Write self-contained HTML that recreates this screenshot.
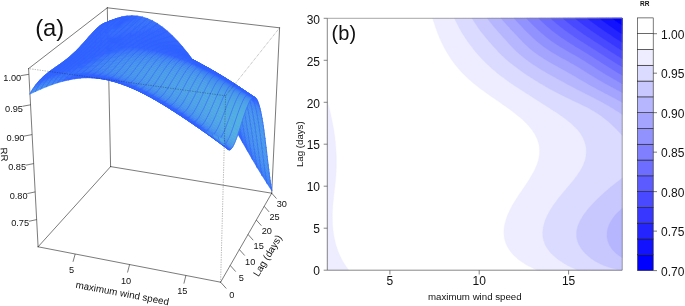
<!DOCTYPE html>
<html><head><meta charset="utf-8"><title>Figure</title><style>html,body{margin:0;padding:0;background:#fff}body{width:685px;height:306px;overflow:hidden;position:relative;font-family:"Liberation Sans",sans-serif}</style></head><body>
<div style="will-change:transform;position:absolute;left:0;top:0;width:685px;height:306px">
<svg width="685" height="306" viewBox="0 0 685 306" style="position:absolute;left:0;top:0;font-family:'Liberation Sans',sans-serif">
<rect width="685" height="306" fill="#fff"/>
<g stroke="#222" stroke-width="0.6" fill="none" stroke-linecap="round">
<path d="M38.1 246.8L220.6 282.2"/>
<path d="M220.6 282.2L271.7 193.2"/>
<path d="M271.7 193.2L110.6 166.6"/>
<path d="M110.6 166.6L38.1 246.8"/>
<path d="M38.1 246.8L28.6 68.6"/>
<path d="M28.6 68.6L107.3 7.8"/>
<path d="M107.3 7.8L279.6 27.8"/>
<path d="M279.6 27.8L271.7 193.2"/>
<path d="M110.6 166.6L107.3 7.8"/>
</g>
<g transform="scale(.1)" fill="none" stroke="#2f62ff" stroke-width="6" stroke-linecap="round" stroke-linejoin="round">
<path d="M1064 227l49-22l11-3l-48 24z" fill="#2f62ff" stroke="#2f62ff" stroke-width="7"/>
<path d="M1064 227L1076 226"/>
<path d="M1113 205l49-18l12-5l-50 20z" fill="#2f62ff" stroke="#2f62ff" stroke-width="7"/>
<path d="M1162 187l50-13l11-6l-49 14z" fill="#2f62ff" stroke="#2f62ff" stroke-width="7"/>
<path d="M1212 174l50-7l11-8l-50 9z" fill="#2f62ff" stroke="#2f62ff" stroke-width="7"/>
<path d="M1262 167l50-2l11-8l-50 2z" fill="#2f62ff" stroke="#2f62ff" stroke-width="7"/>
<path d="M1312 165l51 4l10-9l-50-3z" fill="#2f62ff" stroke="#2f62ff" stroke-width="7"/>
<path d="M1363 169l50 10l11-9l-51-10z" fill="#3167fd" stroke="#3167fd" stroke-width="7"/>
<path d="M1413 179l51 16l10-9l-50-16z" fill="#356efa" stroke="#356efa" stroke-width="7"/>
<path d="M1413 179L1424 170"/>
<path d="M1464 195l51 22l10-9l-51-22z" fill="#3671f9" stroke="#3671f9" stroke-width="7"/>
<path d="M1464 195L1474 186"/>
<path d="M1515 217l51 28l10-8l-51-29z" fill="#356ffa" stroke="#356ffa" stroke-width="7"/>
<path d="M1515 217L1525 208"/>
<path d="M1566 245l51 34l10-6l-51-36z" fill="#3269fc" stroke="#3269fc" stroke-width="7"/>
<path d="M1566 245L1576 237"/>
<path d="M1617 279l51 39l10-4l-51-41z" fill="#2f62ff" stroke="#2f62ff" stroke-width="7"/>
<path d="M1668 318l51 46l10-2l-51-48z" fill="#2f62ff" stroke="#2f62ff" stroke-width="7"/>
<path d="M1719 364l51 51l10 0l-51-53z" fill="#2f62ff" stroke="#2f62ff" stroke-width="7"/>
<path d="M1770 415l51 56l10 3l-51-59z" fill="#2f62ff" stroke="#2f62ff" stroke-width="7"/>
<path d="M1821 471l51 61l10 5l-51-63z" fill="#2f62ff" stroke="#2f62ff" stroke-width="7"/>
<path d="M1872 532l51 65l9 8l-50-68z" fill="#2f62ff" stroke="#2f62ff" stroke-width="7"/>
<path d="M1923 597l51 70l9 11l-51-73z" fill="#2f62ff" stroke="#2f62ff" stroke-width="7"/>
<path d="M1974 667l50 73l9 13l-50-75z" fill="#2f62ff" stroke="#2f62ff" stroke-width="7"/>
<path d="M2024 740l51 76l8 16l-50-79z" fill="#2f62ff" stroke="#2f62ff" stroke-width="7"/>
<path d="M2075 816l50 79l8 19l-50-82z" fill="#2f62ff" stroke="#2f62ff" stroke-width="7"/>
<path d="M2125 895l50 81l8 21l-50-83z" fill="#2f62ff" stroke="#2f62ff" stroke-width="7"/>
<path d="M2175 976l49 82l8 24l-49-85z" fill="#2f62ff" stroke="#2f62ff" stroke-width="7"/>
<path d="M2224 1058l50 84l7 26l-49-86z" fill="#2f62ff" stroke="#2f62ff" stroke-width="7"/>
<path d="M2274 1142l49 85l7 28l-49-87z" fill="#2f62ff" stroke="#2f62ff" stroke-width="7"/>
<path d="M2323 1227l49 85l7 29l-49-86z" fill="#2f62ff" stroke="#2f62ff" stroke-width="7"/>
<path d="M2372 1312l49 84l7 31l-49-86z" fill="#2f62ff" stroke="#2f62ff" stroke-width="7"/>
<path d="M2421 1396l49 84l7 32l-49-85z" fill="#2f62ff" stroke="#2f62ff" stroke-width="7"/>
<path d="M2470 1480l49 83l6 33l-48-84z" fill="#3166fe" stroke="#3166fe" stroke-width="7"/>
<path d="M2519 1563l48 82l6 32l-48-81z" fill="#336bfb" stroke="#336bfb" stroke-width="7"/>
<path d="M2519 1563L2525 1596"/>
<path d="M2567 1645l49 80l6 32l-49-80z" fill="#356ffa" stroke="#356ffa" stroke-width="7"/>
<path d="M2567 1645L2573 1677"/>
<path d="M2616 1725l48 77l6 31l-48-76z" fill="#3671f9" stroke="#3671f9" stroke-width="7"/>
<path d="M2616 1725L2622 1757"/>
<path d="M2664 1802l49 75l5 30l-48-74z" fill="#3672f9" stroke="#3672f9" stroke-width="7"/>
<path d="M2664 1802L2670 1833M2713 1877L2718 1907"/>
<path d="M1053 229l49-20l11-4l-49 22z" fill="#2f62ff" stroke="#2f62ff" stroke-width="7"/>
<path d="M1053 229L1064 227"/>
<path d="M1102 209l49-16l11-6l-49 18z" fill="#2f62ff" stroke="#2f62ff" stroke-width="7"/>
<path d="M1151 193l50-12l11-7l-50 13z" fill="#2f62ff" stroke="#2f62ff" stroke-width="7"/>
<path d="M1201 181l50-6l11-8l-50 7z" fill="#2f62ff" stroke="#2f62ff" stroke-width="7"/>
<path d="M1251 175l50-1l11-9l-50 2z" fill="#2f62ff" stroke="#2f62ff" stroke-width="7"/>
<path d="M1301 174l51 4l11-9l-51-4z" fill="#2f62ff" stroke="#2f62ff" stroke-width="7"/>
<path d="M1352 178l51 10l10-9l-50-10z" fill="#3267fd" stroke="#3267fd" stroke-width="7"/>
<path d="M1403 188l50 15l11-8l-51-16z" fill="#356ffa" stroke="#356ffa" stroke-width="7"/>
<path d="M1403 188L1413 179"/>
<path d="M1453 203l51 22l11-8l-51-22z" fill="#3671f9" stroke="#3671f9" stroke-width="7"/>
<path d="M1453 203L1464 195"/>
<path d="M1504 225l52 27l10-7l-51-28z" fill="#356ffa" stroke="#356ffa" stroke-width="7"/>
<path d="M1504 225L1515 217"/>
<path d="M1556 252l51 32l10-5l-51-34z" fill="#3269fc" stroke="#3269fc" stroke-width="7"/>
<path d="M1556 252L1566 245"/>
<path d="M1607 284l51 39l10-5l-51-39z" fill="#2f62ff" stroke="#2f62ff" stroke-width="7"/>
<path d="M1658 323l51 43l10-2l-51-46z" fill="#2f62ff" stroke="#2f62ff" stroke-width="7"/>
<path d="M1709 366l52 49l9 0l-51-51z" fill="#2f62ff" stroke="#2f62ff" stroke-width="7"/>
<path d="M1761 415l51 54l9 2l-51-56z" fill="#2f62ff" stroke="#2f62ff" stroke-width="7"/>
<path d="M1812 469l51 58l9 5l-51-61z" fill="#2f62ff" stroke="#2f62ff" stroke-width="7"/>
<path d="M1863 527l51 63l9 7l-51-65z" fill="#2f62ff" stroke="#2f62ff" stroke-width="7"/>
<path d="M1914 590l51 66l9 11l-51-70z" fill="#2f62ff" stroke="#2f62ff" stroke-width="7"/>
<path d="M1965 656l50 70l9 14l-50-73z" fill="#2f62ff" stroke="#2f62ff" stroke-width="7"/>
<path d="M2015 726l51 73l9 17l-51-76z" fill="#2f62ff" stroke="#2f62ff" stroke-width="7"/>
<path d="M2066 799l50 76l9 20l-50-79z" fill="#2f62ff" stroke="#2f62ff" stroke-width="7"/>
<path d="M2116 875l51 79l8 22l-50-81z" fill="#2f62ff" stroke="#2f62ff" stroke-width="7"/>
<path d="M2167 954l50 80l7 24l-49-82z" fill="#2f62ff" stroke="#2f62ff" stroke-width="7"/>
<path d="M2217 1034l49 81l8 27l-50-84z" fill="#2f62ff" stroke="#2f62ff" stroke-width="7"/>
<path d="M2266 1115l50 83l7 29l-49-85z" fill="#2f62ff" stroke="#2f62ff" stroke-width="7"/>
<path d="M2316 1198l49 83l7 31l-49-85z" fill="#2f62ff" stroke="#2f62ff" stroke-width="7"/>
<path d="M2365 1281l50 83l6 32l-49-84z" fill="#2f62ff" stroke="#2f62ff" stroke-width="7"/>
<path d="M2415 1364l49 83l6 33l-49-84z" fill="#3269fc" stroke="#3269fc" stroke-width="7"/>
<path d="M2415 1364L2421 1396"/>
<path d="M2464 1447l49 82l6 34l-49-83z" fill="#3670f9" stroke="#3670f9" stroke-width="7"/>
<path d="M2464 1447L2470 1480"/>
<path d="M2513 1529l49 81l5 35l-48-82z" fill="#3875f7" stroke="#3875f7" stroke-width="7"/>
<path d="M2513 1529L2519 1563"/>
<path d="M2562 1610l48 80l6 35l-49-80z" fill="#3a79f6" stroke="#3a79f6" stroke-width="7"/>
<path d="M2562 1610L2567 1645"/>
<path d="M2610 1690l49 78l5 34l-48-77z" fill="#3b7bf5" stroke="#3b7bf5" stroke-width="7"/>
<path d="M2610 1690L2616 1725"/>
<path d="M2659 1768l49 77l5 32l-49-75z" fill="#3b7cf5" stroke="#3b7cf5" stroke-width="7"/>
<path d="M2659 1768L2664 1802M2708 1845L2713 1877"/>
<path d="M1041 234l50-20l11-5l-49 20z" fill="#2f62ff" stroke="#2f62ff" stroke-width="7"/>
<path d="M1041 234L1053 229"/>
<path d="M1091 214l49-15l11-6l-49 16z" fill="#2f62ff" stroke="#2f62ff" stroke-width="7"/>
<path d="M1140 199l50-10l11-8l-50 12z" fill="#2f62ff" stroke="#2f62ff" stroke-width="7"/>
<path d="M1190 189l50-6l11-8l-50 6z" fill="#2f62ff" stroke="#2f62ff" stroke-width="7"/>
<path d="M1240 183l50-1l11-8l-50 1z" fill="#2f62ff" stroke="#2f62ff" stroke-width="7"/>
<path d="M1290 182l51 5l11-9l-51-4z" fill="#2f62ff" stroke="#2f62ff" stroke-width="7"/>
<path d="M1341 187l51 10l11-9l-51-10z" fill="#3268fd" stroke="#3268fd" stroke-width="7"/>
<path d="M1392 197l51 15l10-9l-50-15z" fill="#356ffa" stroke="#356ffa" stroke-width="7"/>
<path d="M1392 197L1403 188"/>
<path d="M1443 212l51 21l10-8l-51-22z" fill="#3671f9" stroke="#3671f9" stroke-width="7"/>
<path d="M1443 212L1453 203"/>
<path d="M1494 233l51 26l11-7l-52-27z" fill="#356ffa" stroke="#356ffa" stroke-width="7"/>
<path d="M1494 233L1504 225"/>
<path d="M1545 259l52 31l10-6l-51-32z" fill="#3269fc" stroke="#3269fc" stroke-width="7"/>
<path d="M1545 259L1556 252"/>
<path d="M1597 290l51 37l10-4l-51-39z" fill="#2f62ff" stroke="#2f62ff" stroke-width="7"/>
<path d="M1648 327l51 42l10-3l-51-43z" fill="#2f62ff" stroke="#2f62ff" stroke-width="7"/>
<path d="M1699 369l52 46l10 0l-52-49z" fill="#2f62ff" stroke="#2f62ff" stroke-width="7"/>
<path d="M1751 415l51 52l10 2l-51-54z" fill="#2f62ff" stroke="#2f62ff" stroke-width="7"/>
<path d="M1802 467l51 55l10 5l-51-58z" fill="#2f62ff" stroke="#2f62ff" stroke-width="7"/>
<path d="M1853 522l52 60l9 8l-51-63z" fill="#2f62ff" stroke="#2f62ff" stroke-width="7"/>
<path d="M1905 582l51 64l9 10l-51-66z" fill="#2f62ff" stroke="#2f62ff" stroke-width="7"/>
<path d="M1956 646l51 67l8 13l-50-70z" fill="#2f62ff" stroke="#2f62ff" stroke-width="7"/>
<path d="M2007 713l50 70l9 16l-51-73z" fill="#2f62ff" stroke="#2f62ff" stroke-width="7"/>
<path d="M2057 783l51 73l8 19l-50-76z" fill="#2f62ff" stroke="#2f62ff" stroke-width="7"/>
<path d="M2108 856l50 75l9 23l-51-79z" fill="#2f62ff" stroke="#2f62ff" stroke-width="7"/>
<path d="M2158 931l51 78l8 25l-50-80z" fill="#2f62ff" stroke="#2f62ff" stroke-width="7"/>
<path d="M2209 1009l50 79l7 27l-49-81z" fill="#2f62ff" stroke="#2f62ff" stroke-width="7"/>
<path d="M2259 1088l50 80l7 30l-50-83z" fill="#2f62ff" stroke="#2f62ff" stroke-width="7"/>
<path d="M2309 1168l49 81l7 32l-49-83z" fill="#2f62ff" stroke="#2f62ff" stroke-width="7"/>
<path d="M2358 1249l50 81l7 34l-50-83z" fill="#3268fd" stroke="#3268fd" stroke-width="7"/>
<path d="M2408 1330l49 82l7 35l-49-83z" fill="#3671f9" stroke="#3671f9" stroke-width="7"/>
<path d="M2408 1330L2415 1364"/>
<path d="M2457 1412l50 81l6 36l-49-82z" fill="#3a78f6" stroke="#3a78f6" stroke-width="7"/>
<path d="M2457 1412L2464 1447"/>
<path d="M2507 1493l49 81l6 36l-49-81z" fill="#3c7df4" stroke="#3c7df4" stroke-width="7"/>
<path d="M2507 1493L2513 1529"/>
<path d="M2556 1574l49 80l5 36l-48-80z" fill="#3d80f3" stroke="#3d80f3" stroke-width="7"/>
<path d="M2556 1574L2562 1610"/>
<path d="M2605 1654l49 78l5 36l-49-78z" fill="#3e82f2" stroke="#3e82f2" stroke-width="7"/>
<path d="M2605 1654L2610 1690"/>
<path d="M2654 1732l48 78l6 35l-49-77z" fill="#3f83f2" stroke="#3f83f2" stroke-width="7"/>
<path d="M2654 1732L2659 1768M2702 1810L2708 1845"/>
<path d="M1030 239l49-19l12-6l-50 20z" fill="#2f62ff" stroke="#2f62ff" stroke-width="7"/>
<path d="M1030 239L1041 234"/>
<path d="M1079 220l50-14l11-7l-49 15z" fill="#2f62ff" stroke="#2f62ff" stroke-width="7"/>
<path d="M1129 206l50-10l11-7l-50 10z" fill="#2f62ff" stroke="#2f62ff" stroke-width="7"/>
<path d="M1179 196l50-5l11-8l-50 6z" fill="#2f62ff" stroke="#2f62ff" stroke-width="7"/>
<path d="M1229 191l50 0l11-9l-50 1z" fill="#2f62ff" stroke="#2f62ff" stroke-width="7"/>
<path d="M1279 191l51 5l11-9l-51-5z" fill="#2f62ff" stroke="#2f62ff" stroke-width="7"/>
<path d="M1330 196l51 10l11-9l-51-10z" fill="#3269fc" stroke="#3269fc" stroke-width="7"/>
<path d="M1330 196L1341 187"/>
<path d="M1381 206l51 15l11-9l-51-15z" fill="#356ffa" stroke="#356ffa" stroke-width="7"/>
<path d="M1381 206L1392 197"/>
<path d="M1432 221l51 20l11-8l-51-21z" fill="#3670f9" stroke="#3670f9" stroke-width="7"/>
<path d="M1432 221L1443 212"/>
<path d="M1483 241l52 25l10-7l-51-26z" fill="#356efa" stroke="#356efa" stroke-width="7"/>
<path d="M1483 241L1494 233"/>
<path d="M1535 266l51 31l11-7l-52-31z" fill="#3269fc" stroke="#3269fc" stroke-width="7"/>
<path d="M1535 266L1545 259"/>
<path d="M1586 297l52 35l10-5l-51-37z" fill="#2f62ff" stroke="#2f62ff" stroke-width="7"/>
<path d="M1638 332l51 40l10-3l-51-42z" fill="#2f62ff" stroke="#2f62ff" stroke-width="7"/>
<path d="M1689 372l52 44l10-1l-52-46z" fill="#2f62ff" stroke="#2f62ff" stroke-width="7"/>
<path d="M1741 416l51 49l10 2l-51-52z" fill="#2f62ff" stroke="#2f62ff" stroke-width="7"/>
<path d="M1792 465l52 53l9 4l-51-55z" fill="#2f62ff" stroke="#2f62ff" stroke-width="7"/>
<path d="M1844 518l51 57l10 7l-52-60z" fill="#2f62ff" stroke="#2f62ff" stroke-width="7"/>
<path d="M1895 575l52 61l9 10l-51-64z" fill="#2f62ff" stroke="#2f62ff" stroke-width="7"/>
<path d="M1947 636l51 64l9 13l-51-67z" fill="#2f62ff" stroke="#2f62ff" stroke-width="7"/>
<path d="M1998 700l51 67l8 16l-50-70z" fill="#2f62ff" stroke="#2f62ff" stroke-width="7"/>
<path d="M2049 767l51 70l8 19l-51-73z" fill="#2f62ff" stroke="#2f62ff" stroke-width="7"/>
<path d="M2100 837l50 72l8 22l-50-75z" fill="#2f62ff" stroke="#2f62ff" stroke-width="7"/>
<path d="M2150 909l51 75l8 25l-51-78z" fill="#2f62ff" stroke="#2f62ff" stroke-width="7"/>
<path d="M2201 984l50 76l8 28l-50-79z" fill="#2f62ff" stroke="#2f62ff" stroke-width="7"/>
<path d="M2251 1060l50 77l8 31l-50-80z" fill="#2f62ff" stroke="#2f62ff" stroke-width="7"/>
<path d="M2301 1137l50 79l7 33l-49-81z" fill="#3064fe" stroke="#3064fe" stroke-width="7"/>
<path d="M2351 1216l50 80l7 34l-50-81z" fill="#3570fa" stroke="#3570fa" stroke-width="7"/>
<path d="M2351 1216L2358 1249"/>
<path d="M2401 1296l50 80l6 36l-49-82z" fill="#3978f6" stroke="#3978f6" stroke-width="7"/>
<path d="M2401 1296L2408 1330"/>
<path d="M2451 1376l49 80l7 37l-50-81z" fill="#3c7ef4" stroke="#3c7ef4" stroke-width="7"/>
<path d="M2451 1376L2457 1412"/>
<path d="M2500 1456l50 80l6 38l-49-81z" fill="#3f83f2" stroke="#3f83f2" stroke-width="7"/>
<path d="M2500 1456L2507 1493"/>
<path d="M2550 1536l49 80l6 38l-49-80z" fill="#4086f1" stroke="#4086f1" stroke-width="7"/>
<path d="M2550 1536L2556 1574"/>
<path d="M2599 1616l49 79l6 37l-49-78z" fill="#4188f0" stroke="#4188f0" stroke-width="7"/>
<path d="M2599 1616L2605 1654"/>
<path d="M2648 1695l49 77l5 38l-48-78z" fill="#4188f0" stroke="#4188f0" stroke-width="7"/>
<path d="M2648 1695L2654 1732M2697 1772L2702 1810"/>
<path d="M1018 246l50-18l11-8l-49 19z" fill="#2f62ff" stroke="#2f62ff" stroke-width="7"/>
<path d="M1018 246L1030 239"/>
<path d="M1068 228l50-14l11-8l-50 14z" fill="#2f62ff" stroke="#2f62ff" stroke-width="7"/>
<path d="M1118 214l50-9l11-9l-50 10z" fill="#2f62ff" stroke="#2f62ff" stroke-width="7"/>
<path d="M1168 205l50-5l11-9l-50 5z" fill="#2f62ff" stroke="#2f62ff" stroke-width="7"/>
<path d="M1218 200l50 1l11-10l-50 0z" fill="#2f62ff" stroke="#2f62ff" stroke-width="7"/>
<path d="M1268 201l51 5l11-10l-51-5z" fill="#2f62ff" stroke="#2f62ff" stroke-width="7"/>
<path d="M1319 206l51 9l11-9l-51-10z" fill="#336afc" stroke="#336afc" stroke-width="7"/>
<path d="M1319 206L1330 196"/>
<path d="M1370 215l52 15l10-9l-51-15z" fill="#356ffa" stroke="#356ffa" stroke-width="7"/>
<path d="M1370 215L1381 206"/>
<path d="M1422 230l51 19l10-8l-51-20z" fill="#3670fa" stroke="#3670fa" stroke-width="7"/>
<path d="M1422 230L1432 221"/>
<path d="M1473 249l51 25l11-8l-52-25z" fill="#356efa" stroke="#356efa" stroke-width="7"/>
<path d="M1473 249L1483 241"/>
<path d="M1524 274l52 29l10-6l-51-31z" fill="#3269fc" stroke="#3269fc" stroke-width="7"/>
<path d="M1524 274L1535 266"/>
<path d="M1576 303l52 33l10-4l-52-35z" fill="#2f62ff" stroke="#2f62ff" stroke-width="7"/>
<path d="M1628 336l51 38l10-2l-51-40z" fill="#2f62ff" stroke="#2f62ff" stroke-width="7"/>
<path d="M1679 374l52 43l10-1l-52-44z" fill="#2f62ff" stroke="#2f62ff" stroke-width="7"/>
<path d="M1731 417l52 46l9 2l-51-49z" fill="#2f62ff" stroke="#2f62ff" stroke-width="7"/>
<path d="M1783 463l51 51l10 4l-52-53z" fill="#2f62ff" stroke="#2f62ff" stroke-width="7"/>
<path d="M1834 514l52 54l9 7l-51-57z" fill="#2f62ff" stroke="#2f62ff" stroke-width="7"/>
<path d="M1886 568l51 58l10 10l-52-61z" fill="#2f62ff" stroke="#2f62ff" stroke-width="7"/>
<path d="M1937 626l52 61l9 13l-51-64z" fill="#2f62ff" stroke="#2f62ff" stroke-width="7"/>
<path d="M1989 687l51 64l9 16l-51-67z" fill="#2f62ff" stroke="#2f62ff" stroke-width="7"/>
<path d="M2040 751l51 67l9 19l-51-70z" fill="#2f62ff" stroke="#2f62ff" stroke-width="7"/>
<path d="M2091 818l51 69l8 22l-50-72z" fill="#2f62ff" stroke="#2f62ff" stroke-width="7"/>
<path d="M2142 887l51 71l8 26l-51-75z" fill="#2f62ff" stroke="#2f62ff" stroke-width="7"/>
<path d="M2193 958l51 74l7 28l-50-76z" fill="#2f62ff" stroke="#2f62ff" stroke-width="7"/>
<path d="M2244 1032l50 75l7 30l-50-77z" fill="#2f62ff" stroke="#2f62ff" stroke-width="7"/>
<path d="M2294 1107l50 76l7 33l-50-79z" fill="#336bfc" stroke="#336bfc" stroke-width="7"/>
<path d="M2294 1107L2301 1137"/>
<path d="M2344 1183l50 78l7 35l-50-80z" fill="#3875f7" stroke="#3875f7" stroke-width="7"/>
<path d="M2344 1183L2351 1216"/>
<path d="M2394 1261l50 78l7 37l-50-80z" fill="#3c7df4" stroke="#3c7df4" stroke-width="7"/>
<path d="M2394 1261L2401 1296"/>
<path d="M2444 1339l50 79l6 38l-49-80z" fill="#3f83f2" stroke="#3f83f2" stroke-width="7"/>
<path d="M2444 1339L2451 1376"/>
<path d="M2494 1418l50 79l6 39l-50-80z" fill="#4188f0" stroke="#4188f0" stroke-width="7"/>
<path d="M2494 1418L2500 1456"/>
<path d="M2544 1497l49 79l6 40l-49-80z" fill="#428aef" stroke="#428aef" stroke-width="7"/>
<path d="M2544 1497L2550 1536"/>
<path d="M2593 1576l50 79l5 40l-49-79z" fill="#438cef" stroke="#438cef" stroke-width="7"/>
<path d="M2593 1576L2599 1616"/>
<path d="M2643 1655l49 78l5 39l-49-77z" fill="#438dee" stroke="#438dee" stroke-width="7"/>
<path d="M2643 1655L2648 1695M2692 1733L2697 1772"/>
<path d="M1007 253l49-17l12-8l-50 18z" fill="#2f62ff" stroke="#2f62ff" stroke-width="7"/>
<path d="M1007 253L1018 246"/>
<path d="M1056 236l50-14l12-8l-50 14z" fill="#2f62ff" stroke="#2f62ff" stroke-width="7"/>
<path d="M1106 222l50-8l12-9l-50 9z" fill="#2f62ff" stroke="#2f62ff" stroke-width="7"/>
<path d="M1156 214l51-5l11-9l-50 5z" fill="#2f62ff" stroke="#2f62ff" stroke-width="7"/>
<path d="M1207 209l50 1l11-9l-50-1z" fill="#2f62ff" stroke="#2f62ff" stroke-width="7"/>
<path d="M1257 210l51 5l11-9l-51-5z" fill="#2f62ff" stroke="#2f62ff" stroke-width="7"/>
<path d="M1308 215l52 10l10-10l-51-9z" fill="#336afc" stroke="#336afc" stroke-width="7"/>
<path d="M1308 215L1319 206"/>
<path d="M1360 225l51 14l11-9l-52-15z" fill="#356efa" stroke="#356efa" stroke-width="7"/>
<path d="M1360 225L1370 215"/>
<path d="M1411 239l51 19l11-9l-51-19z" fill="#356ffa" stroke="#356ffa" stroke-width="7"/>
<path d="M1411 239L1422 230"/>
<path d="M1462 258l52 23l10-7l-51-25z" fill="#346dfb" stroke="#346dfb" stroke-width="7"/>
<path d="M1462 258L1473 249"/>
<path d="M1514 281l52 28l10-6l-52-29z" fill="#3268fd" stroke="#3268fd" stroke-width="7"/>
<path d="M1566 309l51 32l11-5l-52-33z" fill="#2f62ff" stroke="#2f62ff" stroke-width="7"/>
<path d="M1617 341l52 36l10-3l-51-38z" fill="#2f62ff" stroke="#2f62ff" stroke-width="7"/>
<path d="M1669 377l52 41l10-1l-52-43z" fill="#2f62ff" stroke="#2f62ff" stroke-width="7"/>
<path d="M1721 418l52 44l10 1l-52-46z" fill="#2f62ff" stroke="#2f62ff" stroke-width="7"/>
<path d="M1773 462l52 48l9 4l-51-51z" fill="#2f62ff" stroke="#2f62ff" stroke-width="7"/>
<path d="M1825 510l51 51l10 7l-52-54z" fill="#2f62ff" stroke="#2f62ff" stroke-width="7"/>
<path d="M1876 561l52 55l9 10l-51-58z" fill="#2f62ff" stroke="#2f62ff" stroke-width="7"/>
<path d="M1928 616l52 58l9 13l-52-61z" fill="#2f62ff" stroke="#2f62ff" stroke-width="7"/>
<path d="M1980 674l51 61l9 16l-51-64z" fill="#2f62ff" stroke="#2f62ff" stroke-width="7"/>
<path d="M2031 735l51 64l9 19l-51-67z" fill="#2f62ff" stroke="#2f62ff" stroke-width="7"/>
<path d="M2082 799l52 66l8 22l-51-69z" fill="#2f62ff" stroke="#2f62ff" stroke-width="7"/>
<path d="M2134 865l51 68l8 25l-51-71z" fill="#2f62ff" stroke="#2f62ff" stroke-width="7"/>
<path d="M2185 933l51 71l8 28l-51-74z" fill="#2f62ff" stroke="#2f62ff" stroke-width="7"/>
<path d="M2236 1004l51 72l7 31l-50-75z" fill="#2f62ff" stroke="#2f62ff" stroke-width="7"/>
<path d="M2287 1076l50 74l7 33l-50-76z" fill="#3670fa" stroke="#3670fa" stroke-width="7"/>
<path d="M2287 1076L2294 1107"/>
<path d="M2337 1150l51 75l6 36l-50-78z" fill="#3a7af6" stroke="#3a7af6" stroke-width="7"/>
<path d="M2337 1150L2344 1183"/>
<path d="M2388 1225l50 76l6 38l-50-78z" fill="#3e82f3" stroke="#3e82f3" stroke-width="7"/>
<path d="M2388 1225L2394 1261"/>
<path d="M2438 1301l50 78l6 39l-50-79z" fill="#4187f1" stroke="#4187f1" stroke-width="7"/>
<path d="M2438 1301L2444 1339"/>
<path d="M2488 1379l50 78l6 40l-50-79z" fill="#438bef" stroke="#438bef" stroke-width="7"/>
<path d="M2488 1379L2494 1418"/>
<path d="M2538 1457l50 78l5 41l-49-79z" fill="#448eee" stroke="#448eee" stroke-width="7"/>
<path d="M2538 1457L2544 1497"/>
<path d="M2588 1535l49 79l6 41l-50-79z" fill="#4590ed" stroke="#4590ed" stroke-width="7"/>
<path d="M2588 1535L2593 1576"/>
<path d="M2637 1614l50 79l5 40l-49-78z" fill="#4590ed" stroke="#4590ed" stroke-width="7"/>
<path d="M2637 1614L2643 1655M2687 1693L2692 1733"/>
<path d="M995 262l50-18l11-8l-49 17z" fill="#2f62ff" stroke="#2f62ff" stroke-width="7"/>
<path d="M995 262L1007 253"/>
<path d="M1045 244l50-13l11-9l-50 14z" fill="#2f62ff" stroke="#2f62ff" stroke-width="7"/>
<path d="M1095 231l50-8l11-9l-50 8z" fill="#2f62ff" stroke="#2f62ff" stroke-width="7"/>
<path d="M1145 223l51-4l11-10l-51 5z" fill="#2f62ff" stroke="#2f62ff" stroke-width="7"/>
<path d="M1196 219l50 0l11-9l-50-1z" fill="#2f62ff" stroke="#2f62ff" stroke-width="7"/>
<path d="M1246 219l51 5l11-9l-51-5z" fill="#3064fe" stroke="#3064fe" stroke-width="7"/>
<path d="M1297 224l52 10l11-9l-52-10z" fill="#336bfc" stroke="#336bfc" stroke-width="7"/>
<path d="M1297 224L1308 215"/>
<path d="M1349 234l51 14l11-9l-51-14z" fill="#356efa" stroke="#356efa" stroke-width="7"/>
<path d="M1349 234L1360 225"/>
<path d="M1400 248l52 18l10-8l-51-19z" fill="#356ffa" stroke="#356ffa" stroke-width="7"/>
<path d="M1400 248L1411 239"/>
<path d="M1452 266l51 22l11-7l-52-23z" fill="#346cfb" stroke="#346cfb" stroke-width="7"/>
<path d="M1452 266L1462 258"/>
<path d="M1503 288l52 27l11-6l-52-28z" fill="#3167fd" stroke="#3167fd" stroke-width="7"/>
<path d="M1555 315l52 31l10-5l-51-32z" fill="#2f62ff" stroke="#2f62ff" stroke-width="7"/>
<path d="M1607 346l52 34l10-3l-52-36z" fill="#2f62ff" stroke="#2f62ff" stroke-width="7"/>
<path d="M1659 380l52 39l10-1l-52-41z" fill="#2f62ff" stroke="#2f62ff" stroke-width="7"/>
<path d="M1711 419l52 42l10 1l-52-44z" fill="#2f62ff" stroke="#2f62ff" stroke-width="7"/>
<path d="M1763 461l52 45l10 4l-52-48z" fill="#2f62ff" stroke="#2f62ff" stroke-width="7"/>
<path d="M1815 506l52 49l9 6l-51-51z" fill="#2f62ff" stroke="#2f62ff" stroke-width="7"/>
<path d="M1867 555l52 52l9 9l-52-55z" fill="#2f62ff" stroke="#2f62ff" stroke-width="7"/>
<path d="M1919 607l52 55l9 12l-52-58z" fill="#2f62ff" stroke="#2f62ff" stroke-width="7"/>
<path d="M1971 662l51 58l9 15l-51-61z" fill="#2f62ff" stroke="#2f62ff" stroke-width="7"/>
<path d="M2022 720l52 60l8 19l-51-64z" fill="#2f62ff" stroke="#2f62ff" stroke-width="7"/>
<path d="M2074 780l51 63l9 22l-52-66z" fill="#2f62ff" stroke="#2f62ff" stroke-width="7"/>
<path d="M2125 843l52 66l8 24l-51-68z" fill="#2f62ff" stroke="#2f62ff" stroke-width="7"/>
<path d="M2177 909l51 67l8 28l-51-71z" fill="#2f62ff" stroke="#2f62ff" stroke-width="7"/>
<path d="M2228 976l51 69l8 31l-51-72z" fill="#3167fd" stroke="#3167fd" stroke-width="7"/>
<path d="M2279 1045l51 72l7 33l-50-74z" fill="#3874f8" stroke="#3874f8" stroke-width="7"/>
<path d="M2279 1045L2287 1076"/>
<path d="M2330 1117l51 72l7 36l-51-75z" fill="#3c7ef4" stroke="#3c7ef4" stroke-width="7"/>
<path d="M2330 1117L2337 1150"/>
<path d="M2381 1189l50 75l7 37l-50-76z" fill="#4085f1" stroke="#4085f1" stroke-width="7"/>
<path d="M2381 1189L2388 1225"/>
<path d="M2431 1264l51 75l6 40l-50-78z" fill="#428aef" stroke="#428aef" stroke-width="7"/>
<path d="M2431 1264L2438 1301"/>
<path d="M2482 1339l50 77l6 41l-50-78z" fill="#448eee" stroke="#448eee" stroke-width="7"/>
<path d="M2482 1339L2488 1379"/>
<path d="M2532 1416l50 77l6 42l-50-78z" fill="#4591ed" stroke="#4591ed" stroke-width="7"/>
<path d="M2532 1416L2538 1457"/>
<path d="M2582 1493l50 79l5 42l-49-79z" fill="#4692ec" stroke="#4692ec" stroke-width="7"/>
<path d="M2582 1493L2588 1535"/>
<path d="M2632 1572l50 79l5 42l-50-79z" fill="#4693ec" stroke="#4693ec" stroke-width="7"/>
<path d="M2632 1572L2637 1614M2682 1651L2687 1693"/>
<path d="M984 272l49-18l12-10l-50 18z" fill="#2f62ff" stroke="#2f62ff" stroke-width="7"/>
<path d="M984 272L995 262"/>
<path d="M1033 254l50-13l12-10l-50 13z" fill="#2f62ff" stroke="#2f62ff" stroke-width="7"/>
<path d="M1083 241l51-8l11-10l-50 8z" fill="#2f62ff" stroke="#2f62ff" stroke-width="7"/>
<path d="M1134 233l50-4l12-10l-51 4z" fill="#2f62ff" stroke="#2f62ff" stroke-width="7"/>
<path d="M1184 229l51 0l11-10l-50 0z" fill="#2f62ff" stroke="#2f62ff" stroke-width="7"/>
<path d="M1235 229l51 5l11-10l-51-5z" fill="#3065fe" stroke="#3065fe" stroke-width="7"/>
<path d="M1286 234l52 9l11-9l-52-10z" fill="#336bfb" stroke="#336bfb" stroke-width="7"/>
<path d="M1286 234L1297 224"/>
<path d="M1338 243l51 14l11-9l-51-14z" fill="#356efa" stroke="#356efa" stroke-width="7"/>
<path d="M1338 243L1349 234"/>
<path d="M1389 257l52 17l11-8l-52-18z" fill="#356efa" stroke="#356efa" stroke-width="7"/>
<path d="M1389 257L1400 248"/>
<path d="M1441 274l52 22l10-8l-51-22z" fill="#336bfb" stroke="#336bfb" stroke-width="7"/>
<path d="M1441 274L1452 266"/>
<path d="M1493 296l52 25l10-6l-52-27z" fill="#3166fe" stroke="#3166fe" stroke-width="7"/>
<path d="M1545 321l52 29l10-4l-52-31z" fill="#2f62ff" stroke="#2f62ff" stroke-width="7"/>
<path d="M1597 350l52 33l10-3l-52-34z" fill="#2f62ff" stroke="#2f62ff" stroke-width="7"/>
<path d="M1649 383l52 37l10-1l-52-39z" fill="#2f62ff" stroke="#2f62ff" stroke-width="7"/>
<path d="M1701 420l52 39l10 2l-52-42z" fill="#2f62ff" stroke="#2f62ff" stroke-width="7"/>
<path d="M1753 459l52 44l10 3l-52-45z" fill="#2f62ff" stroke="#2f62ff" stroke-width="7"/>
<path d="M1805 503l52 46l10 6l-52-49z" fill="#2f62ff" stroke="#2f62ff" stroke-width="7"/>
<path d="M1857 549l52 49l10 9l-52-52z" fill="#2f62ff" stroke="#2f62ff" stroke-width="7"/>
<path d="M1909 598l52 52l10 12l-52-55z" fill="#2f62ff" stroke="#2f62ff" stroke-width="7"/>
<path d="M1961 650l52 55l9 15l-51-58z" fill="#2f62ff" stroke="#2f62ff" stroke-width="7"/>
<path d="M2013 705l52 57l9 18l-52-60z" fill="#2f62ff" stroke="#2f62ff" stroke-width="7"/>
<path d="M2065 762l52 60l8 21l-51-63z" fill="#2f62ff" stroke="#2f62ff" stroke-width="7"/>
<path d="M2117 822l52 62l8 25l-52-66z" fill="#2f62ff" stroke="#2f62ff" stroke-width="7"/>
<path d="M2169 884l51 65l8 27l-51-67z" fill="#2f62ff" stroke="#2f62ff" stroke-width="7"/>
<path d="M2220 949l51 66l8 30l-51-69z" fill="#336afc" stroke="#336afc" stroke-width="7"/>
<path d="M2220 949L2228 976"/>
<path d="M2271 1015l52 68l7 34l-51-72z" fill="#3977f7" stroke="#3977f7" stroke-width="7"/>
<path d="M2271 1015L2279 1045"/>
<path d="M2323 1083l51 71l7 35l-51-72z" fill="#3d80f3" stroke="#3d80f3" stroke-width="7"/>
<path d="M2323 1083L2330 1117"/>
<path d="M2374 1154l51 72l6 38l-50-75z" fill="#4187f1" stroke="#4187f1" stroke-width="7"/>
<path d="M2374 1154L2381 1189"/>
<path d="M2425 1226l50 73l7 40l-51-75z" fill="#438cef" stroke="#438cef" stroke-width="7"/>
<path d="M2425 1226L2431 1264"/>
<path d="M2475 1299l51 75l6 42l-50-77z" fill="#4590ed" stroke="#4590ed" stroke-width="7"/>
<path d="M2475 1299L2482 1339"/>
<path d="M2526 1374l50 77l6 42l-50-77z" fill="#4693ec" stroke="#4693ec" stroke-width="7"/>
<path d="M2526 1374L2532 1416"/>
<path d="M2576 1451l51 78l5 43l-50-79z" fill="#4794ec" stroke="#4794ec" stroke-width="7"/>
<path d="M2576 1451L2582 1493"/>
<path d="M2627 1529l49 78l6 44l-50-79z" fill="#4795eb" stroke="#4795eb" stroke-width="7"/>
<path d="M2627 1529L2632 1572M2676 1607L2682 1651"/>
<path d="M972 282l50-18l11-10l-49 18z" fill="#2f62ff" stroke="#2f62ff" stroke-width="7"/>
<path d="M972 282L984 272"/>
<path d="M1022 264l50-13l11-10l-50 13z" fill="#2f62ff" stroke="#2f62ff" stroke-width="7"/>
<path d="M1072 251l50-8l12-10l-51 8z" fill="#2f62ff" stroke="#2f62ff" stroke-width="7"/>
<path d="M1122 243l51-4l11-10l-50 4z" fill="#2f62ff" stroke="#2f62ff" stroke-width="7"/>
<path d="M1173 239l51 0l11-10l-51 0z" fill="#2f62ff" stroke="#2f62ff" stroke-width="7"/>
<path d="M1224 239l51 5l11-10l-51-5z" fill="#3166fd" stroke="#3166fd" stroke-width="7"/>
<path d="M1275 244l52 9l11-10l-52-9z" fill="#336bfb" stroke="#336bfb" stroke-width="7"/>
<path d="M1275 244L1286 234"/>
<path d="M1327 253l51 13l11-9l-51-14z" fill="#346efb" stroke="#346efb" stroke-width="7"/>
<path d="M1327 253L1338 243"/>
<path d="M1378 266l52 16l11-8l-52-17z" fill="#346dfb" stroke="#346dfb" stroke-width="7"/>
<path d="M1378 266L1389 257"/>
<path d="M1430 282l52 21l11-7l-52-22z" fill="#336afc" stroke="#336afc" stroke-width="7"/>
<path d="M1430 282L1441 274"/>
<path d="M1482 303l52 24l11-6l-52-25z" fill="#3064fe" stroke="#3064fe" stroke-width="7"/>
<path d="M1534 327l52 28l11-5l-52-29z" fill="#2f62ff" stroke="#2f62ff" stroke-width="7"/>
<path d="M1586 355l52 31l11-3l-52-33z" fill="#2f62ff" stroke="#2f62ff" stroke-width="7"/>
<path d="M1638 386l53 35l10-1l-52-37z" fill="#2f62ff" stroke="#2f62ff" stroke-width="7"/>
<path d="M1691 421l52 38l10 0l-52-39z" fill="#2f62ff" stroke="#2f62ff" stroke-width="7"/>
<path d="M1743 459l52 40l10 4l-52-44z" fill="#2f62ff" stroke="#2f62ff" stroke-width="7"/>
<path d="M1795 499l53 44l9 6l-52-46z" fill="#2f62ff" stroke="#2f62ff" stroke-width="7"/>
<path d="M1848 543l52 46l9 9l-52-49z" fill="#2f62ff" stroke="#2f62ff" stroke-width="7"/>
<path d="M1900 589l52 50l9 11l-52-52z" fill="#2f62ff" stroke="#2f62ff" stroke-width="7"/>
<path d="M1952 639l52 51l9 15l-52-55z" fill="#2f62ff" stroke="#2f62ff" stroke-width="7"/>
<path d="M2004 690l52 55l9 17l-52-57z" fill="#2f62ff" stroke="#2f62ff" stroke-width="7"/>
<path d="M2056 745l52 56l9 21l-52-60z" fill="#2f62ff" stroke="#2f62ff" stroke-width="7"/>
<path d="M2108 801l52 59l9 24l-52-62z" fill="#2f62ff" stroke="#2f62ff" stroke-width="7"/>
<path d="M2160 860l52 62l8 27l-51-65z" fill="#2f62ff" stroke="#2f62ff" stroke-width="7"/>
<path d="M2212 922l52 63l7 30l-51-66z" fill="#346dfb" stroke="#346dfb" stroke-width="7"/>
<path d="M2212 922L2220 949"/>
<path d="M2264 985l51 66l8 32l-52-68z" fill="#3a79f6" stroke="#3a79f6" stroke-width="7"/>
<path d="M2264 985L2271 1015"/>
<path d="M2315 1051l52 68l7 35l-51-71z" fill="#3e82f2" stroke="#3e82f2" stroke-width="7"/>
<path d="M2315 1051L2323 1083"/>
<path d="M2367 1119l51 69l7 38l-51-72z" fill="#4289f0" stroke="#4289f0" stroke-width="7"/>
<path d="M2367 1119L2374 1154"/>
<path d="M2418 1188l51 72l6 39l-50-73z" fill="#448eee" stroke="#448eee" stroke-width="7"/>
<path d="M2418 1188L2425 1226"/>
<path d="M2469 1260l51 73l6 41l-51-75z" fill="#4692ec" stroke="#4692ec" stroke-width="7"/>
<path d="M2469 1260L2475 1299"/>
<path d="M2520 1333l51 75l5 43l-50-77z" fill="#4794ec" stroke="#4794ec" stroke-width="7"/>
<path d="M2520 1333L2526 1374"/>
<path d="M2571 1408l50 77l6 44l-51-78z" fill="#4896eb" stroke="#4896eb" stroke-width="7"/>
<path d="M2571 1408L2576 1451"/>
<path d="M2621 1485l50 79l5 43l-49-78z" fill="#4896eb" stroke="#4896eb" stroke-width="7"/>
<path d="M2621 1485L2627 1529M2671 1564L2676 1607"/>
<path d="M960 293l50-18l12-11l-50 18z" fill="#2f62ff" stroke="#2f62ff" stroke-width="7"/>
<path d="M960 293L972 282"/>
<path d="M1010 275l50-13l12-11l-50 13z" fill="#2f62ff" stroke="#2f62ff" stroke-width="7"/>
<path d="M1060 262l51-9l11-10l-50 8z" fill="#2f62ff" stroke="#2f62ff" stroke-width="7"/>
<path d="M1111 253l51-4l11-10l-51 4z" fill="#2f62ff" stroke="#2f62ff" stroke-width="7"/>
<path d="M1162 249l51 0l11-10l-51 0z" fill="#2f62ff" stroke="#2f62ff" stroke-width="7"/>
<path d="M1213 249l51 5l11-10l-51-5z" fill="#3267fd" stroke="#3267fd" stroke-width="7"/>
<path d="M1264 254l52 8l11-9l-52-9z" fill="#346cfb" stroke="#346cfb" stroke-width="7"/>
<path d="M1264 254L1275 244"/>
<path d="M1316 262l51 12l11-8l-51-13z" fill="#346dfb" stroke="#346dfb" stroke-width="7"/>
<path d="M1316 262L1327 253"/>
<path d="M1367 274l52 17l11-9l-52-16z" fill="#346cfb" stroke="#346cfb" stroke-width="7"/>
<path d="M1367 274L1378 266"/>
<path d="M1419 291l52 19l11-7l-52-21z" fill="#3269fc" stroke="#3269fc" stroke-width="7"/>
<path d="M1419 291L1430 282"/>
<path d="M1471 310l52 23l11-6l-52-24z" fill="#2f63ff" stroke="#2f63ff" stroke-width="7"/>
<path d="M1523 333l53 27l10-5l-52-28z" fill="#2f62ff" stroke="#2f62ff" stroke-width="7"/>
<path d="M1576 360l52 29l10-3l-52-31z" fill="#2f62ff" stroke="#2f62ff" stroke-width="7"/>
<path d="M1628 389l52 33l11-1l-53-35z" fill="#2f62ff" stroke="#2f62ff" stroke-width="7"/>
<path d="M1680 422l53 36l10 1l-52-38z" fill="#2f62ff" stroke="#2f62ff" stroke-width="7"/>
<path d="M1733 458l52 38l10 3l-52-40z" fill="#2f62ff" stroke="#2f62ff" stroke-width="7"/>
<path d="M1785 496l53 41l10 6l-53-44z" fill="#2f62ff" stroke="#2f62ff" stroke-width="7"/>
<path d="M1838 537l52 44l10 8l-52-46z" fill="#2f62ff" stroke="#2f62ff" stroke-width="7"/>
<path d="M1890 581l53 47l9 11l-52-50z" fill="#2f62ff" stroke="#2f62ff" stroke-width="7"/>
<path d="M1943 628l52 48l9 14l-52-51z" fill="#2f62ff" stroke="#2f62ff" stroke-width="7"/>
<path d="M1995 676l53 52l8 17l-52-55z" fill="#2f62ff" stroke="#2f62ff" stroke-width="7"/>
<path d="M2048 728l52 53l8 20l-52-56z" fill="#2f62ff" stroke="#2f62ff" stroke-width="7"/>
<path d="M2100 781l52 56l8 23l-52-59z" fill="#2f62ff" stroke="#2f62ff" stroke-width="7"/>
<path d="M2152 837l52 59l8 26l-52-62z" fill="#2f62ff" stroke="#2f62ff" stroke-width="7"/>
<path d="M2204 896l52 60l8 29l-52-63z" fill="#356efa" stroke="#356efa" stroke-width="7"/>
<path d="M2204 896L2212 922"/>
<path d="M2256 956l52 63l7 32l-51-66z" fill="#3b7af6" stroke="#3b7af6" stroke-width="7"/>
<path d="M2256 956L2264 985"/>
<path d="M2308 1019l52 65l7 35l-52-68z" fill="#3f84f2" stroke="#3f84f2" stroke-width="7"/>
<path d="M2308 1019L2315 1051"/>
<path d="M2360 1084l51 67l7 37l-51-69z" fill="#428aef" stroke="#428aef" stroke-width="7"/>
<path d="M2360 1084L2367 1119"/>
<path d="M2411 1151l52 70l6 39l-51-72z" fill="#448fed" stroke="#448fed" stroke-width="7"/>
<path d="M2411 1151L2418 1188"/>
<path d="M2463 1221l51 71l6 41l-51-73z" fill="#4693ec" stroke="#4693ec" stroke-width="7"/>
<path d="M2463 1221L2469 1260"/>
<path d="M2514 1292l51 74l6 42l-51-75z" fill="#4795eb" stroke="#4795eb" stroke-width="7"/>
<path d="M2514 1292L2520 1333"/>
<path d="M2565 1366l50 75l6 44l-50-77z" fill="#4897ea" stroke="#4897ea" stroke-width="7"/>
<path d="M2565 1366L2571 1408"/>
<path d="M2615 1441l51 78l5 45l-50-79z" fill="#4898ea" stroke="#4898ea" stroke-width="7"/>
<path d="M2615 1441L2621 1485M2666 1519L2671 1564"/>
<path d="M949 305l49-19l12-11l-50 18z" fill="#2f62ff" stroke="#2f62ff" stroke-width="7"/>
<path d="M949 305L960 293"/>
<path d="M998 286l51-13l11-11l-50 13z" fill="#2f62ff" stroke="#2f62ff" stroke-width="7"/>
<path d="M1049 273l50-9l12-11l-51 9z" fill="#2f62ff" stroke="#2f62ff" stroke-width="7"/>
<path d="M1099 264l51-5l12-10l-51 4z" fill="#2f62ff" stroke="#2f62ff" stroke-width="7"/>
<path d="M1150 259l51 0l12-10l-51 0z" fill="#2f62ff" stroke="#2f62ff" stroke-width="7"/>
<path d="M1201 259l52 4l11-9l-51-5z" fill="#3268fd" stroke="#3268fd" stroke-width="7"/>
<path d="M1253 263l52 8l11-9l-52-8z" fill="#346cfb" stroke="#346cfb" stroke-width="7"/>
<path d="M1253 263L1264 254"/>
<path d="M1305 271l51 12l11-9l-51-12z" fill="#346dfb" stroke="#346dfb" stroke-width="7"/>
<path d="M1305 271L1316 262"/>
<path d="M1356 283l52 16l11-8l-52-17z" fill="#336bfb" stroke="#336bfb" stroke-width="7"/>
<path d="M1356 283L1367 274"/>
<path d="M1408 299l53 18l10-7l-52-19z" fill="#3268fd" stroke="#3268fd" stroke-width="7"/>
<path d="M1461 317l52 22l10-6l-52-23z" fill="#2f62ff" stroke="#2f62ff" stroke-width="7"/>
<path d="M1513 339l52 25l11-4l-53-27z" fill="#2f62ff" stroke="#2f62ff" stroke-width="7"/>
<path d="M1565 364l53 29l10-4l-52-29z" fill="#2f62ff" stroke="#2f62ff" stroke-width="7"/>
<path d="M1618 393l52 30l10-1l-52-33z" fill="#2f62ff" stroke="#2f62ff" stroke-width="7"/>
<path d="M1670 423l53 34l10 1l-53-36z" fill="#2f62ff" stroke="#2f62ff" stroke-width="7"/>
<path d="M1723 457l52 36l10 3l-52-38z" fill="#2f62ff" stroke="#2f62ff" stroke-width="7"/>
<path d="M1775 493l53 39l10 5l-53-41z" fill="#2f62ff" stroke="#2f62ff" stroke-width="7"/>
<path d="M1828 532l53 41l9 8l-52-44z" fill="#2f62ff" stroke="#2f62ff" stroke-width="7"/>
<path d="M1881 573l52 44l10 11l-53-47z" fill="#2f62ff" stroke="#2f62ff" stroke-width="7"/>
<path d="M1933 617l53 46l9 13l-52-48z" fill="#2f62ff" stroke="#2f62ff" stroke-width="7"/>
<path d="M1986 663l53 49l9 16l-53-52z" fill="#2f62ff" stroke="#2f62ff" stroke-width="7"/>
<path d="M2039 712l52 50l9 19l-52-53z" fill="#2f62ff" stroke="#2f62ff" stroke-width="7"/>
<path d="M2091 762l53 53l8 22l-52-56z" fill="#2f62ff" stroke="#2f62ff" stroke-width="7"/>
<path d="M2144 815l52 56l8 25l-52-59z" fill="#2f62ff" stroke="#2f62ff" stroke-width="7"/>
<path d="M2196 871l52 57l8 28l-52-60z" fill="#356efa" stroke="#356efa" stroke-width="7"/>
<path d="M2196 871L2204 896"/>
<path d="M2248 928l52 60l8 31l-52-63z" fill="#3b7bf5" stroke="#3b7bf5" stroke-width="7"/>
<path d="M2248 928L2256 956"/>
<path d="M2300 988l52 62l8 34l-52-65z" fill="#3f84f2" stroke="#3f84f2" stroke-width="7"/>
<path d="M2300 988L2308 1019"/>
<path d="M2352 1050l52 65l7 36l-51-67z" fill="#428bef" stroke="#428bef" stroke-width="7"/>
<path d="M2352 1050L2360 1084"/>
<path d="M2404 1115l52 67l7 39l-52-70z" fill="#4590ed" stroke="#4590ed" stroke-width="7"/>
<path d="M2404 1115L2411 1151"/>
<path d="M2456 1182l51 69l7 41l-51-71z" fill="#4693ec" stroke="#4693ec" stroke-width="7"/>
<path d="M2456 1182L2463 1221"/>
<path d="M2507 1251l52 72l6 43l-51-74z" fill="#4896eb" stroke="#4896eb" stroke-width="7"/>
<path d="M2507 1251L2514 1292"/>
<path d="M2559 1323l51 75l5 43l-50-75z" fill="#4898ea" stroke="#4898ea" stroke-width="7"/>
<path d="M2559 1323L2565 1366"/>
<path d="M2610 1398l51 77l5 44l-51-78z" fill="#4998ea" stroke="#4998ea" stroke-width="7"/>
<path d="M2610 1398L2615 1441M2661 1475L2666 1519"/>
<path d="M937 317l50-19l11-12l-49 19z" fill="#2f62ff" stroke="#2f62ff" stroke-width="7"/>
<path d="M937 317L949 305"/>
<path d="M987 298l50-14l12-11l-51 13z" fill="#2f62ff" stroke="#2f62ff" stroke-width="7"/>
<path d="M1037 284l51-9l11-11l-50 9z" fill="#2f62ff" stroke="#2f62ff" stroke-width="7"/>
<path d="M1088 275l51-5l11-11l-51 5z" fill="#2f62ff" stroke="#2f62ff" stroke-width="7"/>
<path d="M1139 270l51 0l11-11l-51 0z" fill="#3064fe" stroke="#3064fe" stroke-width="7"/>
<path d="M1190 270l52 3l11-10l-52-4z" fill="#3269fc" stroke="#3269fc" stroke-width="7"/>
<path d="M1190 270L1201 259"/>
<path d="M1242 273l51 8l12-10l-52-8z" fill="#346cfb" stroke="#346cfb" stroke-width="7"/>
<path d="M1242 273L1253 263"/>
<path d="M1293 281l52 11l11-9l-51-12z" fill="#346cfb" stroke="#346cfb" stroke-width="7"/>
<path d="M1293 281L1305 271"/>
<path d="M1345 292l52 15l11-8l-52-16z" fill="#336afc" stroke="#336afc" stroke-width="7"/>
<path d="M1345 292L1356 283"/>
<path d="M1397 307l53 18l11-8l-53-18z" fill="#3166fd" stroke="#3166fd" stroke-width="7"/>
<path d="M1450 325l52 20l11-6l-52-22z" fill="#2f62ff" stroke="#2f62ff" stroke-width="7"/>
<path d="M1502 345l53 24l10-5l-52-25z" fill="#2f62ff" stroke="#2f62ff" stroke-width="7"/>
<path d="M1555 369l52 27l11-3l-53-29z" fill="#2f62ff" stroke="#2f62ff" stroke-width="7"/>
<path d="M1607 396l53 29l10-2l-52-30z" fill="#2f62ff" stroke="#2f62ff" stroke-width="7"/>
<path d="M1660 425l53 32l10 0l-53-34z" fill="#2f62ff" stroke="#2f62ff" stroke-width="7"/>
<path d="M1713 457l52 34l10 2l-52-36z" fill="#2f62ff" stroke="#2f62ff" stroke-width="7"/>
<path d="M1765 491l53 36l10 5l-53-39z" fill="#2f62ff" stroke="#2f62ff" stroke-width="7"/>
<path d="M1818 527l53 39l10 7l-53-41z" fill="#2f62ff" stroke="#2f62ff" stroke-width="7"/>
<path d="M1871 566l53 41l9 10l-52-44z" fill="#2f62ff" stroke="#2f62ff" stroke-width="7"/>
<path d="M1924 607l53 44l9 12l-53-46z" fill="#2f62ff" stroke="#2f62ff" stroke-width="7"/>
<path d="M1977 651l53 45l9 16l-53-49z" fill="#2f62ff" stroke="#2f62ff" stroke-width="7"/>
<path d="M2030 696l52 48l9 18l-52-50z" fill="#2f62ff" stroke="#2f62ff" stroke-width="7"/>
<path d="M2082 744l53 50l9 21l-53-53z" fill="#2f62ff" stroke="#2f62ff" stroke-width="7"/>
<path d="M2135 794l53 52l8 25l-52-56z" fill="#2f62ff" stroke="#2f62ff" stroke-width="7"/>
<path d="M2188 846l52 55l8 27l-52-57z" fill="#346dfb" stroke="#346dfb" stroke-width="7"/>
<path d="M2188 846L2196 871"/>
<path d="M2240 901l53 57l7 30l-52-60z" fill="#3a7af6" stroke="#3a7af6" stroke-width="7"/>
<path d="M2240 901L2248 928"/>
<path d="M2293 958l52 60l7 32l-52-62z" fill="#3f83f2" stroke="#3f83f2" stroke-width="7"/>
<path d="M2293 958L2300 988"/>
<path d="M2345 1018l52 62l7 35l-52-65z" fill="#428aef" stroke="#428aef" stroke-width="7"/>
<path d="M2345 1018L2352 1050"/>
<path d="M2397 1080l52 64l7 38l-52-67z" fill="#458fed" stroke="#458fed" stroke-width="7"/>
<path d="M2397 1080L2404 1115"/>
<path d="M2449 1144l52 68l6 39l-51-69z" fill="#4693ec" stroke="#4693ec" stroke-width="7"/>
<path d="M2449 1144L2456 1182"/>
<path d="M2501 1212l52 70l6 41l-52-72z" fill="#4896eb" stroke="#4896eb" stroke-width="7"/>
<path d="M2501 1212L2507 1251"/>
<path d="M2553 1282l51 73l6 43l-51-75z" fill="#4998ea" stroke="#4998ea" stroke-width="7"/>
<path d="M2553 1282L2559 1323"/>
<path d="M2604 1355l51 75l6 45l-51-77z" fill="#4999ea" stroke="#4999ea" stroke-width="7"/>
<path d="M2604 1355L2610 1398M2655 1430L2661 1475"/>
<path d="M925 330l50-20l12-12l-50 19z" fill="#2f62ff" stroke="#2f62ff" stroke-width="7"/>
<path d="M925 330L937 317"/>
<path d="M975 310l50-14l12-12l-50 14z" fill="#2f62ff" stroke="#2f62ff" stroke-width="7"/>
<path d="M1025 296l51-10l12-11l-51 9z" fill="#2f62ff" stroke="#2f62ff" stroke-width="7"/>
<path d="M1076 286l51-5l12-11l-51 5z" fill="#2f62ff" stroke="#2f62ff" stroke-width="7"/>
<path d="M1127 281l52-1l11-10l-51 0z" fill="#3065fe" stroke="#3065fe" stroke-width="7"/>
<path d="M1179 280l51 4l12-11l-52-3z" fill="#3269fc" stroke="#3269fc" stroke-width="7"/>
<path d="M1179 280L1190 270"/>
<path d="M1230 284l52 7l11-10l-51-8z" fill="#336bfb" stroke="#336bfb" stroke-width="7"/>
<path d="M1230 284L1242 273"/>
<path d="M1282 291l52 10l11-9l-52-11z" fill="#336bfb" stroke="#336bfb" stroke-width="7"/>
<path d="M1282 291L1293 281"/>
<path d="M1334 301l52 14l11-8l-52-15z" fill="#3269fc" stroke="#3269fc" stroke-width="7"/>
<path d="M1334 301L1345 292"/>
<path d="M1386 315l53 17l11-7l-53-18z" fill="#3065fe" stroke="#3065fe" stroke-width="7"/>
<path d="M1439 332l52 19l11-6l-52-20z" fill="#2f62ff" stroke="#2f62ff" stroke-width="7"/>
<path d="M1491 351l53 23l11-5l-53-24z" fill="#2f62ff" stroke="#2f62ff" stroke-width="7"/>
<path d="M1544 374l53 25l10-3l-52-27z" fill="#2f62ff" stroke="#2f62ff" stroke-width="7"/>
<path d="M1597 399l53 27l10-1l-53-29z" fill="#2f62ff" stroke="#2f62ff" stroke-width="7"/>
<path d="M1650 426l52 30l11 1l-53-32z" fill="#2f62ff" stroke="#2f62ff" stroke-width="7"/>
<path d="M1702 456l53 32l10 3l-52-34z" fill="#2f62ff" stroke="#2f62ff" stroke-width="7"/>
<path d="M1755 488l53 35l10 4l-53-36z" fill="#2f62ff" stroke="#2f62ff" stroke-width="7"/>
<path d="M1808 523l53 36l10 7l-53-39z" fill="#2f62ff" stroke="#2f62ff" stroke-width="7"/>
<path d="M1861 559l53 39l10 9l-53-41z" fill="#2f62ff" stroke="#2f62ff" stroke-width="7"/>
<path d="M1914 598l53 41l10 12l-53-44z" fill="#2f62ff" stroke="#2f62ff" stroke-width="7"/>
<path d="M1967 639l53 43l10 14l-53-45z" fill="#2f62ff" stroke="#2f62ff" stroke-width="7"/>
<path d="M2020 682l53 45l9 17l-52-48z" fill="#2f62ff" stroke="#2f62ff" stroke-width="7"/>
<path d="M2073 727l53 47l9 20l-53-50z" fill="#2f62ff" stroke="#2f62ff" stroke-width="7"/>
<path d="M2126 774l53 49l9 23l-53-52z" fill="#2f62ff" stroke="#2f62ff" stroke-width="7"/>
<path d="M2179 823l53 52l8 26l-52-55z" fill="#336bfb" stroke="#336bfb" stroke-width="7"/>
<path d="M2179 823L2188 846"/>
<path d="M2232 875l53 55l8 28l-53-57z" fill="#3a78f6" stroke="#3a78f6" stroke-width="7"/>
<path d="M2232 875L2240 901"/>
<path d="M2285 930l53 56l7 32l-52-60z" fill="#3e82f3" stroke="#3e82f3" stroke-width="7"/>
<path d="M2285 930L2293 958"/>
<path d="M2338 986l52 60l7 34l-52-62z" fill="#4289f0" stroke="#4289f0" stroke-width="7"/>
<path d="M2338 986L2345 1018"/>
<path d="M2390 1046l52 62l7 36l-52-64z" fill="#448fee" stroke="#448fee" stroke-width="7"/>
<path d="M2390 1046L2397 1080"/>
<path d="M2442 1108l53 65l6 39l-52-68z" fill="#4693ec" stroke="#4693ec" stroke-width="7"/>
<path d="M2442 1108L2449 1144"/>
<path d="M2495 1173l52 68l6 41l-52-70z" fill="#4796eb" stroke="#4796eb" stroke-width="7"/>
<path d="M2495 1173L2501 1212"/>
<path d="M2547 1241l51 71l6 43l-51-73z" fill="#4898ea" stroke="#4898ea" stroke-width="7"/>
<path d="M2547 1241L2553 1282"/>
<path d="M2598 1312l52 74l5 44l-51-75z" fill="#4999ea" stroke="#4999ea" stroke-width="7"/>
<path d="M2598 1312L2604 1355M2650 1386L2655 1430"/>
<path d="M913 343l50-20l12-13l-50 20z" fill="#2f62ff" stroke="#2f62ff" stroke-width="7"/>
<path d="M913 343L925 330"/>
<path d="M963 323l51-15l11-12l-50 14z" fill="#2f62ff" stroke="#2f62ff" stroke-width="7"/>
<path d="M1014 308l51-10l11-12l-51 10z" fill="#2f62ff" stroke="#2f62ff" stroke-width="7"/>
<path d="M1065 298l51-6l11-11l-51 5z" fill="#2f62ff" stroke="#2f62ff" stroke-width="7"/>
<path d="M1116 292l51-1l12-11l-52 1z" fill="#3166fd" stroke="#3166fd" stroke-width="7"/>
<path d="M1167 291l52 3l11-10l-51-4z" fill="#336afc" stroke="#336afc" stroke-width="7"/>
<path d="M1167 291L1179 280"/>
<path d="M1219 294l52 6l11-9l-52-7z" fill="#336bfc" stroke="#336bfc" stroke-width="7"/>
<path d="M1219 294L1230 284"/>
<path d="M1271 300l52 10l11-9l-52-10z" fill="#336afc" stroke="#336afc" stroke-width="7"/>
<path d="M1271 300L1282 291"/>
<path d="M1323 310l52 13l11-8l-52-14z" fill="#3268fd" stroke="#3268fd" stroke-width="7"/>
<path d="M1375 323l53 16l11-7l-53-17z" fill="#2f63ff" stroke="#2f63ff" stroke-width="7"/>
<path d="M1428 339l52 18l11-6l-52-19z" fill="#2f62ff" stroke="#2f62ff" stroke-width="7"/>
<path d="M1480 357l53 22l11-5l-53-23z" fill="#2f62ff" stroke="#2f62ff" stroke-width="7"/>
<path d="M1533 379l53 23l11-3l-53-25z" fill="#2f62ff" stroke="#2f62ff" stroke-width="7"/>
<path d="M1586 402l53 26l11-2l-53-27z" fill="#2f62ff" stroke="#2f62ff" stroke-width="7"/>
<path d="M1639 428l53 28l10 0l-52-30z" fill="#2f62ff" stroke="#2f62ff" stroke-width="7"/>
<path d="M1692 456l53 30l10 2l-53-32z" fill="#2f62ff" stroke="#2f62ff" stroke-width="7"/>
<path d="M1745 486l53 33l10 4l-53-35z" fill="#2f62ff" stroke="#2f62ff" stroke-width="7"/>
<path d="M1798 519l54 34l9 6l-53-36z" fill="#2f62ff" stroke="#2f62ff" stroke-width="7"/>
<path d="M1852 553l53 36l9 9l-53-39z" fill="#2f62ff" stroke="#2f62ff" stroke-width="7"/>
<path d="M1905 589l53 39l9 11l-53-41z" fill="#2f62ff" stroke="#2f62ff" stroke-width="7"/>
<path d="M1958 628l53 40l9 14l-53-43z" fill="#2f62ff" stroke="#2f62ff" stroke-width="7"/>
<path d="M2011 668l54 42l8 17l-53-45z" fill="#2f62ff" stroke="#2f62ff" stroke-width="7"/>
<path d="M2065 710l53 45l8 19l-53-47z" fill="#2f62ff" stroke="#2f62ff" stroke-width="7"/>
<path d="M2118 755l53 47l8 21l-53-49z" fill="#2f62ff" stroke="#2f62ff" stroke-width="7"/>
<path d="M2171 802l53 49l8 24l-53-52z" fill="#3267fd" stroke="#3267fd" stroke-width="7"/>
<path d="M2224 851l53 52l8 27l-53-55z" fill="#3875f7" stroke="#3875f7" stroke-width="7"/>
<path d="M2224 851L2232 875"/>
<path d="M2277 903l53 54l8 29l-53-56z" fill="#3d80f3" stroke="#3d80f3" stroke-width="7"/>
<path d="M2277 903L2285 930"/>
<path d="M2330 957l53 57l7 32l-52-60z" fill="#4187f0" stroke="#4187f0" stroke-width="7"/>
<path d="M2330 957L2338 986"/>
<path d="M2383 1014l53 59l6 35l-52-62z" fill="#438dee" stroke="#438dee" stroke-width="7"/>
<path d="M2383 1014L2390 1046"/>
<path d="M2436 1073l52 63l7 37l-53-65z" fill="#4692ed" stroke="#4692ed" stroke-width="7"/>
<path d="M2436 1073L2442 1108"/>
<path d="M2488 1136l52 66l7 39l-52-68z" fill="#4795eb" stroke="#4795eb" stroke-width="7"/>
<path d="M2488 1136L2495 1173"/>
<path d="M2540 1202l52 69l6 41l-51-71z" fill="#4897ea" stroke="#4897ea" stroke-width="7"/>
<path d="M2540 1202L2547 1241"/>
<path d="M2592 1271l52 72l6 43l-52-74z" fill="#4999ea" stroke="#4999ea" stroke-width="7"/>
<path d="M2592 1271L2598 1312M2644 1343L2650 1386"/>
<path d="M901 356l50-20l12-13l-50 20z" fill="#2f62ff" stroke="#2f62ff" stroke-width="7"/>
<path d="M901 356L913 343"/>
<path d="M951 336l51-16l12-12l-51 15z" fill="#2f62ff" stroke="#2f62ff" stroke-width="7"/>
<path d="M1002 320l51-10l12-12l-51 10z" fill="#2f62ff" stroke="#2f62ff" stroke-width="7"/>
<path d="M1053 310l51-6l12-12l-51 6z" fill="#2f62ff" stroke="#2f62ff" stroke-width="7"/>
<path d="M1104 304l52-2l11-11l-51 1z" fill="#3167fd" stroke="#3167fd" stroke-width="7"/>
<path d="M1156 302l52 2l11-10l-52-3z" fill="#336afc" stroke="#336afc" stroke-width="7"/>
<path d="M1156 302L1167 291"/>
<path d="M1208 304l52 6l11-10l-52-6z" fill="#336bfc" stroke="#336bfc" stroke-width="7"/>
<path d="M1208 304L1219 294"/>
<path d="M1260 310l52 9l11-9l-52-10z" fill="#3369fc" stroke="#3369fc" stroke-width="7"/>
<path d="M1260 310L1271 300"/>
<path d="M1312 319l52 12l11-8l-52-13z" fill="#3166fd" stroke="#3166fd" stroke-width="7"/>
<path d="M1364 331l53 15l11-7l-53-16z" fill="#2f62ff" stroke="#2f62ff" stroke-width="7"/>
<path d="M1417 346l53 17l10-6l-52-18z" fill="#2f62ff" stroke="#2f62ff" stroke-width="7"/>
<path d="M1470 363l52 20l11-4l-53-22z" fill="#2f62ff" stroke="#2f62ff" stroke-width="7"/>
<path d="M1522 383l53 22l11-3l-53-23z" fill="#2f62ff" stroke="#2f62ff" stroke-width="7"/>
<path d="M1575 405l54 25l10-2l-53-26z" fill="#2f62ff" stroke="#2f62ff" stroke-width="7"/>
<path d="M1629 430l53 26l10 0l-53-28z" fill="#2f62ff" stroke="#2f62ff" stroke-width="7"/>
<path d="M1682 456l53 29l10 1l-53-30z" fill="#2f62ff" stroke="#2f62ff" stroke-width="7"/>
<path d="M1735 485l53 30l10 4l-53-33z" fill="#2f62ff" stroke="#2f62ff" stroke-width="7"/>
<path d="M1788 515l54 32l10 6l-54-34z" fill="#2f62ff" stroke="#2f62ff" stroke-width="7"/>
<path d="M1842 547l53 35l10 7l-53-36z" fill="#2f62ff" stroke="#2f62ff" stroke-width="7"/>
<path d="M1895 582l54 36l9 10l-53-39z" fill="#2f62ff" stroke="#2f62ff" stroke-width="7"/>
<path d="M1949 618l53 37l9 13l-53-40z" fill="#2f62ff" stroke="#2f62ff" stroke-width="7"/>
<path d="M2002 655l54 40l9 15l-54-42z" fill="#2f62ff" stroke="#2f62ff" stroke-width="7"/>
<path d="M2056 695l53 42l9 18l-53-45z" fill="#2f62ff" stroke="#2f62ff" stroke-width="7"/>
<path d="M2109 737l53 45l9 20l-53-47z" fill="#2f62ff" stroke="#2f62ff" stroke-width="7"/>
<path d="M2162 782l54 46l8 23l-53-49z" fill="#2f62ff" stroke="#2f62ff" stroke-width="7"/>
<path d="M2216 828l53 49l8 26l-53-52z" fill="#3671f9" stroke="#3671f9" stroke-width="7"/>
<path d="M2216 828L2224 851"/>
<path d="M2269 877l53 52l8 28l-53-54z" fill="#3b7cf5" stroke="#3b7cf5" stroke-width="7"/>
<path d="M2269 877L2277 903"/>
<path d="M2322 929l53 54l8 31l-53-57z" fill="#3f84f2" stroke="#3f84f2" stroke-width="7"/>
<path d="M2322 929L2330 957"/>
<path d="M2375 983l53 57l8 33l-53-59z" fill="#428bef" stroke="#428bef" stroke-width="7"/>
<path d="M2375 983L2383 1014"/>
<path d="M2428 1040l53 60l7 36l-52-63z" fill="#4590ed" stroke="#4590ed" stroke-width="7"/>
<path d="M2428 1040L2436 1073"/>
<path d="M2481 1100l53 64l6 38l-52-66z" fill="#4693ec" stroke="#4693ec" stroke-width="7"/>
<path d="M2481 1100L2488 1136"/>
<path d="M2534 1164l52 67l6 40l-52-69z" fill="#4896eb" stroke="#4896eb" stroke-width="7"/>
<path d="M2534 1164L2540 1202"/>
<path d="M2586 1231l53 70l5 42l-52-72z" fill="#4898ea" stroke="#4898ea" stroke-width="7"/>
<path d="M2586 1231L2592 1271M2639 1301L2644 1343"/>
<path d="M889 369l51-20l11-13l-50 20z" fill="#2f62ff" stroke="#2f62ff" stroke-width="7"/>
<path d="M889 369L901 356"/>
<path d="M940 349l50-16l12-13l-51 16z" fill="#2f62ff" stroke="#2f62ff" stroke-width="7"/>
<path d="M990 333l51-11l12-12l-51 10z" fill="#2f62ff" stroke="#2f62ff" stroke-width="7"/>
<path d="M1041 322l52-6l11-12l-51 6z" fill="#2f62ff" stroke="#2f62ff" stroke-width="7"/>
<path d="M1093 316l51-3l12-11l-52 2z" fill="#3167fd" stroke="#3167fd" stroke-width="7"/>
<path d="M1144 313l52 2l12-11l-52-2z" fill="#3269fc" stroke="#3269fc" stroke-width="7"/>
<path d="M1144 313L1156 302"/>
<path d="M1196 315l52 5l12-10l-52-6z" fill="#336afc" stroke="#336afc" stroke-width="7"/>
<path d="M1196 315L1208 304"/>
<path d="M1248 320l53 8l11-9l-52-9z" fill="#3268fc" stroke="#3268fc" stroke-width="7"/>
<path d="M1301 328l52 11l11-8l-52-12z" fill="#3065fe" stroke="#3065fe" stroke-width="7"/>
<path d="M1353 339l53 14l11-7l-53-15z" fill="#2f62ff" stroke="#2f62ff" stroke-width="7"/>
<path d="M1406 353l53 16l11-6l-53-17z" fill="#2f62ff" stroke="#2f62ff" stroke-width="7"/>
<path d="M1459 369l53 19l10-5l-52-20z" fill="#2f62ff" stroke="#2f62ff" stroke-width="7"/>
<path d="M1512 388l53 21l10-4l-53-22z" fill="#2f62ff" stroke="#2f62ff" stroke-width="7"/>
<path d="M1565 409l53 23l11-2l-54-25z" fill="#2f62ff" stroke="#2f62ff" stroke-width="7"/>
<path d="M1618 432l53 25l11-1l-53-26z" fill="#2f62ff" stroke="#2f62ff" stroke-width="7"/>
<path d="M1671 457l54 26l10 2l-53-29z" fill="#2f62ff" stroke="#2f62ff" stroke-width="7"/>
<path d="M1725 483l53 29l10 3l-53-30z" fill="#2f62ff" stroke="#2f62ff" stroke-width="7"/>
<path d="M1778 512l54 30l10 5l-54-32z" fill="#2f62ff" stroke="#2f62ff" stroke-width="7"/>
<path d="M1832 542l53 32l10 8l-53-35z" fill="#2f62ff" stroke="#2f62ff" stroke-width="7"/>
<path d="M1885 574l54 34l10 10l-54-36z" fill="#2f62ff" stroke="#2f62ff" stroke-width="7"/>
<path d="M1939 608l54 36l9 11l-53-37z" fill="#2f62ff" stroke="#2f62ff" stroke-width="7"/>
<path d="M1993 644l53 38l10 13l-54-40z" fill="#2f62ff" stroke="#2f62ff" stroke-width="7"/>
<path d="M2046 682l54 39l9 16l-53-42z" fill="#2f62ff" stroke="#2f62ff" stroke-width="7"/>
<path d="M2100 721l54 42l8 19l-53-45z" fill="#2f62ff" stroke="#2f62ff" stroke-width="7"/>
<path d="M2154 763l53 44l9 21l-54-46z" fill="#2f62ff" stroke="#2f62ff" stroke-width="7"/>
<path d="M2207 807l54 47l8 23l-53-49z" fill="#336afc" stroke="#336afc" stroke-width="7"/>
<path d="M2207 807L2216 828"/>
<path d="M2261 854l54 49l7 26l-53-52z" fill="#3977f7" stroke="#3977f7" stroke-width="7"/>
<path d="M2261 854L2269 877"/>
<path d="M2315 903l53 51l7 29l-53-54z" fill="#3d80f3" stroke="#3d80f3" stroke-width="7"/>
<path d="M2315 903L2322 929"/>
<path d="M2368 954l53 55l7 31l-53-57z" fill="#4187f1" stroke="#4187f1" stroke-width="7"/>
<path d="M2368 954L2375 983"/>
<path d="M2421 1009l53 58l7 33l-53-60z" fill="#438dee" stroke="#438dee" stroke-width="7"/>
<path d="M2421 1009L2428 1040"/>
<path d="M2474 1067l53 61l7 36l-53-64z" fill="#4591ed" stroke="#4591ed" stroke-width="7"/>
<path d="M2474 1067L2481 1100"/>
<path d="M2527 1128l53 64l6 39l-52-67z" fill="#4794ec" stroke="#4794ec" stroke-width="7"/>
<path d="M2527 1128L2534 1164"/>
<path d="M2580 1192l53 69l6 40l-53-70z" fill="#4896eb" stroke="#4896eb" stroke-width="7"/>
<path d="M2580 1192L2586 1231M2633 1261L2639 1301"/>
<path d="M877 383l51-21l12-13l-51 20z" fill="#2f62ff" stroke="#2f62ff" stroke-width="7"/>
<path d="M877 383L889 369"/>
<path d="M928 362l50-16l12-13l-50 16z" fill="#2f62ff" stroke="#2f62ff" stroke-width="7"/>
<path d="M978 346l51-12l12-12l-51 11z" fill="#2f62ff" stroke="#2f62ff" stroke-width="7"/>
<path d="M1029 334l52-7l12-11l-52 6z" fill="#2f62ff" stroke="#2f62ff" stroke-width="7"/>
<path d="M1081 327l52-3l11-11l-51 3z" fill="#3167fd" stroke="#3167fd" stroke-width="7"/>
<path d="M1133 324l52 1l11-10l-52-2z" fill="#3269fc" stroke="#3269fc" stroke-width="7"/>
<path d="M1133 324L1144 313"/>
<path d="M1185 325l52 4l11-9l-52-5z" fill="#3269fc" stroke="#3269fc" stroke-width="7"/>
<path d="M1185 325L1196 315"/>
<path d="M1237 329l52 8l12-9l-53-8z" fill="#3267fd" stroke="#3267fd" stroke-width="7"/>
<path d="M1289 337l53 10l11-8l-52-11z" fill="#3064fe" stroke="#3064fe" stroke-width="7"/>
<path d="M1342 347l53 13l11-7l-53-14z" fill="#2f62ff" stroke="#2f62ff" stroke-width="7"/>
<path d="M1395 360l53 15l11-6l-53-16z" fill="#2f62ff" stroke="#2f62ff" stroke-width="7"/>
<path d="M1448 375l53 18l11-5l-53-19z" fill="#2f62ff" stroke="#2f62ff" stroke-width="7"/>
<path d="M1501 393l53 19l11-3l-53-21z" fill="#2f62ff" stroke="#2f62ff" stroke-width="7"/>
<path d="M1554 412l53 22l11-2l-53-23z" fill="#2f62ff" stroke="#2f62ff" stroke-width="7"/>
<path d="M1607 434l54 23l10 0l-53-25z" fill="#2f62ff" stroke="#2f62ff" stroke-width="7"/>
<path d="M1661 457l53 26l11 0l-54-26z" fill="#2f62ff" stroke="#2f62ff" stroke-width="7"/>
<path d="M1714 483l54 26l10 3l-53-29z" fill="#2f62ff" stroke="#2f62ff" stroke-width="7"/>
<path d="M1768 509l54 29l10 4l-54-30z" fill="#2f62ff" stroke="#2f62ff" stroke-width="7"/>
<path d="M1822 538l54 30l9 6l-53-32z" fill="#2f62ff" stroke="#2f62ff" stroke-width="7"/>
<path d="M1876 568l53 32l10 8l-54-34z" fill="#2f62ff" stroke="#2f62ff" stroke-width="7"/>
<path d="M1929 600l54 34l10 10l-54-36z" fill="#2f62ff" stroke="#2f62ff" stroke-width="7"/>
<path d="M1983 634l54 35l9 13l-53-38z" fill="#2f62ff" stroke="#2f62ff" stroke-width="7"/>
<path d="M2037 669l54 38l9 14l-54-39z" fill="#2f62ff" stroke="#2f62ff" stroke-width="7"/>
<path d="M2091 707l54 39l9 17l-54-42z" fill="#2f62ff" stroke="#2f62ff" stroke-width="7"/>
<path d="M2145 746l54 42l8 19l-53-44z" fill="#2f62ff" stroke="#2f62ff" stroke-width="7"/>
<path d="M2199 788l54 44l8 22l-54-47z" fill="#2f62ff" stroke="#2f62ff" stroke-width="7"/>
<path d="M2253 832l54 46l8 25l-54-49z" fill="#356ffa" stroke="#356ffa" stroke-width="7"/>
<path d="M2253 832L2261 854"/>
<path d="M2307 878l53 50l8 26l-53-51z" fill="#3a7af6" stroke="#3a7af6" stroke-width="7"/>
<path d="M2307 878L2315 903"/>
<path d="M2360 928l54 52l7 29l-53-55z" fill="#3e82f2" stroke="#3e82f2" stroke-width="7"/>
<path d="M2360 928L2368 954"/>
<path d="M2414 980l53 55l7 32l-53-58z" fill="#4189f0" stroke="#4189f0" stroke-width="7"/>
<path d="M2414 980L2421 1009"/>
<path d="M2467 1035l54 59l6 34l-53-61z" fill="#448eee" stroke="#448eee" stroke-width="7"/>
<path d="M2467 1035L2474 1067"/>
<path d="M2521 1094l53 62l6 36l-53-64z" fill="#4692ed" stroke="#4692ed" stroke-width="7"/>
<path d="M2521 1094L2527 1128"/>
<path d="M2574 1156l53 66l6 39l-53-69z" fill="#4795eb" stroke="#4795eb" stroke-width="7"/>
<path d="M2574 1156L2580 1192M2627 1222L2633 1261"/>
<path d="M865 397l51-22l12-13l-51 21z" fill="#2f62ff" stroke="#2f62ff" stroke-width="7"/>
<path d="M865 397L877 383"/>
<path d="M916 375l50-16l12-13l-50 16z" fill="#2f62ff" stroke="#2f62ff" stroke-width="7"/>
<path d="M966 359l52-12l11-13l-51 12z" fill="#2f62ff" stroke="#2f62ff" stroke-width="7"/>
<path d="M1018 347l51-8l12-12l-52 7z" fill="#2f62ff" stroke="#2f62ff" stroke-width="7"/>
<path d="M1069 339l52-3l12-12l-52 3z" fill="#3166fd" stroke="#3166fd" stroke-width="7"/>
<path d="M1121 336l52 0l12-11l-52-1z" fill="#3268fd" stroke="#3268fd" stroke-width="7"/>
<path d="M1173 336l52 3l12-10l-52-4z" fill="#3268fd" stroke="#3268fd" stroke-width="7"/>
<path d="M1225 339l53 7l11-9l-52-8z" fill="#3166fd" stroke="#3166fd" stroke-width="7"/>
<path d="M1278 346l53 9l11-8l-53-10z" fill="#2f62ff" stroke="#2f62ff" stroke-width="7"/>
<path d="M1331 355l53 12l11-7l-53-13z" fill="#2f62ff" stroke="#2f62ff" stroke-width="7"/>
<path d="M1384 367l53 14l11-6l-53-15z" fill="#2f62ff" stroke="#2f62ff" stroke-width="7"/>
<path d="M1437 381l53 17l11-5l-53-18z" fill="#2f62ff" stroke="#2f62ff" stroke-width="7"/>
<path d="M1490 398l53 18l11-4l-53-19z" fill="#2f62ff" stroke="#2f62ff" stroke-width="7"/>
<path d="M1543 416l54 20l10-2l-53-22z" fill="#2f62ff" stroke="#2f62ff" stroke-width="7"/>
<path d="M1597 436l53 22l11-1l-54-23z" fill="#2f62ff" stroke="#2f62ff" stroke-width="7"/>
<path d="M1650 458l54 24l10 1l-53-26z" fill="#2f62ff" stroke="#2f62ff" stroke-width="7"/>
<path d="M1704 482l54 25l10 2l-54-26z" fill="#2f62ff" stroke="#2f62ff" stroke-width="7"/>
<path d="M1758 507l54 27l10 4l-54-29z" fill="#2f62ff" stroke="#2f62ff" stroke-width="7"/>
<path d="M1812 534l54 29l10 5l-54-30z" fill="#2f62ff" stroke="#2f62ff" stroke-width="7"/>
<path d="M1866 563l54 30l9 7l-53-32z" fill="#2f62ff" stroke="#2f62ff" stroke-width="7"/>
<path d="M1920 593l54 32l9 9l-54-34z" fill="#2f62ff" stroke="#2f62ff" stroke-width="7"/>
<path d="M1974 625l54 33l9 11l-54-35z" fill="#2f62ff" stroke="#2f62ff" stroke-width="7"/>
<path d="M2028 658l54 36l9 13l-54-38z" fill="#2f62ff" stroke="#2f62ff" stroke-width="7"/>
<path d="M2082 694l54 37l9 15l-54-39z" fill="#2f62ff" stroke="#2f62ff" stroke-width="7"/>
<path d="M2136 731l54 40l9 17l-54-42z" fill="#2f62ff" stroke="#2f62ff" stroke-width="7"/>
<path d="M2190 771l54 41l9 20l-54-44z" fill="#2f62ff" stroke="#2f62ff" stroke-width="7"/>
<path d="M2244 812l55 44l8 22l-54-46z" fill="#3064fe" stroke="#3064fe" stroke-width="7"/>
<path d="M2299 856l54 47l7 25l-53-50z" fill="#3671f9" stroke="#3671f9" stroke-width="7"/>
<path d="M2299 856L2307 878"/>
<path d="M2353 903l53 50l8 27l-54-52z" fill="#3b7bf5" stroke="#3b7bf5" stroke-width="7"/>
<path d="M2353 903L2360 928"/>
<path d="M2406 953l54 53l7 29l-53-55z" fill="#3f83f2" stroke="#3f83f2" stroke-width="7"/>
<path d="M2406 953L2414 980"/>
<path d="M2460 1006l54 56l7 32l-54-59z" fill="#4289f0" stroke="#4289f0" stroke-width="7"/>
<path d="M2460 1006L2467 1035"/>
<path d="M2514 1062l53 60l7 34l-53-62z" fill="#448eee" stroke="#448eee" stroke-width="7"/>
<path d="M2514 1062L2521 1094"/>
<path d="M2567 1122l54 63l6 37l-53-66z" fill="#4692ec" stroke="#4692ec" stroke-width="7"/>
<path d="M2567 1122L2574 1156M2621 1185L2627 1222"/>
<path d="M853 410l51-21l12-14l-51 22z" fill="#2f62ff" stroke="#2f62ff" stroke-width="7"/>
<path d="M853 410L865 397"/>
<path d="M904 389l50-17l12-13l-50 16z" fill="#2f62ff" stroke="#2f62ff" stroke-width="7"/>
<path d="M954 372l52-13l12-12l-52 12z" fill="#2f62ff" stroke="#2f62ff" stroke-width="7"/>
<path d="M1006 359l51-8l12-12l-51 8z" fill="#2f62ff" stroke="#2f62ff" stroke-width="7"/>
<path d="M1057 351l52-4l12-11l-52 3z" fill="#3166fe" stroke="#3166fe" stroke-width="7"/>
<path d="M1109 347l52-1l12-10l-52 0z" fill="#3268fd" stroke="#3268fd" stroke-width="7"/>
<path d="M1161 346l53 3l11-10l-52-3z" fill="#3167fd" stroke="#3167fd" stroke-width="7"/>
<path d="M1214 349l52 6l12-9l-53-7z" fill="#3065fe" stroke="#3065fe" stroke-width="7"/>
<path d="M1266 355l53 8l12-8l-53-9z" fill="#2f62ff" stroke="#2f62ff" stroke-width="7"/>
<path d="M1319 363l53 11l12-7l-53-12z" fill="#2f62ff" stroke="#2f62ff" stroke-width="7"/>
<path d="M1372 374l54 13l11-6l-53-14z" fill="#2f62ff" stroke="#2f62ff" stroke-width="7"/>
<path d="M1426 387l53 16l11-5l-53-17z" fill="#2f62ff" stroke="#2f62ff" stroke-width="7"/>
<path d="M1479 403l53 17l11-4l-53-18z" fill="#2f62ff" stroke="#2f62ff" stroke-width="7"/>
<path d="M1532 420l54 19l11-3l-54-20z" fill="#2f62ff" stroke="#2f62ff" stroke-width="7"/>
<path d="M1586 439l54 21l10-2l-53-22z" fill="#2f62ff" stroke="#2f62ff" stroke-width="7"/>
<path d="M1640 460l54 22l10 0l-54-24z" fill="#2f62ff" stroke="#2f62ff" stroke-width="7"/>
<path d="M1694 482l54 24l10 1l-54-25z" fill="#2f62ff" stroke="#2f62ff" stroke-width="7"/>
<path d="M1748 506l54 25l10 3l-54-27z" fill="#2f62ff" stroke="#2f62ff" stroke-width="7"/>
<path d="M1802 531l54 27l10 5l-54-29z" fill="#2f62ff" stroke="#2f62ff" stroke-width="7"/>
<path d="M1856 558l54 29l10 6l-54-30z" fill="#2f62ff" stroke="#2f62ff" stroke-width="7"/>
<path d="M1910 587l54 30l10 8l-54-32z" fill="#2f62ff" stroke="#2f62ff" stroke-width="7"/>
<path d="M1964 617l55 32l9 9l-54-33z" fill="#2f62ff" stroke="#2f62ff" stroke-width="7"/>
<path d="M2019 649l54 33l9 12l-54-36z" fill="#2f62ff" stroke="#2f62ff" stroke-width="7"/>
<path d="M2073 682l54 36l9 13l-54-37z" fill="#2f62ff" stroke="#2f62ff" stroke-width="7"/>
<path d="M2127 718l55 37l8 16l-54-40z" fill="#2f62ff" stroke="#2f62ff" stroke-width="7"/>
<path d="M2182 755l54 40l8 17l-54-41z" fill="#2f62ff" stroke="#2f62ff" stroke-width="7"/>
<path d="M2236 795l54 42l9 19l-55-44z" fill="#2f62ff" stroke="#2f62ff" stroke-width="7"/>
<path d="M2290 837l55 44l8 22l-54-47z" fill="#3065fe" stroke="#3065fe" stroke-width="7"/>
<path d="M2345 881l54 48l7 24l-53-50z" fill="#3671f9" stroke="#3671f9" stroke-width="7"/>
<path d="M2345 881L2353 903"/>
<path d="M2399 929l54 50l7 27l-54-53z" fill="#3b7bf5" stroke="#3b7bf5" stroke-width="7"/>
<path d="M2399 929L2406 953"/>
<path d="M2453 979l54 54l7 29l-54-56z" fill="#3f83f2" stroke="#3f83f2" stroke-width="7"/>
<path d="M2453 979L2460 1006"/>
<path d="M2507 1033l54 57l6 32l-53-60z" fill="#4289f0" stroke="#4289f0" stroke-width="7"/>
<path d="M2507 1033L2514 1062"/>
<path d="M2561 1090l53 60l7 35l-54-63z" fill="#448eee" stroke="#448eee" stroke-width="7"/>
<path d="M2561 1090L2567 1122M2614 1150L2621 1185"/>
<path d="M841 424l50-22l13-13l-51 21z" fill="#2f62ff" stroke="#2f62ff" stroke-width="7"/>
<path d="M841 424L853 410"/>
<path d="M891 402l51-17l12-13l-50 17z" fill="#2f62ff" stroke="#2f62ff" stroke-width="7"/>
<path d="M942 385l52-13l12-13l-52 13z" fill="#2f62ff" stroke="#2f62ff" stroke-width="7"/>
<path d="M994 372l51-9l12-12l-51 8z" fill="#2f62ff" stroke="#2f62ff" stroke-width="7"/>
<path d="M1045 363l52-5l12-11l-52 4z" fill="#3065fe" stroke="#3065fe" stroke-width="7"/>
<path d="M1097 358l53-1l11-11l-52 1z" fill="#3167fd" stroke="#3167fd" stroke-width="7"/>
<path d="M1150 357l52 2l12-10l-53-3z" fill="#3166fd" stroke="#3166fd" stroke-width="7"/>
<path d="M1202 359l53 5l11-9l-52-6z" fill="#3064fe" stroke="#3064fe" stroke-width="7"/>
<path d="M1255 364l53 7l11-8l-53-8z" fill="#2f62ff" stroke="#2f62ff" stroke-width="7"/>
<path d="M1308 371l53 10l11-7l-53-11z" fill="#2f62ff" stroke="#2f62ff" stroke-width="7"/>
<path d="M1361 381l53 12l12-6l-54-13z" fill="#2f62ff" stroke="#2f62ff" stroke-width="7"/>
<path d="M1414 393l54 15l11-5l-53-16z" fill="#2f62ff" stroke="#2f62ff" stroke-width="7"/>
<path d="M1468 408l53 16l11-4l-53-17z" fill="#2f62ff" stroke="#2f62ff" stroke-width="7"/>
<path d="M1521 424l54 18l11-3l-54-19z" fill="#2f62ff" stroke="#2f62ff" stroke-width="7"/>
<path d="M1575 442l54 19l11-1l-54-21z" fill="#2f62ff" stroke="#2f62ff" stroke-width="7"/>
<path d="M1629 461l54 22l11-1l-54-22z" fill="#2f62ff" stroke="#2f62ff" stroke-width="7"/>
<path d="M1683 483l54 22l11 1l-54-24z" fill="#2f62ff" stroke="#2f62ff" stroke-width="7"/>
<path d="M1737 505l54 24l11 2l-54-25z" fill="#2f62ff" stroke="#2f62ff" stroke-width="7"/>
<path d="M1791 529l55 26l10 3l-54-27z" fill="#2f62ff" stroke="#2f62ff" stroke-width="7"/>
<path d="M1846 555l54 27l10 5l-54-29z" fill="#2f62ff" stroke="#2f62ff" stroke-width="7"/>
<path d="M1900 582l55 29l9 6l-54-30z" fill="#2f62ff" stroke="#2f62ff" stroke-width="7"/>
<path d="M1955 611l54 30l10 8l-55-32z" fill="#2f62ff" stroke="#2f62ff" stroke-width="7"/>
<path d="M2009 641l55 32l9 9l-54-33z" fill="#2f62ff" stroke="#2f62ff" stroke-width="7"/>
<path d="M2064 673l54 33l9 12l-54-36z" fill="#2f62ff" stroke="#2f62ff" stroke-width="7"/>
<path d="M2118 706l55 36l9 13l-55-37z" fill="#2f62ff" stroke="#2f62ff" stroke-width="7"/>
<path d="M2173 742l54 38l9 15l-54-40z" fill="#2f62ff" stroke="#2f62ff" stroke-width="7"/>
<path d="M2227 780l55 40l8 17l-54-42z" fill="#2f62ff" stroke="#2f62ff" stroke-width="7"/>
<path d="M2282 820l55 42l8 19l-55-44z" fill="#2f62ff" stroke="#2f62ff" stroke-width="7"/>
<path d="M2337 862l54 45l8 22l-54-48z" fill="#3063ff" stroke="#3063ff" stroke-width="7"/>
<path d="M2391 907l54 48l8 24l-54-50z" fill="#3670fa" stroke="#3670fa" stroke-width="7"/>
<path d="M2391 907L2399 929"/>
<path d="M2445 955l55 51l7 27l-54-54z" fill="#3b7af6" stroke="#3b7af6" stroke-width="7"/>
<path d="M2445 955L2453 979"/>
<path d="M2500 1006l54 54l7 30l-54-57z" fill="#3f83f2" stroke="#3f83f2" stroke-width="7"/>
<path d="M2500 1006L2507 1033"/>
<path d="M2554 1060l54 58l6 32l-53-60z" fill="#4289f0" stroke="#4289f0" stroke-width="7"/>
<path d="M2554 1060L2561 1090M2608 1118L2614 1150"/>
<path d="M829 438l50-23l12-13l-50 22z" fill="#2f62ff" stroke="#2f62ff" stroke-width="7"/>
<path d="M829 438L841 424"/>
<path d="M879 415l51-17l12-13l-51 17z" fill="#2f62ff" stroke="#2f62ff" stroke-width="7"/>
<path d="M930 398l52-13l12-13l-52 13z" fill="#2f62ff" stroke="#2f62ff" stroke-width="7"/>
<path d="M982 385l52-10l11-12l-51 9z" fill="#2f62ff" stroke="#2f62ff" stroke-width="7"/>
<path d="M1034 375l52-5l11-12l-52 5z" fill="#3064fe" stroke="#3064fe" stroke-width="7"/>
<path d="M1086 370l52-2l12-11l-53 1z" fill="#3165fe" stroke="#3165fe" stroke-width="7"/>
<path d="M1138 368l53 1l11-10l-52-2z" fill="#3065fe" stroke="#3065fe" stroke-width="7"/>
<path d="M1191 369l52 4l12-9l-53-5z" fill="#2f63ff" stroke="#2f63ff" stroke-width="7"/>
<path d="M1243 373l53 6l12-8l-53-7z" fill="#2f62ff" stroke="#2f62ff" stroke-width="7"/>
<path d="M1296 379l54 9l11-7l-53-10z" fill="#2f62ff" stroke="#2f62ff" stroke-width="7"/>
<path d="M1350 388l53 12l11-7l-53-12z" fill="#2f62ff" stroke="#2f62ff" stroke-width="7"/>
<path d="M1403 400l54 13l11-5l-54-15z" fill="#2f62ff" stroke="#2f62ff" stroke-width="7"/>
<path d="M1457 413l53 15l11-4l-53-16z" fill="#2f62ff" stroke="#2f62ff" stroke-width="7"/>
<path d="M1510 428l54 17l11-3l-54-18z" fill="#2f62ff" stroke="#2f62ff" stroke-width="7"/>
<path d="M1564 445l54 19l11-3l-54-19z" fill="#2f62ff" stroke="#2f62ff" stroke-width="7"/>
<path d="M1618 464l55 20l10-1l-54-22z" fill="#2f62ff" stroke="#2f62ff" stroke-width="7"/>
<path d="M1673 484l54 21l10 0l-54-22z" fill="#2f62ff" stroke="#2f62ff" stroke-width="7"/>
<path d="M1727 505l54 23l10 1l-54-24z" fill="#2f62ff" stroke="#2f62ff" stroke-width="7"/>
<path d="M1781 528l55 25l10 2l-55-26z" fill="#2f62ff" stroke="#2f62ff" stroke-width="7"/>
<path d="M1836 553l54 25l10 4l-54-27z" fill="#2f62ff" stroke="#2f62ff" stroke-width="7"/>
<path d="M1890 578l55 28l10 5l-55-29z" fill="#2f62ff" stroke="#2f62ff" stroke-width="7"/>
<path d="M1945 606l54 29l10 6l-54-30z" fill="#2f62ff" stroke="#2f62ff" stroke-width="7"/>
<path d="M1999 635l55 30l10 8l-55-32z" fill="#2f62ff" stroke="#2f62ff" stroke-width="7"/>
<path d="M2054 665l55 32l9 9l-54-33z" fill="#2f62ff" stroke="#2f62ff" stroke-width="7"/>
<path d="M2109 697l55 34l9 11l-55-36z" fill="#2f62ff" stroke="#2f62ff" stroke-width="7"/>
<path d="M2164 731l55 36l8 13l-54-38z" fill="#2f62ff" stroke="#2f62ff" stroke-width="7"/>
<path d="M2219 767l55 38l8 15l-55-40z" fill="#2f62ff" stroke="#2f62ff" stroke-width="7"/>
<path d="M2274 805l54 40l9 17l-55-42z" fill="#2f62ff" stroke="#2f62ff" stroke-width="7"/>
<path d="M2328 845l55 43l8 19l-54-45z" fill="#2f62ff" stroke="#2f62ff" stroke-width="7"/>
<path d="M2383 888l55 46l7 21l-54-48z" fill="#2f62ff" stroke="#2f62ff" stroke-width="7"/>
<path d="M2438 934l54 48l8 24l-55-51z" fill="#356efa" stroke="#356efa" stroke-width="7"/>
<path d="M2438 934L2445 955"/>
<path d="M2492 982l55 52l7 26l-54-54z" fill="#3a79f6" stroke="#3a79f6" stroke-width="7"/>
<path d="M2492 982L2500 1006"/>
<path d="M2547 1034l54 55l7 29l-54-58z" fill="#3e83f2" stroke="#3e83f2" stroke-width="7"/>
<path d="M2547 1034L2554 1060M2601 1089L2608 1118"/>
<path d="M816 451l51-22l12-14l-50 23z" fill="#2f62ff" stroke="#2f62ff" stroke-width="7"/>
<path d="M816 451L829 438"/>
<path d="M867 429l51-18l12-13l-51 17z" fill="#2f62ff" stroke="#2f62ff" stroke-width="7"/>
<path d="M918 411l52-14l12-12l-52 13z" fill="#2f62ff" stroke="#2f62ff" stroke-width="7"/>
<path d="M970 397l52-10l12-12l-52 10z" fill="#2f62ff" stroke="#2f62ff" stroke-width="7"/>
<path d="M1022 387l52-6l12-11l-52 5z" fill="#2f62ff" stroke="#2f62ff" stroke-width="7"/>
<path d="M1074 381l52-3l12-10l-52 2z" fill="#3064fe" stroke="#3064fe" stroke-width="7"/>
<path d="M1126 378l53 1l12-10l-53-1z" fill="#3064fe" stroke="#3064fe" stroke-width="7"/>
<path d="M1179 379l53 3l11-9l-52-4z" fill="#2f62ff" stroke="#2f62ff" stroke-width="7"/>
<path d="M1232 382l53 6l11-9l-53-6z" fill="#2f62ff" stroke="#2f62ff" stroke-width="7"/>
<path d="M1285 388l53 8l12-8l-54-9z" fill="#2f62ff" stroke="#2f62ff" stroke-width="7"/>
<path d="M1338 396l54 10l11-6l-53-12z" fill="#2f62ff" stroke="#2f62ff" stroke-width="7"/>
<path d="M1392 406l54 12l11-5l-54-13z" fill="#2f62ff" stroke="#2f62ff" stroke-width="7"/>
<path d="M1446 418l53 15l11-5l-53-15z" fill="#2f62ff" stroke="#2f62ff" stroke-width="7"/>
<path d="M1499 433l54 16l11-4l-54-17z" fill="#2f62ff" stroke="#2f62ff" stroke-width="7"/>
<path d="M1553 449l55 17l10-2l-54-19z" fill="#2f62ff" stroke="#2f62ff" stroke-width="7"/>
<path d="M1608 466l54 19l11-1l-55-20z" fill="#2f62ff" stroke="#2f62ff" stroke-width="7"/>
<path d="M1662 485l54 21l11-1l-54-21z" fill="#2f62ff" stroke="#2f62ff" stroke-width="7"/>
<path d="M1716 506l55 22l10 0l-54-23z" fill="#2f62ff" stroke="#2f62ff" stroke-width="7"/>
<path d="M1771 528l54 23l11 2l-55-25z" fill="#2f62ff" stroke="#2f62ff" stroke-width="7"/>
<path d="M1825 551l55 25l10 2l-54-25z" fill="#2f62ff" stroke="#2f62ff" stroke-width="7"/>
<path d="M1880 576l55 26l10 4l-55-28z" fill="#2f62ff" stroke="#2f62ff" stroke-width="7"/>
<path d="M1935 602l55 28l9 5l-54-29z" fill="#2f62ff" stroke="#2f62ff" stroke-width="7"/>
<path d="M1990 630l55 29l9 6l-55-30z" fill="#2f62ff" stroke="#2f62ff" stroke-width="7"/>
<path d="M2045 659l55 31l9 7l-55-32z" fill="#2f62ff" stroke="#2f62ff" stroke-width="7"/>
<path d="M2100 690l55 32l9 9l-55-34z" fill="#2f62ff" stroke="#2f62ff" stroke-width="7"/>
<path d="M2155 722l55 35l9 10l-55-36z" fill="#2f62ff" stroke="#2f62ff" stroke-width="7"/>
<path d="M2210 757l55 36l9 12l-55-38z" fill="#2f62ff" stroke="#2f62ff" stroke-width="7"/>
<path d="M2265 793l55 38l8 14l-54-40z" fill="#2f62ff" stroke="#2f62ff" stroke-width="7"/>
<path d="M2320 831l55 41l8 16l-55-43z" fill="#2f62ff" stroke="#2f62ff" stroke-width="7"/>
<path d="M2375 872l55 43l8 19l-55-46z" fill="#2f62ff" stroke="#2f62ff" stroke-width="7"/>
<path d="M2430 915l55 46l7 21l-54-48z" fill="#2f62ff" stroke="#2f62ff" stroke-width="7"/>
<path d="M2485 961l55 49l7 24l-55-52z" fill="#346cfb" stroke="#346cfb" stroke-width="7"/>
<path d="M2485 961L2492 982"/>
<path d="M2540 1010l54 52l7 27l-54-55z" fill="#3a79f6" stroke="#3a79f6" stroke-width="7"/>
<path d="M2540 1010L2547 1034M2594 1062L2601 1089"/>
<path d="M804 464l51-22l12-13l-51 22z" fill="#2f62ff" stroke="#2f62ff" stroke-width="7"/>
<path d="M804 464L816 451"/>
<path d="M855 442l51-18l12-13l-51 18z" fill="#2f62ff" stroke="#2f62ff" stroke-width="7"/>
<path d="M906 424l52-14l12-13l-52 14z" fill="#2f62ff" stroke="#2f62ff" stroke-width="7"/>
<path d="M958 410l52-10l12-13l-52 10z" fill="#2f62ff" stroke="#2f62ff" stroke-width="7"/>
<path d="M1010 400l52-7l12-12l-52 6z" fill="#2f62ff" stroke="#2f62ff" stroke-width="7"/>
<path d="M1062 393l52-4l12-11l-52 3z" fill="#2f62ff" stroke="#2f62ff" stroke-width="7"/>
<path d="M1114 389l53 0l12-10l-53-1z" fill="#2f62ff" stroke="#2f62ff" stroke-width="7"/>
<path d="M1167 389l53 2l12-9l-53-3z" fill="#2f62ff" stroke="#2f62ff" stroke-width="7"/>
<path d="M1220 391l53 5l12-8l-53-6z" fill="#2f62ff" stroke="#2f62ff" stroke-width="7"/>
<path d="M1273 396l54 7l11-7l-53-8z" fill="#2f62ff" stroke="#2f62ff" stroke-width="7"/>
<path d="M1327 403l53 10l12-7l-54-10z" fill="#2f62ff" stroke="#2f62ff" stroke-width="7"/>
<path d="M1380 413l54 11l12-6l-54-12z" fill="#2f62ff" stroke="#2f62ff" stroke-width="7"/>
<path d="M1434 424l54 13l11-4l-53-15z" fill="#2f62ff" stroke="#2f62ff" stroke-width="7"/>
<path d="M1488 437l54 16l11-4l-54-16z" fill="#2f62ff" stroke="#2f62ff" stroke-width="7"/>
<path d="M1542 453l55 16l11-3l-55-17z" fill="#2f62ff" stroke="#2f62ff" stroke-width="7"/>
<path d="M1597 469l54 18l11-2l-54-19z" fill="#2f62ff" stroke="#2f62ff" stroke-width="7"/>
<path d="M1651 487l55 20l10-1l-54-21z" fill="#2f62ff" stroke="#2f62ff" stroke-width="7"/>
<path d="M1706 507l54 21l11 0l-55-22z" fill="#2f62ff" stroke="#2f62ff" stroke-width="7"/>
<path d="M1760 528l55 23l10 0l-54-23z" fill="#2f62ff" stroke="#2f62ff" stroke-width="7"/>
<path d="M1815 551l55 24l10 1l-55-25z" fill="#2f62ff" stroke="#2f62ff" stroke-width="7"/>
<path d="M1870 575l55 25l10 2l-55-26z" fill="#2f62ff" stroke="#2f62ff" stroke-width="7"/>
<path d="M1925 600l55 27l10 3l-55-28z" fill="#2f62ff" stroke="#2f62ff" stroke-width="7"/>
<path d="M1980 627l55 28l10 4l-55-29z" fill="#2f62ff" stroke="#2f62ff" stroke-width="7"/>
<path d="M2035 655l55 29l10 6l-55-31z" fill="#2f62ff" stroke="#2f62ff" stroke-width="7"/>
<path d="M2090 684l56 32l9 6l-55-32z" fill="#2f62ff" stroke="#2f62ff" stroke-width="7"/>
<path d="M2146 716l55 33l9 8l-55-35z" fill="#2f62ff" stroke="#2f62ff" stroke-width="7"/>
<path d="M2201 749l55 34l9 10l-55-36z" fill="#2f62ff" stroke="#2f62ff" stroke-width="7"/>
<path d="M2256 783l55 37l9 11l-55-38z" fill="#2f62ff" stroke="#2f62ff" stroke-width="7"/>
<path d="M2311 820l56 39l8 13l-55-41z" fill="#2f62ff" stroke="#2f62ff" stroke-width="7"/>
<path d="M2367 859l55 41l8 15l-55-43z" fill="#2f62ff" stroke="#2f62ff" stroke-width="7"/>
<path d="M2422 900l55 44l8 17l-55-46z" fill="#2f62ff" stroke="#2f62ff" stroke-width="7"/>
<path d="M2477 944l55 46l8 20l-55-49z" fill="#2f62ff" stroke="#2f62ff" stroke-width="7"/>
<path d="M2532 990l55 49l7 23l-54-52z" fill="#336bfc" stroke="#336bfc" stroke-width="7"/>
<path d="M2532 990L2540 1010M2587 1039L2594 1062"/>
<path d="M792 478l51-23l12-13l-51 22z" fill="#2f62ff" stroke="#2f62ff" stroke-width="7"/>
<path d="M792 478L804 464"/>
<path d="M843 455l51-18l12-13l-51 18z" fill="#2f62ff" stroke="#2f62ff" stroke-width="7"/>
<path d="M894 437l51-14l13-13l-52 14z" fill="#2f62ff" stroke="#2f62ff" stroke-width="7"/>
<path d="M945 423l52-11l13-12l-52 10z" fill="#2f62ff" stroke="#2f62ff" stroke-width="7"/>
<path d="M997 412l53-8l12-11l-52 7z" fill="#2f62ff" stroke="#2f62ff" stroke-width="7"/>
<path d="M1050 404l52-4l12-11l-52 4z" fill="#2f62ff" stroke="#2f62ff" stroke-width="7"/>
<path d="M1102 400l53-1l12-10l-53 0z" fill="#2f62ff" stroke="#2f62ff" stroke-width="7"/>
<path d="M1155 399l53 1l12-9l-53-2z" fill="#2f62ff" stroke="#2f62ff" stroke-width="7"/>
<path d="M1208 400l54 4l11-8l-53-5z" fill="#2f62ff" stroke="#2f62ff" stroke-width="7"/>
<path d="M1262 404l53 7l12-8l-54-7z" fill="#2f62ff" stroke="#2f62ff" stroke-width="7"/>
<path d="M1315 411l54 8l11-6l-53-10z" fill="#2f62ff" stroke="#2f62ff" stroke-width="7"/>
<path d="M1369 419l54 11l11-6l-54-11z" fill="#2f62ff" stroke="#2f62ff" stroke-width="7"/>
<path d="M1423 430l54 13l11-6l-54-13z" fill="#2f62ff" stroke="#2f62ff" stroke-width="7"/>
<path d="M1477 443l54 14l11-4l-54-16z" fill="#2f62ff" stroke="#2f62ff" stroke-width="7"/>
<path d="M1531 457l55 16l11-4l-55-16z" fill="#2f62ff" stroke="#2f62ff" stroke-width="7"/>
<path d="M1586 473l54 17l11-3l-54-18z" fill="#2f62ff" stroke="#2f62ff" stroke-width="7"/>
<path d="M1640 490l55 19l11-2l-55-20z" fill="#2f62ff" stroke="#2f62ff" stroke-width="7"/>
<path d="M1695 509l55 21l10-2l-54-21z" fill="#2f62ff" stroke="#2f62ff" stroke-width="7"/>
<path d="M1750 530l55 22l10-1l-55-23z" fill="#2f62ff" stroke="#2f62ff" stroke-width="7"/>
<path d="M1805 552l55 23l10 0l-55-24z" fill="#2f62ff" stroke="#2f62ff" stroke-width="7"/>
<path d="M1860 575l55 24l10 1l-55-25z" fill="#2f62ff" stroke="#2f62ff" stroke-width="7"/>
<path d="M1915 599l55 26l10 2l-55-27z" fill="#2f62ff" stroke="#2f62ff" stroke-width="7"/>
<path d="M1970 625l56 27l9 3l-55-28z" fill="#2f62ff" stroke="#2f62ff" stroke-width="7"/>
<path d="M2026 652l55 29l9 3l-55-29z" fill="#2f62ff" stroke="#2f62ff" stroke-width="7"/>
<path d="M2081 681l55 30l10 5l-56-32z" fill="#2f62ff" stroke="#2f62ff" stroke-width="7"/>
<path d="M2136 711l56 32l9 6l-55-33z" fill="#2f62ff" stroke="#2f62ff" stroke-width="7"/>
<path d="M2192 743l55 33l9 7l-55-34z" fill="#2f62ff" stroke="#2f62ff" stroke-width="7"/>
<path d="M2247 776l56 36l8 8l-55-37z" fill="#2f62ff" stroke="#2f62ff" stroke-width="7"/>
<path d="M2303 812l55 37l9 10l-56-39z" fill="#2f62ff" stroke="#2f62ff" stroke-width="7"/>
<path d="M2358 849l56 39l8 12l-55-41z" fill="#2f62ff" stroke="#2f62ff" stroke-width="7"/>
<path d="M2414 888l55 41l8 15l-55-44z" fill="#2f62ff" stroke="#2f62ff" stroke-width="7"/>
<path d="M2469 929l56 44l7 17l-55-46z" fill="#2f62ff" stroke="#2f62ff" stroke-width="7"/>
<path d="M2525 973l55 46l7 20l-55-49z" fill="#2f62ff" stroke="#2f62ff" stroke-width="7"/>
<path d="M2525 973L2532 990M2580 1019L2587 1039"/>
<path d="M779 491l51-23l13-13l-51 23z" fill="#2f62ff" stroke="#2f62ff" stroke-width="7"/>
<path d="M779 491L792 478"/>
<path d="M830 468l51-18l13-13l-51 18z" fill="#2f62ff" stroke="#2f62ff" stroke-width="7"/>
<path d="M881 450l52-15l12-12l-51 14z" fill="#2f62ff" stroke="#2f62ff" stroke-width="7"/>
<path d="M933 435l52-11l12-12l-52 11z" fill="#2f62ff" stroke="#2f62ff" stroke-width="7"/>
<path d="M985 424l53-8l12-12l-53 8z" fill="#2f62ff" stroke="#2f62ff" stroke-width="7"/>
<path d="M1038 416l52-5l12-11l-52 4z" fill="#2f62ff" stroke="#2f62ff" stroke-width="7"/>
<path d="M1090 411l53-2l12-10l-53 1z" fill="#2f62ff" stroke="#2f62ff" stroke-width="7"/>
<path d="M1143 409l54 1l11-10l-53-1z" fill="#2f62ff" stroke="#2f62ff" stroke-width="7"/>
<path d="M1197 410l53 3l12-9l-54-4z" fill="#2f62ff" stroke="#2f62ff" stroke-width="7"/>
<path d="M1250 413l54 6l11-8l-53-7z" fill="#2f62ff" stroke="#2f62ff" stroke-width="7"/>
<path d="M1304 419l54 8l11-8l-54-8z" fill="#2f62ff" stroke="#2f62ff" stroke-width="7"/>
<path d="M1358 427l54 9l11-6l-54-11z" fill="#2f62ff" stroke="#2f62ff" stroke-width="7"/>
<path d="M1412 436l54 12l11-5l-54-13z" fill="#2f62ff" stroke="#2f62ff" stroke-width="7"/>
<path d="M1466 448l54 14l11-5l-54-14z" fill="#2f62ff" stroke="#2f62ff" stroke-width="7"/>
<path d="M1520 462l55 15l11-4l-55-16z" fill="#2f62ff" stroke="#2f62ff" stroke-width="7"/>
<path d="M1575 477l55 17l10-4l-54-17z" fill="#2f62ff" stroke="#2f62ff" stroke-width="7"/>
<path d="M1630 494l54 18l11-3l-55-19z" fill="#2f62ff" stroke="#2f62ff" stroke-width="7"/>
<path d="M1684 512l55 20l11-2l-55-21z" fill="#2f62ff" stroke="#2f62ff" stroke-width="7"/>
<path d="M1739 532l56 21l10-1l-55-22z" fill="#2f62ff" stroke="#2f62ff" stroke-width="7"/>
<path d="M1795 553l55 23l10-1l-55-23z" fill="#2f62ff" stroke="#2f62ff" stroke-width="7"/>
<path d="M1850 576l55 24l10-1l-55-24z" fill="#2f62ff" stroke="#2f62ff" stroke-width="7"/>
<path d="M1905 600l55 25l10 0l-55-26z" fill="#2f62ff" stroke="#2f62ff" stroke-width="7"/>
<path d="M1960 625l56 27l10 0l-56-27z" fill="#2f62ff" stroke="#2f62ff" stroke-width="7"/>
<path d="M2016 652l55 28l10 1l-55-29z" fill="#2f62ff" stroke="#2f62ff" stroke-width="7"/>
<path d="M2071 680l56 29l9 2l-55-30z" fill="#2f62ff" stroke="#2f62ff" stroke-width="7"/>
<path d="M2127 709l56 31l9 3l-56-32z" fill="#2f62ff" stroke="#2f62ff" stroke-width="7"/>
<path d="M2183 740l55 32l9 4l-55-33z" fill="#2f62ff" stroke="#2f62ff" stroke-width="7"/>
<path d="M2238 772l56 34l9 6l-56-36z" fill="#2f62ff" stroke="#2f62ff" stroke-width="7"/>
<path d="M2294 806l56 35l8 8l-55-37z" fill="#2f62ff" stroke="#2f62ff" stroke-width="7"/>
<path d="M2350 841l56 38l8 9l-56-39z" fill="#2f62ff" stroke="#2f62ff" stroke-width="7"/>
<path d="M2406 879l55 39l8 11l-55-41z" fill="#2f62ff" stroke="#2f62ff" stroke-width="7"/>
<path d="M2461 918l56 41l8 14l-56-44z" fill="#2f62ff" stroke="#2f62ff" stroke-width="7"/>
<path d="M2517 959l56 43l7 17l-55-46z" fill="#2f62ff" stroke="#2f62ff" stroke-width="7"/>
<path d="M2517 959L2525 973M2573 1002L2580 1019"/>
<path d="M767 503l51-22l12-13l-51 23z" fill="#2f62ff" stroke="#2f62ff" stroke-width="7"/>
<path d="M767 503L779 491"/>
<path d="M818 481l51-18l12-13l-51 18z" fill="#2f62ff" stroke="#2f62ff" stroke-width="7"/>
<path d="M869 463l52-15l12-13l-52 15z" fill="#2f62ff" stroke="#2f62ff" stroke-width="7"/>
<path d="M921 448l52-12l12-12l-52 11z" fill="#2f62ff" stroke="#2f62ff" stroke-width="7"/>
<path d="M973 436l53-9l12-11l-53 8z" fill="#2f62ff" stroke="#2f62ff" stroke-width="7"/>
<path d="M1026 427l52-5l12-11l-52 5z" fill="#2f62ff" stroke="#2f62ff" stroke-width="7"/>
<path d="M1078 422l53-3l12-10l-53 2z" fill="#2f62ff" stroke="#2f62ff" stroke-width="7"/>
<path d="M1131 419l54 0l12-9l-54-1z" fill="#2f62ff" stroke="#2f62ff" stroke-width="7"/>
<path d="M1185 419l53 3l12-9l-53-3z" fill="#2f62ff" stroke="#2f62ff" stroke-width="7"/>
<path d="M1238 422l54 5l12-8l-54-6z" fill="#2f62ff" stroke="#2f62ff" stroke-width="7"/>
<path d="M1292 427l54 7l12-7l-54-8z" fill="#2f62ff" stroke="#2f62ff" stroke-width="7"/>
<path d="M1346 434l54 9l12-7l-54-9z" fill="#2f62ff" stroke="#2f62ff" stroke-width="7"/>
<path d="M1400 443l55 11l11-6l-54-12z" fill="#2f62ff" stroke="#2f62ff" stroke-width="7"/>
<path d="M1455 454l54 13l11-5l-54-14z" fill="#2f62ff" stroke="#2f62ff" stroke-width="7"/>
<path d="M1509 467l55 15l11-5l-55-15z" fill="#2f62ff" stroke="#2f62ff" stroke-width="7"/>
<path d="M1564 482l55 16l11-4l-55-17z" fill="#2f62ff" stroke="#2f62ff" stroke-width="7"/>
<path d="M1619 498l55 18l10-4l-54-18z" fill="#2f62ff" stroke="#2f62ff" stroke-width="7"/>
<path d="M1674 516l55 20l10-4l-55-20z" fill="#2f62ff" stroke="#2f62ff" stroke-width="7"/>
<path d="M1729 536l55 20l11-3l-56-21z" fill="#2f62ff" stroke="#2f62ff" stroke-width="7"/>
<path d="M1784 556l55 23l11-3l-55-23z" fill="#2f62ff" stroke="#2f62ff" stroke-width="7"/>
<path d="M1839 579l56 23l10-2l-55-24z" fill="#2f62ff" stroke="#2f62ff" stroke-width="7"/>
<path d="M1895 602l55 25l10-2l-55-25z" fill="#2f62ff" stroke="#2f62ff" stroke-width="7"/>
<path d="M1950 627l56 26l10-1l-56-27z" fill="#2f62ff" stroke="#2f62ff" stroke-width="7"/>
<path d="M2006 653l56 28l9-1l-55-28z" fill="#2f62ff" stroke="#2f62ff" stroke-width="7"/>
<path d="M2062 681l56 28l9 0l-56-29z" fill="#2f62ff" stroke="#2f62ff" stroke-width="7"/>
<path d="M2118 709l55 30l10 1l-56-31z" fill="#2f62ff" stroke="#2f62ff" stroke-width="7"/>
<path d="M2173 739l56 31l9 2l-55-32z" fill="#2f62ff" stroke="#2f62ff" stroke-width="7"/>
<path d="M2229 770l56 33l9 3l-56-34z" fill="#2f62ff" stroke="#2f62ff" stroke-width="7"/>
<path d="M2285 803l56 34l9 4l-56-35z" fill="#2f62ff" stroke="#2f62ff" stroke-width="7"/>
<path d="M2341 837l56 36l9 6l-56-38z" fill="#2f62ff" stroke="#2f62ff" stroke-width="7"/>
<path d="M2397 873l56 37l8 8l-55-39z" fill="#2f62ff" stroke="#2f62ff" stroke-width="7"/>
<path d="M2453 910l56 39l8 10l-56-41z" fill="#2f62ff" stroke="#2f62ff" stroke-width="7"/>
<path d="M2509 949l56 40l8 13l-56-43z" fill="#2f62ff" stroke="#2f62ff" stroke-width="7"/>
<path d="M2509 949L2517 959M2565 989L2573 1002"/>
<path d="M754 516l51-22l13-13l-51 22z" fill="#2f62ff" stroke="#2f62ff" stroke-width="7"/>
<path d="M754 516L767 503"/>
<path d="M805 494l52-19l12-12l-51 18z" fill="#2f62ff" stroke="#2f62ff" stroke-width="7"/>
<path d="M857 475l52-15l12-12l-52 15z" fill="#2f62ff" stroke="#2f62ff" stroke-width="7"/>
<path d="M909 460l52-12l12-12l-52 12z" fill="#2f62ff" stroke="#2f62ff" stroke-width="7"/>
<path d="M961 448l52-9l13-12l-53 9z" fill="#2f62ff" stroke="#2f62ff" stroke-width="7"/>
<path d="M1013 439l53-6l12-11l-52 5z" fill="#2f62ff" stroke="#2f62ff" stroke-width="7"/>
<path d="M1066 433l53-4l12-10l-53 3z" fill="#2f62ff" stroke="#2f62ff" stroke-width="7"/>
<path d="M1119 429l54 0l12-10l-54 0z" fill="#2f62ff" stroke="#2f62ff" stroke-width="7"/>
<path d="M1173 429l53 2l12-9l-53-3z" fill="#2f62ff" stroke="#2f62ff" stroke-width="7"/>
<path d="M1226 431l54 4l12-8l-54-5z" fill="#2f62ff" stroke="#2f62ff" stroke-width="7"/>
<path d="M1280 435l55 6l11-7l-54-7z" fill="#2f62ff" stroke="#2f62ff" stroke-width="7"/>
<path d="M1335 441l54 9l11-7l-54-9z" fill="#2f62ff" stroke="#2f62ff" stroke-width="7"/>
<path d="M1389 450l54 11l12-7l-55-11z" fill="#2f62ff" stroke="#2f62ff" stroke-width="7"/>
<path d="M1443 461l55 12l11-6l-54-13z" fill="#2f62ff" stroke="#2f62ff" stroke-width="7"/>
<path d="M1498 473l55 14l11-5l-55-15z" fill="#2f62ff" stroke="#2f62ff" stroke-width="7"/>
<path d="M1553 487l55 16l11-5l-55-16z" fill="#2f62ff" stroke="#2f62ff" stroke-width="7"/>
<path d="M1608 503l55 18l11-5l-55-18z" fill="#2f62ff" stroke="#2f62ff" stroke-width="7"/>
<path d="M1663 521l55 19l11-4l-55-20z" fill="#2f62ff" stroke="#2f62ff" stroke-width="7"/>
<path d="M1718 540l56 21l10-5l-55-20z" fill="#2f62ff" stroke="#2f62ff" stroke-width="7"/>
<path d="M1774 561l55 22l10-4l-55-23z" fill="#2f62ff" stroke="#2f62ff" stroke-width="7"/>
<path d="M1829 583l56 23l10-4l-56-23z" fill="#2f62ff" stroke="#2f62ff" stroke-width="7"/>
<path d="M1885 606l55 24l10-3l-55-25z" fill="#2f62ff" stroke="#2f62ff" stroke-width="7"/>
<path d="M1940 630l56 26l10-3l-56-26z" fill="#2f62ff" stroke="#2f62ff" stroke-width="7"/>
<path d="M1996 656l56 27l10-2l-56-28z" fill="#2f62ff" stroke="#2f62ff" stroke-width="7"/>
<path d="M2052 683l56 28l10-2l-56-28z" fill="#2f62ff" stroke="#2f62ff" stroke-width="7"/>
<path d="M2108 711l56 30l9-2l-55-30z" fill="#2f62ff" stroke="#2f62ff" stroke-width="7"/>
<path d="M2164 741l56 30l9-1l-56-31z" fill="#2f62ff" stroke="#2f62ff" stroke-width="7"/>
<path d="M2220 771l56 32l9 0l-56-33z" fill="#2f62ff" stroke="#2f62ff" stroke-width="7"/>
<path d="M2276 803l56 33l9 1l-56-34z" fill="#2f62ff" stroke="#2f62ff" stroke-width="7"/>
<path d="M2332 836l57 34l8 3l-56-36z" fill="#2f62ff" stroke="#2f62ff" stroke-width="7"/>
<path d="M2389 870l56 35l8 5l-56-37z" fill="#2f62ff" stroke="#2f62ff" stroke-width="7"/>
<path d="M2445 905l56 37l8 7l-56-39z" fill="#2f62ff" stroke="#2f62ff" stroke-width="7"/>
<path d="M2501 942l56 37l8 10l-56-40z" fill="#2f62ff" stroke="#2f62ff" stroke-width="7"/>
<path d="M2501 942L2509 949M2557 979L2565 989"/>
<path d="M741 528l52-22l12-12l-51 22z" fill="#2f62ff" stroke="#2f62ff" stroke-width="7"/>
<path d="M741 528L754 516"/>
<path d="M793 506l51-18l13-13l-52 19z" fill="#2f62ff" stroke="#2f62ff" stroke-width="7"/>
<path d="M844 488l52-16l13-12l-52 15z" fill="#2f62ff" stroke="#2f62ff" stroke-width="7"/>
<path d="M896 472l52-12l13-12l-52 12z" fill="#2f62ff" stroke="#2f62ff" stroke-width="7"/>
<path d="M948 460l53-10l12-11l-52 9z" fill="#2f62ff" stroke="#2f62ff" stroke-width="7"/>
<path d="M1001 450l53-6l12-11l-53 6z" fill="#2f62ff" stroke="#2f62ff" stroke-width="7"/>
<path d="M1054 444l53-4l12-11l-53 4z" fill="#2f62ff" stroke="#2f62ff" stroke-width="7"/>
<path d="M1107 440l54-2l12-9l-54 0z" fill="#2f62ff" stroke="#2f62ff" stroke-width="7"/>
<path d="M1161 438l54 2l11-9l-53-2z" fill="#2f62ff" stroke="#2f62ff" stroke-width="7"/>
<path d="M1215 440l54 3l11-8l-54-4z" fill="#2f62ff" stroke="#2f62ff" stroke-width="7"/>
<path d="M1269 443l54 6l12-8l-55-6z" fill="#2f62ff" stroke="#2f62ff" stroke-width="7"/>
<path d="M1323 449l54 8l12-7l-54-9z" fill="#2f62ff" stroke="#2f62ff" stroke-width="7"/>
<path d="M1377 457l55 10l11-6l-54-11z" fill="#2f62ff" stroke="#2f62ff" stroke-width="7"/>
<path d="M1432 467l55 12l11-6l-55-12z" fill="#2f62ff" stroke="#2f62ff" stroke-width="7"/>
<path d="M1487 479l55 14l11-6l-55-14z" fill="#2f62ff" stroke="#2f62ff" stroke-width="7"/>
<path d="M1542 493l55 16l11-6l-55-16z" fill="#2f62ff" stroke="#2f62ff" stroke-width="7"/>
<path d="M1597 509l55 18l11-6l-55-18z" fill="#2f62ff" stroke="#2f62ff" stroke-width="7"/>
<path d="M1652 527l55 19l11-6l-55-19z" fill="#2f62ff" stroke="#2f62ff" stroke-width="7"/>
<path d="M1707 546l56 20l11-5l-56-21z" fill="#2f62ff" stroke="#2f62ff" stroke-width="7"/>
<path d="M1763 566l56 22l10-5l-55-22z" fill="#2f62ff" stroke="#2f62ff" stroke-width="7"/>
<path d="M1819 588l55 23l11-5l-56-23z" fill="#2f62ff" stroke="#2f62ff" stroke-width="7"/>
<path d="M1874 611l56 25l10-6l-55-24z" fill="#2f62ff" stroke="#2f62ff" stroke-width="7"/>
<path d="M1930 636l56 25l10-5l-56-26z" fill="#2f62ff" stroke="#2f62ff" stroke-width="7"/>
<path d="M1986 661l56 27l10-5l-56-27z" fill="#2f62ff" stroke="#2f62ff" stroke-width="7"/>
<path d="M2042 688l56 28l10-5l-56-28z" fill="#2f62ff" stroke="#2f62ff" stroke-width="7"/>
<path d="M2098 716l56 29l10-4l-56-30z" fill="#2f62ff" stroke="#2f62ff" stroke-width="7"/>
<path d="M2154 745l57 30l9-4l-56-30z" fill="#2f62ff" stroke="#2f62ff" stroke-width="7"/>
<path d="M2211 775l56 31l9-3l-56-32z" fill="#2f62ff" stroke="#2f62ff" stroke-width="7"/>
<path d="M2267 806l56 31l9-1l-56-33z" fill="#2f62ff" stroke="#2f62ff" stroke-width="7"/>
<path d="M2323 837l57 33l9 0l-57-34z" fill="#2f62ff" stroke="#2f62ff" stroke-width="7"/>
<path d="M2380 870l56 34l9 1l-56-35z" fill="#2f62ff" stroke="#2f62ff" stroke-width="7"/>
<path d="M2436 904l57 34l8 4l-56-37z" fill="#2f62ff" stroke="#2f62ff" stroke-width="7"/>
<path d="M2493 938l56 36l8 5l-56-37z" fill="#2f62ff" stroke="#2f62ff" stroke-width="7"/>
<path d="M2493 938L2501 942M2549 974L2557 979"/>
<path d="M728 540l52-22l13-12l-52 22z" fill="#2f62ff" stroke="#2f62ff" stroke-width="7"/>
<path d="M728 540L741 528"/>
<path d="M780 518l52-18l12-12l-51 18z" fill="#2f62ff" stroke="#2f62ff" stroke-width="7"/>
<path d="M832 500l52-16l12-12l-52 16z" fill="#2f62ff" stroke="#2f62ff" stroke-width="7"/>
<path d="M884 484l52-12l12-12l-52 12z" fill="#2f62ff" stroke="#2f62ff" stroke-width="7"/>
<path d="M936 472l53-10l12-12l-53 10z" fill="#2f62ff" stroke="#2f62ff" stroke-width="7"/>
<path d="M989 462l53-7l12-11l-53 6z" fill="#2f62ff" stroke="#2f62ff" stroke-width="7"/>
<path d="M1042 455l53-5l12-10l-53 4z" fill="#2f62ff" stroke="#2f62ff" stroke-width="7"/>
<path d="M1095 450l54-2l12-10l-54 2z" fill="#2f62ff" stroke="#2f62ff" stroke-width="7"/>
<path d="M1149 448l54 1l12-9l-54-2z" fill="#2f62ff" stroke="#2f62ff" stroke-width="7"/>
<path d="M1203 449l54 3l12-9l-54-3z" fill="#2f62ff" stroke="#2f62ff" stroke-width="7"/>
<path d="M1257 452l54 5l12-8l-54-6z" fill="#2f62ff" stroke="#2f62ff" stroke-width="7"/>
<path d="M1311 457l55 8l11-8l-54-8z" fill="#2f62ff" stroke="#2f62ff" stroke-width="7"/>
<path d="M1366 465l54 10l12-8l-55-10z" fill="#2f62ff" stroke="#2f62ff" stroke-width="7"/>
<path d="M1420 475l55 12l12-8l-55-12z" fill="#2f62ff" stroke="#2f62ff" stroke-width="7"/>
<path d="M1475 487l55 13l12-7l-55-14z" fill="#2f62ff" stroke="#2f62ff" stroke-width="7"/>
<path d="M1530 500l56 16l11-7l-55-16z" fill="#2f62ff" stroke="#2f62ff" stroke-width="7"/>
<path d="M1586 516l55 17l11-6l-55-18z" fill="#2f62ff" stroke="#2f62ff" stroke-width="7"/>
<path d="M1641 533l56 19l10-6l-55-19z" fill="#2f62ff" stroke="#2f62ff" stroke-width="7"/>
<path d="M1697 552l55 20l11-6l-56-20z" fill="#2f62ff" stroke="#2f62ff" stroke-width="7"/>
<path d="M1752 572l56 22l11-6l-56-22z" fill="#2f62ff" stroke="#2f62ff" stroke-width="7"/>
<path d="M1808 594l56 24l10-7l-55-23z" fill="#2f62ff" stroke="#2f62ff" stroke-width="7"/>
<path d="M1864 618l56 24l10-6l-56-25z" fill="#2f62ff" stroke="#2f62ff" stroke-width="7"/>
<path d="M1920 642l56 26l10-7l-56-25z" fill="#2f62ff" stroke="#2f62ff" stroke-width="7"/>
<path d="M1976 668l56 27l10-7l-56-27z" fill="#2f62ff" stroke="#2f62ff" stroke-width="7"/>
<path d="M2032 695l56 27l10-6l-56-28z" fill="#2f62ff" stroke="#2f62ff" stroke-width="7"/>
<path d="M2088 722l57 29l9-6l-56-29z" fill="#2f62ff" stroke="#2f62ff" stroke-width="7"/>
<path d="M2145 751l56 30l10-6l-57-30z" fill="#2f62ff" stroke="#2f62ff" stroke-width="7"/>
<path d="M2201 781l57 30l9-5l-56-31z" fill="#2f62ff" stroke="#2f62ff" stroke-width="7"/>
<path d="M2258 811l56 31l9-5l-56-31z" fill="#2f62ff" stroke="#2f62ff" stroke-width="7"/>
<path d="M2314 842l57 31l9-3l-57-33z" fill="#2f62ff" stroke="#2f62ff" stroke-width="7"/>
<path d="M2371 873l57 33l8-2l-56-34z" fill="#2f62ff" stroke="#2f62ff" stroke-width="7"/>
<path d="M2428 906l56 32l9 0l-57-34z" fill="#2f62ff" stroke="#2f62ff" stroke-width="7"/>
<path d="M2484 938l57 33l8 3l-56-36z" fill="#2f62ff" stroke="#2f62ff" stroke-width="7"/>
<path d="M2484 938L2493 938M2541 971L2549 974"/>
<path d="M716 551l51-21l13-12l-52 22z" fill="#2f62ff" stroke="#2f62ff" stroke-width="7"/>
<path d="M716 551L728 540"/>
<path d="M767 530l52-18l13-12l-52 18z" fill="#2f62ff" stroke="#2f62ff" stroke-width="7"/>
<path d="M819 512l52-16l13-12l-52 16z" fill="#2f62ff" stroke="#2f62ff" stroke-width="7"/>
<path d="M871 496l53-13l12-11l-52 12z" fill="#2f62ff" stroke="#2f62ff" stroke-width="7"/>
<path d="M924 483l52-10l13-11l-53 10z" fill="#2f62ff" stroke="#2f62ff" stroke-width="7"/>
<path d="M976 473l54-8l12-10l-53 7z" fill="#2f62ff" stroke="#2f62ff" stroke-width="7"/>
<path d="M1030 465l53-4l12-11l-53 5z" fill="#2f62ff" stroke="#2f62ff" stroke-width="7"/>
<path d="M1083 461l54-3l12-10l-54 2z" fill="#2f62ff" stroke="#2f62ff" stroke-width="7"/>
<path d="M1137 458l54 0l12-9l-54-1z" fill="#2f62ff" stroke="#2f62ff" stroke-width="7"/>
<path d="M1191 458l54 3l12-9l-54-3z" fill="#2f62ff" stroke="#2f62ff" stroke-width="7"/>
<path d="M1245 461l54 5l12-9l-54-5z" fill="#2f62ff" stroke="#2f62ff" stroke-width="7"/>
<path d="M1299 466l55 7l12-8l-55-8z" fill="#2f62ff" stroke="#2f62ff" stroke-width="7"/>
<path d="M1354 473l55 10l11-8l-54-10z" fill="#2f62ff" stroke="#2f62ff" stroke-width="7"/>
<path d="M1409 483l55 11l11-7l-55-12z" fill="#2f62ff" stroke="#2f62ff" stroke-width="7"/>
<path d="M1464 494l55 14l11-8l-55-13z" fill="#2f62ff" stroke="#2f62ff" stroke-width="7"/>
<path d="M1519 508l56 15l11-7l-56-16z" fill="#2f62ff" stroke="#2f62ff" stroke-width="7"/>
<path d="M1575 523l55 18l11-8l-55-17z" fill="#2f62ff" stroke="#2f62ff" stroke-width="7"/>
<path d="M1630 541l56 19l11-8l-56-19z" fill="#3064fe" stroke="#3064fe" stroke-width="7"/>
<path d="M1686 560l56 20l10-8l-55-20z" fill="#3167fd" stroke="#3167fd" stroke-width="7"/>
<path d="M1742 580l56 22l10-8l-56-22z" fill="#3269fc" stroke="#3269fc" stroke-width="7"/>
<path d="M1742 580L1752 572"/>
<path d="M1798 602l56 24l10-8l-56-24z" fill="#336bfb" stroke="#336bfb" stroke-width="7"/>
<path d="M1798 602L1808 594"/>
<path d="M1854 626l56 24l10-8l-56-24z" fill="#346efb" stroke="#346efb" stroke-width="7"/>
<path d="M1854 626L1864 618"/>
<path d="M1910 650l56 26l10-8l-56-26z" fill="#356ffa" stroke="#356ffa" stroke-width="7"/>
<path d="M1910 650L1920 642"/>
<path d="M1966 676l56 27l10-8l-56-27z" fill="#3671f9" stroke="#3671f9" stroke-width="7"/>
<path d="M1966 676L1976 668"/>
<path d="M2022 703l57 28l9-9l-56-27z" fill="#3671f9" stroke="#3671f9" stroke-width="7"/>
<path d="M2022 703L2032 695"/>
<path d="M2079 731l56 28l10-8l-57-29z" fill="#3671f9" stroke="#3671f9" stroke-width="7"/>
<path d="M2079 731L2088 722"/>
<path d="M2135 759l57 30l9-8l-56-30z" fill="#3570fa" stroke="#3570fa" stroke-width="7"/>
<path d="M2135 759L2145 751"/>
<path d="M2192 789l56 30l10-8l-57-30z" fill="#346dfb" stroke="#346dfb" stroke-width="7"/>
<path d="M2192 789L2201 781"/>
<path d="M2248 819l57 30l9-7l-56-31z" fill="#3268fd" stroke="#3268fd" stroke-width="7"/>
<path d="M2305 849l57 31l9-7l-57-31z" fill="#2f62ff" stroke="#2f62ff" stroke-width="7"/>
<path d="M2362 880l57 31l9-5l-57-33z" fill="#2f62ff" stroke="#2f62ff" stroke-width="7"/>
<path d="M2419 911l57 31l8-4l-56-32z" fill="#2f62ff" stroke="#2f62ff" stroke-width="7"/>
<path d="M2476 942l57 31l8-2l-57-33z" fill="#2f62ff" stroke="#2f62ff" stroke-width="7"/>
<path d="M2476 942L2484 938M2533 973L2541 971"/>
<path d="M703 563l51-21l13-12l-51 21z" fill="#2f62ff" stroke="#2f62ff" stroke-width="7"/>
<path d="M703 563L716 551"/>
<path d="M754 542l52-19l13-11l-52 18z" fill="#2f62ff" stroke="#2f62ff" stroke-width="7"/>
<path d="M806 523l52-15l13-12l-52 16z" fill="#2f62ff" stroke="#2f62ff" stroke-width="7"/>
<path d="M858 508l53-13l13-12l-53 13z" fill="#2f62ff" stroke="#2f62ff" stroke-width="7"/>
<path d="M911 495l53-11l12-11l-52 10z" fill="#2f62ff" stroke="#2f62ff" stroke-width="7"/>
<path d="M964 484l53-8l13-11l-54 8z" fill="#2f62ff" stroke="#2f62ff" stroke-width="7"/>
<path d="M1017 476l54-5l12-10l-53 4z" fill="#2f62ff" stroke="#2f62ff" stroke-width="7"/>
<path d="M1071 471l54-3l12-10l-54 3z" fill="#2f62ff" stroke="#2f62ff" stroke-width="7"/>
<path d="M1125 468l54 0l12-10l-54 0z" fill="#2f62ff" stroke="#2f62ff" stroke-width="7"/>
<path d="M1179 468l54 2l12-9l-54-3z" fill="#2f62ff" stroke="#2f62ff" stroke-width="7"/>
<path d="M1233 470l55 5l11-9l-54-5z" fill="#2f62ff" stroke="#2f62ff" stroke-width="7"/>
<path d="M1288 475l54 7l12-9l-55-7z" fill="#2f62ff" stroke="#2f62ff" stroke-width="7"/>
<path d="M1342 482l55 9l12-8l-55-10z" fill="#2f62ff" stroke="#2f62ff" stroke-width="7"/>
<path d="M1397 491l56 11l11-8l-55-11z" fill="#3063fe" stroke="#3063fe" stroke-width="7"/>
<path d="M1453 502l55 14l11-8l-55-14z" fill="#3166fe" stroke="#3166fe" stroke-width="7"/>
<path d="M1508 516l55 15l12-8l-56-15z" fill="#3268fd" stroke="#3268fd" stroke-width="7"/>
<path d="M1563 531l56 18l11-8l-55-18z" fill="#336bfc" stroke="#336bfc" stroke-width="7"/>
<path d="M1563 531L1575 523"/>
<path d="M1619 549l56 19l11-8l-56-19z" fill="#346dfb" stroke="#346dfb" stroke-width="7"/>
<path d="M1619 549L1630 541"/>
<path d="M1675 568l56 21l11-9l-56-20z" fill="#3670f9" stroke="#3670f9" stroke-width="7"/>
<path d="M1675 568L1686 560"/>
<path d="M1731 589l56 22l11-9l-56-22z" fill="#3773f8" stroke="#3773f8" stroke-width="7"/>
<path d="M1731 589L1742 580"/>
<path d="M1787 611l56 24l11-9l-56-24z" fill="#3876f7" stroke="#3876f7" stroke-width="7"/>
<path d="M1787 611L1798 602"/>
<path d="M1843 635l56 25l11-10l-56-24z" fill="#3a78f6" stroke="#3a78f6" stroke-width="7"/>
<path d="M1843 635L1854 626"/>
<path d="M1899 660l57 26l10-10l-56-26z" fill="#3b7bf5" stroke="#3b7bf5" stroke-width="7"/>
<path d="M1899 660L1910 650"/>
<path d="M1956 686l56 27l10-10l-56-27z" fill="#3b7cf5" stroke="#3b7cf5" stroke-width="7"/>
<path d="M1956 686L1966 676"/>
<path d="M2012 713l57 28l10-10l-57-28z" fill="#3c7ef4" stroke="#3c7ef4" stroke-width="7"/>
<path d="M2012 713L2022 703"/>
<path d="M2069 741l56 29l10-11l-56-28z" fill="#3c7ef4" stroke="#3c7ef4" stroke-width="7"/>
<path d="M2069 741L2079 731"/>
<path d="M2125 770l57 29l10-10l-57-30z" fill="#3c7ef4" stroke="#3c7ef4" stroke-width="7"/>
<path d="M2125 770L2135 759"/>
<path d="M2182 799l57 30l9-10l-56-30z" fill="#3c7df5" stroke="#3c7df5" stroke-width="7"/>
<path d="M2182 799L2192 789"/>
<path d="M2239 829l57 30l9-10l-57-30z" fill="#3b7af6" stroke="#3b7af6" stroke-width="7"/>
<path d="M2239 829L2248 819"/>
<path d="M2296 859l57 30l9-9l-57-31z" fill="#3976f7" stroke="#3976f7" stroke-width="7"/>
<path d="M2296 859L2305 849"/>
<path d="M2353 889l57 30l9-8l-57-31z" fill="#3570fa" stroke="#3570fa" stroke-width="7"/>
<path d="M2353 889L2362 880"/>
<path d="M2410 919l57 29l9-6l-57-31z" fill="#3065fe" stroke="#3065fe" stroke-width="7"/>
<path d="M2467 948l57 30l9-5l-57-31z" fill="#2f62ff" stroke="#2f62ff" stroke-width="7"/>
<path d="M2467 948L2476 942M2524 978L2533 973"/>
<path d="M690 574l51-21l13-11l-51 21z" fill="#2f62ff" stroke="#2f62ff" stroke-width="7"/>
<path d="M690 574L703 563"/>
<path d="M741 553l52-18l13-12l-52 19z" fill="#2f62ff" stroke="#2f62ff" stroke-width="7"/>
<path d="M793 535l53-16l12-11l-52 15z" fill="#2f62ff" stroke="#2f62ff" stroke-width="7"/>
<path d="M846 519l52-13l13-11l-53 13z" fill="#2f62ff" stroke="#2f62ff" stroke-width="7"/>
<path d="M898 506l53-11l13-11l-53 11z" fill="#2f62ff" stroke="#2f62ff" stroke-width="7"/>
<path d="M951 495l54-8l12-11l-53 8z" fill="#2f62ff" stroke="#2f62ff" stroke-width="7"/>
<path d="M1005 487l53-6l13-10l-54 5z" fill="#2f62ff" stroke="#2f62ff" stroke-width="7"/>
<path d="M1058 481l54-3l13-10l-54 3z" fill="#2f62ff" stroke="#2f62ff" stroke-width="7"/>
<path d="M1112 478l55 0l12-10l-54 0z" fill="#2f62ff" stroke="#2f62ff" stroke-width="7"/>
<path d="M1167 478l54 2l12-10l-54-2z" fill="#2f62ff" stroke="#2f62ff" stroke-width="7"/>
<path d="M1221 480l55 4l12-9l-55-5z" fill="#2f62ff" stroke="#2f62ff" stroke-width="7"/>
<path d="M1276 484l55 7l11-9l-54-7z" fill="#3064fe" stroke="#3064fe" stroke-width="7"/>
<path d="M1331 491l55 9l11-9l-55-9z" fill="#3167fd" stroke="#3167fd" stroke-width="7"/>
<path d="M1386 500l55 11l12-9l-56-11z" fill="#3269fc" stroke="#3269fc" stroke-width="7"/>
<path d="M1386 500L1397 491"/>
<path d="M1441 511l56 14l11-9l-55-14z" fill="#346cfb" stroke="#346cfb" stroke-width="7"/>
<path d="M1441 511L1453 502"/>
<path d="M1497 525l55 16l11-10l-55-15z" fill="#356ffa" stroke="#356ffa" stroke-width="7"/>
<path d="M1497 525L1508 516"/>
<path d="M1552 541l56 17l11-9l-56-18z" fill="#3772f9" stroke="#3772f9" stroke-width="7"/>
<path d="M1552 541L1563 531"/>
<path d="M1608 558l56 20l11-10l-56-19z" fill="#3875f7" stroke="#3875f7" stroke-width="7"/>
<path d="M1608 558L1619 549"/>
<path d="M1664 578l56 21l11-10l-56-21z" fill="#3a78f6" stroke="#3a78f6" stroke-width="7"/>
<path d="M1664 578L1675 568"/>
<path d="M1720 599l56 22l11-10l-56-22z" fill="#3b7bf5" stroke="#3b7bf5" stroke-width="7"/>
<path d="M1720 599L1731 589"/>
<path d="M1776 621l56 25l11-11l-56-24z" fill="#3c7ef4" stroke="#3c7ef4" stroke-width="7"/>
<path d="M1776 621L1787 611"/>
<path d="M1832 646l57 25l10-11l-56-25z" fill="#3e81f3" stroke="#3e81f3" stroke-width="7"/>
<path d="M1832 646L1843 635"/>
<path d="M1889 671l56 27l11-12l-57-26z" fill="#3f83f2" stroke="#3f83f2" stroke-width="7"/>
<path d="M1889 671L1899 660"/>
<path d="M1945 698l57 27l10-12l-56-27z" fill="#4085f1" stroke="#4085f1" stroke-width="7"/>
<path d="M1945 698L1956 686"/>
<path d="M2002 725l57 28l10-12l-57-28z" fill="#4087f1" stroke="#4087f1" stroke-width="7"/>
<path d="M2002 725L2012 713"/>
<path d="M2059 753l56 29l10-12l-56-29z" fill="#4188f0" stroke="#4188f0" stroke-width="7"/>
<path d="M2059 753L2069 741"/>
<path d="M2115 782l57 30l10-13l-57-29z" fill="#4188f0" stroke="#4188f0" stroke-width="7"/>
<path d="M2115 782L2125 770"/>
<path d="M2172 812l57 29l10-12l-57-30z" fill="#4188f0" stroke="#4188f0" stroke-width="7"/>
<path d="M2172 812L2182 799"/>
<path d="M2229 841l57 30l10-12l-57-30z" fill="#4187f1" stroke="#4187f1" stroke-width="7"/>
<path d="M2229 841L2239 829"/>
<path d="M2286 871l57 29l10-11l-57-30z" fill="#4085f1" stroke="#4085f1" stroke-width="7"/>
<path d="M2286 871L2296 859"/>
<path d="M2343 900l57 29l10-10l-57-30z" fill="#3e81f3" stroke="#3e81f3" stroke-width="7"/>
<path d="M2343 900L2353 889"/>
<path d="M2400 929l58 29l9-10l-57-29z" fill="#3b7cf5" stroke="#3b7cf5" stroke-width="7"/>
<path d="M2400 929L2410 919"/>
<path d="M2458 958l57 28l9-8l-57-30z" fill="#3772f9" stroke="#3772f9" stroke-width="7"/>
<path d="M2458 958L2467 948M2515 986L2524 978"/>
<path d="M677 584l51-20l13-11l-51 21z" fill="#2f62ff" stroke="#2f62ff" stroke-width="7"/>
<path d="M677 584L690 574"/>
<path d="M728 564l53-18l12-11l-52 18z" fill="#2f62ff" stroke="#2f62ff" stroke-width="7"/>
<path d="M781 546l52-15l13-12l-53 16z" fill="#2f62ff" stroke="#2f62ff" stroke-width="7"/>
<path d="M833 531l53-14l12-11l-52 13z" fill="#2f62ff" stroke="#2f62ff" stroke-width="7"/>
<path d="M886 517l53-11l12-11l-53 11z" fill="#2f62ff" stroke="#2f62ff" stroke-width="7"/>
<path d="M939 506l53-8l13-11l-54 8z" fill="#2f62ff" stroke="#2f62ff" stroke-width="7"/>
<path d="M992 498l54-6l12-11l-53 6z" fill="#2f62ff" stroke="#2f62ff" stroke-width="7"/>
<path d="M1046 492l54-3l12-11l-54 3z" fill="#2f62ff" stroke="#2f62ff" stroke-width="7"/>
<path d="M1100 489l54-1l13-10l-55 0z" fill="#2f62ff" stroke="#2f62ff" stroke-width="7"/>
<path d="M1154 488l55 2l12-10l-54-2z" fill="#2f62ff" stroke="#2f62ff" stroke-width="7"/>
<path d="M1209 490l55 4l12-10l-55-4z" fill="#3065fe" stroke="#3065fe" stroke-width="7"/>
<path d="M1264 494l55 6l12-9l-55-7z" fill="#3268fd" stroke="#3268fd" stroke-width="7"/>
<path d="M1319 500l55 10l12-10l-55-9z" fill="#346cfb" stroke="#346cfb" stroke-width="7"/>
<path d="M1319 500L1331 491"/>
<path d="M1374 510l56 11l11-10l-55-11z" fill="#356ffa" stroke="#356ffa" stroke-width="7"/>
<path d="M1374 510L1386 500"/>
<path d="M1430 521l55 14l12-10l-56-14z" fill="#3772f9" stroke="#3772f9" stroke-width="7"/>
<path d="M1430 521L1441 511"/>
<path d="M1485 535l56 15l11-9l-55-16z" fill="#3876f7" stroke="#3876f7" stroke-width="7"/>
<path d="M1485 535L1497 525"/>
<path d="M1541 550l56 18l11-10l-56-17z" fill="#3a79f6" stroke="#3a79f6" stroke-width="7"/>
<path d="M1541 550L1552 541"/>
<path d="M1597 568l56 20l11-10l-56-20z" fill="#3b7cf5" stroke="#3b7cf5" stroke-width="7"/>
<path d="M1597 568L1608 558"/>
<path d="M1653 588l56 22l11-11l-56-21z" fill="#3d7ff4" stroke="#3d7ff4" stroke-width="7"/>
<path d="M1653 588L1664 578"/>
<path d="M1709 610l56 23l11-12l-56-22z" fill="#3e82f2" stroke="#3e82f2" stroke-width="7"/>
<path d="M1709 610L1720 599"/>
<path d="M1765 633l57 24l10-11l-56-25z" fill="#4085f1" stroke="#4085f1" stroke-width="7"/>
<path d="M1765 633L1776 621"/>
<path d="M1822 657l56 26l11-12l-57-25z" fill="#4188f0" stroke="#4188f0" stroke-width="7"/>
<path d="M1822 657L1832 646"/>
<path d="M1878 683l57 27l10-12l-56-27z" fill="#428aef" stroke="#428aef" stroke-width="7"/>
<path d="M1878 683L1889 671"/>
<path d="M1935 710l57 28l10-13l-57-27z" fill="#438cef" stroke="#438cef" stroke-width="7"/>
<path d="M1935 710L1945 698"/>
<path d="M1992 738l56 29l11-14l-57-28z" fill="#448eee" stroke="#448eee" stroke-width="7"/>
<path d="M1992 738L2002 725"/>
<path d="M2048 767l57 29l10-14l-56-29z" fill="#448fee" stroke="#448fee" stroke-width="7"/>
<path d="M2048 767L2059 753"/>
<path d="M2105 796l57 30l10-14l-57-30z" fill="#4590ed" stroke="#4590ed" stroke-width="7"/>
<path d="M2105 796L2115 782"/>
<path d="M2162 826l57 30l10-15l-57-29z" fill="#4590ed" stroke="#4590ed" stroke-width="7"/>
<path d="M2162 826L2172 812"/>
<path d="M2219 856l58 29l9-14l-57-30z" fill="#4590ed" stroke="#4590ed" stroke-width="7"/>
<path d="M2219 856L2229 841"/>
<path d="M2277 885l57 29l9-14l-57-29z" fill="#448fed" stroke="#448fed" stroke-width="7"/>
<path d="M2277 885L2286 871"/>
<path d="M2334 914l57 29l9-14l-57-29z" fill="#448dee" stroke="#448dee" stroke-width="7"/>
<path d="M2334 914L2343 900"/>
<path d="M2391 943l58 28l9-13l-58-29z" fill="#428aef" stroke="#428aef" stroke-width="7"/>
<path d="M2391 943L2400 929"/>
<path d="M2449 971l57 27l9-12l-57-28z" fill="#4085f1" stroke="#4085f1" stroke-width="7"/>
<path d="M2449 971L2458 958M2506 998L2515 986"/>
<path d="M664 595l51-20l13-11l-51 20z" fill="#2f62ff" stroke="#2f62ff" stroke-width="7"/>
<path d="M664 595L677 584"/>
<path d="M715 575l53-18l13-11l-53 18z" fill="#2f62ff" stroke="#2f62ff" stroke-width="7"/>
<path d="M768 557l52-15l13-11l-52 15z" fill="#2f62ff" stroke="#2f62ff" stroke-width="7"/>
<path d="M820 542l53-14l13-11l-53 14z" fill="#2f62ff" stroke="#2f62ff" stroke-width="7"/>
<path d="M873 528l53-11l13-11l-53 11z" fill="#2f62ff" stroke="#2f62ff" stroke-width="7"/>
<path d="M926 517l54-8l12-11l-53 8z" fill="#2f62ff" stroke="#2f62ff" stroke-width="7"/>
<path d="M980 509l54-6l12-11l-54 6z" fill="#2f62ff" stroke="#2f62ff" stroke-width="7"/>
<path d="M1034 503l54-4l12-10l-54 3z" fill="#2f62ff" stroke="#2f62ff" stroke-width="7"/>
<path d="M1088 499l54-1l12-10l-54 1z" fill="#2f62ff" stroke="#2f62ff" stroke-width="7"/>
<path d="M1142 498l55 2l12-10l-55-2z" fill="#3064fe" stroke="#3064fe" stroke-width="7"/>
<path d="M1197 500l55 4l12-10l-55-4z" fill="#3268fd" stroke="#3268fd" stroke-width="7"/>
<path d="M1252 504l55 7l12-11l-55-6z" fill="#346cfb" stroke="#346cfb" stroke-width="7"/>
<path d="M1252 504L1264 494"/>
<path d="M1307 511l55 9l12-10l-55-10z" fill="#3670f9" stroke="#3670f9" stroke-width="7"/>
<path d="M1307 511L1319 500"/>
<path d="M1362 520l56 11l12-10l-56-11z" fill="#3874f8" stroke="#3874f8" stroke-width="7"/>
<path d="M1362 520L1374 510"/>
<path d="M1418 531l56 14l11-10l-55-14z" fill="#3978f7" stroke="#3978f7" stroke-width="7"/>
<path d="M1418 531L1430 521"/>
<path d="M1474 545l56 16l11-11l-56-15z" fill="#3b7bf5" stroke="#3b7bf5" stroke-width="7"/>
<path d="M1474 545L1485 535"/>
<path d="M1530 561l56 18l11-11l-56-18z" fill="#3d7ff4" stroke="#3d7ff4" stroke-width="7"/>
<path d="M1530 561L1541 550"/>
<path d="M1586 579l56 21l11-12l-56-20z" fill="#3e82f3" stroke="#3e82f3" stroke-width="7"/>
<path d="M1586 579L1597 568"/>
<path d="M1642 600l56 22l11-12l-56-22z" fill="#4085f1" stroke="#4085f1" stroke-width="7"/>
<path d="M1642 600L1653 588"/>
<path d="M1698 622l57 23l10-12l-56-23z" fill="#4188f0" stroke="#4188f0" stroke-width="7"/>
<path d="M1698 622L1709 610"/>
<path d="M1755 645l56 25l11-13l-57-24z" fill="#428bef" stroke="#428bef" stroke-width="7"/>
<path d="M1755 645L1765 633"/>
<path d="M1811 670l57 27l10-14l-56-26z" fill="#438dee" stroke="#438dee" stroke-width="7"/>
<path d="M1811 670L1822 657"/>
<path d="M1868 697l57 28l10-15l-57-27z" fill="#458fed" stroke="#458fed" stroke-width="7"/>
<path d="M1868 697L1878 683"/>
<path d="M1925 725l56 28l11-15l-57-28z" fill="#4591ed" stroke="#4591ed" stroke-width="7"/>
<path d="M1925 725L1935 710"/>
<path d="M1981 753l57 29l10-15l-56-29z" fill="#4693ec" stroke="#4693ec" stroke-width="7"/>
<path d="M1981 753L1992 738"/>
<path d="M2038 782l57 30l10-16l-57-29z" fill="#4795eb" stroke="#4795eb" stroke-width="7"/>
<path d="M2038 782L2048 767"/>
<path d="M2095 812l57 30l10-16l-57-30z" fill="#4896eb" stroke="#4896eb" stroke-width="7"/>
<path d="M2095 812L2105 796"/>
<path d="M2152 842l58 30l9-16l-57-30z" fill="#4896eb" stroke="#4896eb" stroke-width="7"/>
<path d="M2152 842L2162 826"/>
<path d="M2210 872l57 30l10-17l-58-29z" fill="#4897eb" stroke="#4897eb" stroke-width="7"/>
<path d="M2210 872L2219 856"/>
<path d="M2267 902l57 29l10-17l-57-29z" fill="#4897eb" stroke="#4897eb" stroke-width="7"/>
<path d="M2267 902L2277 885"/>
<path d="M2324 931l58 28l9-16l-57-29z" fill="#4896eb" stroke="#4896eb" stroke-width="7"/>
<path d="M2324 931L2334 914"/>
<path d="M2382 959l57 28l10-16l-58-28z" fill="#4794eb" stroke="#4794eb" stroke-width="7"/>
<path d="M2382 959L2391 943"/>
<path d="M2439 987l58 26l9-15l-57-27z" fill="#4692ec" stroke="#4692ec" stroke-width="7"/>
<path d="M2439 987L2449 971M2497 1013L2506 998"/>
<path d="M650 605l52-19l13-11l-51 20z" fill="#2f62ff" stroke="#2f62ff" stroke-width="7"/>
<path d="M650 605L664 595"/>
<path d="M702 586l53-18l13-11l-53 18z" fill="#2f62ff" stroke="#2f62ff" stroke-width="7"/>
<path d="M755 568l52-16l13-10l-52 15z" fill="#2f62ff" stroke="#2f62ff" stroke-width="7"/>
<path d="M807 552l53-13l13-11l-53 14z" fill="#2f62ff" stroke="#2f62ff" stroke-width="7"/>
<path d="M860 539l54-11l12-11l-53 11z" fill="#2f62ff" stroke="#2f62ff" stroke-width="7"/>
<path d="M914 528l53-9l13-10l-54 8z" fill="#2f62ff" stroke="#2f62ff" stroke-width="7"/>
<path d="M967 519l54-6l13-10l-54 6z" fill="#2f62ff" stroke="#2f62ff" stroke-width="7"/>
<path d="M1021 513l54-3l13-11l-54 4z" fill="#2f62ff" stroke="#2f62ff" stroke-width="7"/>
<path d="M1075 510l55-1l12-11l-54 1z" fill="#2f62ff" stroke="#2f62ff" stroke-width="7"/>
<path d="M1130 509l55 1l12-10l-55-2z" fill="#3167fd" stroke="#3167fd" stroke-width="7"/>
<path d="M1185 510l55 4l12-10l-55-4z" fill="#346cfb" stroke="#346cfb" stroke-width="7"/>
<path d="M1185 510L1197 500"/>
<path d="M1240 514l55 7l12-10l-55-7z" fill="#3671f9" stroke="#3671f9" stroke-width="7"/>
<path d="M1240 514L1252 504"/>
<path d="M1295 521l56 9l11-10l-55-9z" fill="#3875f8" stroke="#3875f8" stroke-width="7"/>
<path d="M1295 521L1307 511"/>
<path d="M1351 530l55 12l12-11l-56-11z" fill="#3a79f6" stroke="#3a79f6" stroke-width="7"/>
<path d="M1351 530L1362 520"/>
<path d="M1406 542l56 14l12-11l-56-14z" fill="#3c7df5" stroke="#3c7df5" stroke-width="7"/>
<path d="M1406 542L1418 531"/>
<path d="M1462 556l56 17l12-12l-56-16z" fill="#3d80f3" stroke="#3d80f3" stroke-width="7"/>
<path d="M1462 556L1474 545"/>
<path d="M1518 573l56 18l12-12l-56-18z" fill="#3f84f2" stroke="#3f84f2" stroke-width="7"/>
<path d="M1518 573L1530 561"/>
<path d="M1574 591l57 21l11-12l-56-21z" fill="#4087f1" stroke="#4087f1" stroke-width="7"/>
<path d="M1574 591L1586 579"/>
<path d="M1631 612l56 22l11-12l-56-22z" fill="#428af0" stroke="#428af0" stroke-width="7"/>
<path d="M1631 612L1642 600"/>
<path d="M1687 634l57 25l11-14l-57-23z" fill="#438dee" stroke="#438dee" stroke-width="7"/>
<path d="M1687 634L1698 622"/>
<path d="M1744 659l56 26l11-15l-56-25z" fill="#448fed" stroke="#448fed" stroke-width="7"/>
<path d="M1744 659L1755 645"/>
<path d="M1800 685l57 27l11-15l-57-27z" fill="#4692ed" stroke="#4692ed" stroke-width="7"/>
<path d="M1800 685L1811 670"/>
<path d="M1857 712l57 28l11-15l-57-28z" fill="#4794ec" stroke="#4794ec" stroke-width="7"/>
<path d="M1857 712L1868 697"/>
<path d="M1914 740l57 29l10-16l-56-28z" fill="#4896eb" stroke="#4896eb" stroke-width="7"/>
<path d="M1914 740L1925 725"/>
<path d="M1971 769l57 30l10-17l-57-29z" fill="#4897ea" stroke="#4897ea" stroke-width="7"/>
<path d="M1971 769L1981 753"/>
<path d="M2028 799l57 30l10-17l-57-30z" fill="#4999ea" stroke="#4999ea" stroke-width="7"/>
<path d="M2028 799L2038 782"/>
<path d="M2085 829l57 31l10-18l-57-30z" fill="#4a9ae9" stroke="#4a9ae9" stroke-width="7"/>
<path d="M2085 829L2095 812"/>
<path d="M2142 860l58 30l10-18l-58-30z" fill="#4a9be9" stroke="#4a9be9" stroke-width="7"/>
<path d="M2142 860L2152 842"/>
<path d="M2200 890l57 30l10-18l-57-30z" fill="#4a9ce9" stroke="#4a9ce9" stroke-width="7"/>
<path d="M2200 890L2210 872"/>
<path d="M2257 920l58 29l9-18l-57-29z" fill="#4b9ce8" stroke="#4b9ce8" stroke-width="7"/>
<path d="M2257 920L2267 902"/>
<path d="M2315 949l57 29l10-19l-58-28z" fill="#4b9ce8" stroke="#4b9ce8" stroke-width="7"/>
<path d="M2315 949L2324 931"/>
<path d="M2372 978l58 27l9-18l-57-28z" fill="#4a9ce9" stroke="#4a9ce9" stroke-width="7"/>
<path d="M2372 978L2382 959"/>
<path d="M2430 1005l58 25l9-17l-58-26z" fill="#4a9ae9" stroke="#4a9ae9" stroke-width="7"/>
<path d="M2430 1005L2439 987M2488 1030L2497 1013"/>
<path d="M637 615l52-19l13-10l-52 19z" fill="#2f62ff" stroke="#2f62ff" stroke-width="7"/>
<path d="M637 615L650 605"/>
<path d="M689 596l52-17l14-11l-53 18z" fill="#2f62ff" stroke="#2f62ff" stroke-width="7"/>
<path d="M741 579l53-16l13-11l-52 16z" fill="#2f62ff" stroke="#2f62ff" stroke-width="7"/>
<path d="M794 563l53-13l13-11l-53 13z" fill="#2f62ff" stroke="#2f62ff" stroke-width="7"/>
<path d="M847 550l54-11l13-11l-54 11z" fill="#2f62ff" stroke="#2f62ff" stroke-width="7"/>
<path d="M901 539l54-9l12-11l-53 9z" fill="#2f62ff" stroke="#2f62ff" stroke-width="7"/>
<path d="M955 530l54-6l12-11l-54 6z" fill="#2f62ff" stroke="#2f62ff" stroke-width="7"/>
<path d="M1009 524l54-4l12-10l-54 3z" fill="#2f62ff" stroke="#2f62ff" stroke-width="7"/>
<path d="M1063 520l55-1l12-10l-55 1z" fill="#2f63ff" stroke="#2f63ff" stroke-width="7"/>
<path d="M1118 519l55 2l12-11l-55-1z" fill="#3369fc" stroke="#3369fc" stroke-width="7"/>
<path d="M1118 519L1130 509"/>
<path d="M1173 521l55 4l12-11l-55-4z" fill="#356ffa" stroke="#356ffa" stroke-width="7"/>
<path d="M1173 521L1185 510"/>
<path d="M1228 525l55 7l12-11l-55-7z" fill="#3874f8" stroke="#3874f8" stroke-width="7"/>
<path d="M1228 525L1240 514"/>
<path d="M1283 532l56 10l12-12l-56-9z" fill="#3a79f6" stroke="#3a79f6" stroke-width="7"/>
<path d="M1283 532L1295 521"/>
<path d="M1339 542l56 12l11-12l-55-12z" fill="#3c7df4" stroke="#3c7df4" stroke-width="7"/>
<path d="M1339 542L1351 530"/>
<path d="M1395 554l56 14l11-12l-56-14z" fill="#3e81f3" stroke="#3e81f3" stroke-width="7"/>
<path d="M1395 554L1406 542"/>
<path d="M1451 568l56 17l11-12l-56-17z" fill="#3f85f2" stroke="#3f85f2" stroke-width="7"/>
<path d="M1451 568L1462 556"/>
<path d="M1507 585l56 19l11-13l-56-18z" fill="#4188f0" stroke="#4188f0" stroke-width="7"/>
<path d="M1507 585L1518 573"/>
<path d="M1563 604l56 21l12-13l-57-21z" fill="#428bef" stroke="#428bef" stroke-width="7"/>
<path d="M1563 604L1574 591"/>
<path d="M1619 625l57 23l11-14l-56-22z" fill="#448eee" stroke="#448eee" stroke-width="7"/>
<path d="M1619 625L1631 612"/>
<path d="M1676 648l57 25l11-14l-57-25z" fill="#4591ed" stroke="#4591ed" stroke-width="7"/>
<path d="M1676 648L1687 634"/>
<path d="M1733 673l57 27l10-15l-56-26z" fill="#4693ec" stroke="#4693ec" stroke-width="7"/>
<path d="M1733 673L1744 659"/>
<path d="M1790 700l56 28l11-16l-57-27z" fill="#4795eb" stroke="#4795eb" stroke-width="7"/>
<path d="M1790 700L1800 685"/>
<path d="M1846 728l57 28l11-16l-57-28z" fill="#4897ea" stroke="#4897ea" stroke-width="7"/>
<path d="M1846 728L1857 712"/>
<path d="M1903 756l58 30l10-17l-57-29z" fill="#4999ea" stroke="#4999ea" stroke-width="7"/>
<path d="M1903 756L1914 740"/>
<path d="M1961 786l57 31l10-18l-57-30z" fill="#4a9be9" stroke="#4a9be9" stroke-width="7"/>
<path d="M1961 786L1971 769"/>
<path d="M2018 817l57 31l10-19l-57-30z" fill="#4b9ce8" stroke="#4b9ce8" stroke-width="7"/>
<path d="M2018 817L2028 799"/>
<path d="M2075 848l57 31l10-19l-57-31z" fill="#4b9ee8" stroke="#4b9ee8" stroke-width="7"/>
<path d="M2075 848L2085 829"/>
<path d="M2132 879l58 31l10-20l-58-30z" fill="#4c9fe7" stroke="#4c9fe7" stroke-width="7"/>
<path d="M2132 879L2142 860"/>
<path d="M2190 910l57 30l10-20l-57-30z" fill="#4ca0e7" stroke="#4ca0e7" stroke-width="7"/>
<path d="M2190 910L2200 890"/>
<path d="M2247 940l58 30l10-21l-58-29z" fill="#4da0e7" stroke="#4da0e7" stroke-width="7"/>
<path d="M2247 940L2257 920"/>
<path d="M2305 970l58 28l9-20l-57-29z" fill="#4da1e7" stroke="#4da1e7" stroke-width="7"/>
<path d="M2305 970L2315 949"/>
<path d="M2363 998l58 28l9-21l-58-27z" fill="#4da1e7" stroke="#4da1e7" stroke-width="7"/>
<path d="M2363 998L2372 978"/>
<path d="M2421 1026l58 25l9-21l-58-25z" fill="#4da1e7" stroke="#4da1e7" stroke-width="7"/>
<path d="M2421 1026L2430 1005M2479 1051L2488 1030"/>
<path d="M624 625l52-19l13-10l-52 19z" fill="#2f62ff" stroke="#2f62ff" stroke-width="7"/>
<path d="M624 625L637 615"/>
<path d="M676 606l52-17l13-10l-52 17z" fill="#2f62ff" stroke="#2f62ff" stroke-width="7"/>
<path d="M728 589l53-15l13-11l-53 16z" fill="#2f62ff" stroke="#2f62ff" stroke-width="7"/>
<path d="M781 574l53-14l13-10l-53 13z" fill="#2f62ff" stroke="#2f62ff" stroke-width="7"/>
<path d="M834 560l54-11l13-10l-54 11z" fill="#2f62ff" stroke="#2f62ff" stroke-width="7"/>
<path d="M888 549l54-8l13-11l-54 9z" fill="#2f62ff" stroke="#2f62ff" stroke-width="7"/>
<path d="M942 541l54-6l13-11l-54 6z" fill="#2f62ff" stroke="#2f62ff" stroke-width="7"/>
<path d="M996 535l54-4l13-11l-54 4z" fill="#2f62ff" stroke="#2f62ff" stroke-width="7"/>
<path d="M1050 531l55-1l13-11l-55 1z" fill="#3065fe" stroke="#3065fe" stroke-width="7"/>
<path d="M1105 530l55 2l13-11l-55-2z" fill="#346cfb" stroke="#346cfb" stroke-width="7"/>
<path d="M1105 530L1118 519"/>
<path d="M1160 532l56 5l12-12l-55-4z" fill="#3772f9" stroke="#3772f9" stroke-width="7"/>
<path d="M1160 532L1173 521"/>
<path d="M1216 537l55 7l12-12l-55-7z" fill="#3978f6" stroke="#3978f6" stroke-width="7"/>
<path d="M1216 537L1228 525"/>
<path d="M1271 544l56 9l12-11l-56-10z" fill="#3c7df5" stroke="#3c7df5" stroke-width="7"/>
<path d="M1271 544L1283 532"/>
<path d="M1327 553l56 13l12-12l-56-12z" fill="#3e81f3" stroke="#3e81f3" stroke-width="7"/>
<path d="M1327 553L1339 542"/>
<path d="M1383 566l56 15l12-13l-56-14z" fill="#4085f1" stroke="#4085f1" stroke-width="7"/>
<path d="M1383 566L1395 554"/>
<path d="M1439 581l56 17l12-13l-56-17z" fill="#4189f0" stroke="#4189f0" stroke-width="7"/>
<path d="M1439 581L1451 568"/>
<path d="M1495 598l57 20l11-14l-56-19z" fill="#438cef" stroke="#438cef" stroke-width="7"/>
<path d="M1495 598L1507 585"/>
<path d="M1552 618l56 21l11-14l-56-21z" fill="#448fee" stroke="#448fee" stroke-width="7"/>
<path d="M1552 618L1563 604"/>
<path d="M1608 639l57 24l11-15l-57-23z" fill="#4591ed" stroke="#4591ed" stroke-width="7"/>
<path d="M1608 639L1619 625"/>
<path d="M1665 663l57 26l11-16l-57-25z" fill="#4794ec" stroke="#4794ec" stroke-width="7"/>
<path d="M1665 663L1676 648"/>
<path d="M1722 689l57 27l11-16l-57-27z" fill="#4896eb" stroke="#4896eb" stroke-width="7"/>
<path d="M1722 689L1733 673"/>
<path d="M1779 716l57 28l10-16l-56-28z" fill="#4998ea" stroke="#4998ea" stroke-width="7"/>
<path d="M1779 716L1790 700"/>
<path d="M1836 744l57 30l10-18l-57-28z" fill="#4a9ae9" stroke="#4a9ae9" stroke-width="7"/>
<path d="M1836 744L1846 728"/>
<path d="M1893 774l57 31l11-19l-58-30z" fill="#4a9ce9" stroke="#4a9ce9" stroke-width="7"/>
<path d="M1893 774L1903 756"/>
<path d="M1950 805l57 31l11-19l-57-31z" fill="#4b9de8" stroke="#4b9de8" stroke-width="7"/>
<path d="M1950 805L1961 786"/>
<path d="M2007 836l58 32l10-20l-57-31z" fill="#4c9fe7" stroke="#4c9fe7" stroke-width="7"/>
<path d="M2007 836L2018 817"/>
<path d="M2065 868l57 31l10-20l-57-31z" fill="#4da0e7" stroke="#4da0e7" stroke-width="7"/>
<path d="M2065 868L2075 848"/>
<path d="M2122 899l58 32l10-21l-58-31z" fill="#4da2e6" stroke="#4da2e6" stroke-width="7"/>
<path d="M2122 899L2132 879"/>
<path d="M2180 931l57 31l10-22l-57-30z" fill="#4ea3e6" stroke="#4ea3e6" stroke-width="7"/>
<path d="M2180 931L2190 910"/>
<path d="M2237 962l58 30l10-22l-58-30z" fill="#4ea4e6" stroke="#4ea4e6" stroke-width="7"/>
<path d="M2237 962L2247 940"/>
<path d="M2295 992l58 29l10-23l-58-28z" fill="#4ea4e5" stroke="#4ea4e5" stroke-width="7"/>
<path d="M2295 992L2305 970"/>
<path d="M2353 1021l58 27l10-22l-58-28z" fill="#4fa5e5" stroke="#4fa5e5" stroke-width="7"/>
<path d="M2353 1021L2363 998"/>
<path d="M2411 1048l58 26l10-23l-58-25z" fill="#4fa5e5" stroke="#4fa5e5" stroke-width="7"/>
<path d="M2411 1048L2421 1026M2469 1074L2479 1051"/>
<path d="M610 635l52-19l14-10l-52 19z" fill="#2f62ff" stroke="#2f62ff" stroke-width="7"/>
<path d="M610 635L624 625"/>
<path d="M662 616l53-17l13-10l-52 17z" fill="#2f62ff" stroke="#2f62ff" stroke-width="7"/>
<path d="M715 599l53-15l13-10l-53 15z" fill="#2f62ff" stroke="#2f62ff" stroke-width="7"/>
<path d="M768 584l53-13l13-11l-53 14z" fill="#2f62ff" stroke="#2f62ff" stroke-width="7"/>
<path d="M821 571l54-11l13-11l-54 11z" fill="#2f62ff" stroke="#2f62ff" stroke-width="7"/>
<path d="M875 560l54-8l13-11l-54 8z" fill="#2f62ff" stroke="#2f62ff" stroke-width="7"/>
<path d="M929 552l54-6l13-11l-54 6z" fill="#2f62ff" stroke="#2f62ff" stroke-width="7"/>
<path d="M983 546l55-4l12-11l-54 4z" fill="#2f62ff" stroke="#2f62ff" stroke-width="7"/>
<path d="M1038 542l55 0l12-12l-55 1z" fill="#3267fd" stroke="#3267fd" stroke-width="7"/>
<path d="M1093 542l55 2l12-12l-55-2z" fill="#356ffa" stroke="#356ffa" stroke-width="7"/>
<path d="M1093 542L1105 530"/>
<path d="M1148 544l55 4l13-11l-56-5z" fill="#3876f7" stroke="#3876f7" stroke-width="7"/>
<path d="M1148 544L1160 532"/>
<path d="M1203 548l56 8l12-12l-55-7z" fill="#3b7bf5" stroke="#3b7bf5" stroke-width="7"/>
<path d="M1203 548L1216 537"/>
<path d="M1259 556l56 10l12-13l-56-9z" fill="#3d80f3" stroke="#3d80f3" stroke-width="7"/>
<path d="M1259 556L1271 544"/>
<path d="M1315 566l56 13l12-13l-56-13z" fill="#3f85f2" stroke="#3f85f2" stroke-width="7"/>
<path d="M1315 566L1327 553"/>
<path d="M1371 579l56 15l12-13l-56-15z" fill="#4188f0" stroke="#4188f0" stroke-width="7"/>
<path d="M1371 579L1383 566"/>
<path d="M1427 594l57 18l11-14l-56-17z" fill="#438cef" stroke="#438cef" stroke-width="7"/>
<path d="M1427 594L1439 581"/>
<path d="M1484 612l56 20l12-14l-57-20z" fill="#448fee" stroke="#448fee" stroke-width="7"/>
<path d="M1484 612L1495 598"/>
<path d="M1540 632l57 22l11-15l-56-21z" fill="#4692ed" stroke="#4692ed" stroke-width="7"/>
<path d="M1540 632L1552 618"/>
<path d="M1597 654l57 24l11-15l-57-24z" fill="#4794ec" stroke="#4794ec" stroke-width="7"/>
<path d="M1597 654L1608 639"/>
<path d="M1654 678l57 27l11-16l-57-26z" fill="#4896eb" stroke="#4896eb" stroke-width="7"/>
<path d="M1654 678L1665 663"/>
<path d="M1711 705l57 28l11-17l-57-27z" fill="#4999ea" stroke="#4999ea" stroke-width="7"/>
<path d="M1711 705L1722 689"/>
<path d="M1768 733l57 29l11-18l-57-28z" fill="#4a9ae9" stroke="#4a9ae9" stroke-width="7"/>
<path d="M1768 733L1779 716"/>
<path d="M1825 762l57 30l11-18l-57-30z" fill="#4b9ce8" stroke="#4b9ce8" stroke-width="7"/>
<path d="M1825 762L1836 744"/>
<path d="M1882 792l57 32l11-19l-57-31z" fill="#4b9ee8" stroke="#4b9ee8" stroke-width="7"/>
<path d="M1882 792L1893 774"/>
<path d="M1939 824l58 32l10-20l-57-31z" fill="#4c9fe7" stroke="#4c9fe7" stroke-width="7"/>
<path d="M1939 824L1950 805"/>
<path d="M1997 856l57 32l11-20l-58-32z" fill="#4da1e7" stroke="#4da1e7" stroke-width="7"/>
<path d="M1997 856L2007 836"/>
<path d="M2054 888l58 33l10-22l-57-31z" fill="#4ea2e6" stroke="#4ea2e6" stroke-width="7"/>
<path d="M2054 888L2065 868"/>
<path d="M2112 921l57 32l11-22l-58-32z" fill="#4ea4e6" stroke="#4ea4e6" stroke-width="7"/>
<path d="M2112 921L2122 899"/>
<path d="M2169 953l58 32l10-23l-57-31z" fill="#4fa5e5" stroke="#4fa5e5" stroke-width="7"/>
<path d="M2169 953L2180 931"/>
<path d="M2227 985l58 30l10-23l-58-30z" fill="#4fa6e5" stroke="#4fa6e5" stroke-width="7"/>
<path d="M2227 985L2237 962"/>
<path d="M2285 1015l58 30l10-24l-58-29z" fill="#50a7e4" stroke="#50a7e4" stroke-width="7"/>
<path d="M2285 1015L2295 992"/>
<path d="M2343 1045l58 28l10-25l-58-27z" fill="#50a8e4" stroke="#50a8e4" stroke-width="7"/>
<path d="M2343 1045L2353 1021"/>
<path d="M2401 1073l58 26l10-25l-58-26z" fill="#51a9e4" stroke="#51a9e4" stroke-width="7"/>
<path d="M2401 1073L2411 1048M2459 1099L2469 1074"/>
<path d="M597 645l52-19l13-10l-52 19z" fill="#2f62ff" stroke="#2f62ff" stroke-width="7"/>
<path d="M597 645L610 635"/>
<path d="M649 626l53-17l13-10l-53 17z" fill="#2f62ff" stroke="#2f62ff" stroke-width="7"/>
<path d="M702 609l53-15l13-10l-53 15z" fill="#2f62ff" stroke="#2f62ff" stroke-width="7"/>
<path d="M755 594l53-13l13-10l-53 13z" fill="#2f62ff" stroke="#2f62ff" stroke-width="7"/>
<path d="M808 581l54-11l13-10l-54 11z" fill="#2f62ff" stroke="#2f62ff" stroke-width="7"/>
<path d="M862 570l54-8l13-10l-54 8z" fill="#2f62ff" stroke="#2f62ff" stroke-width="7"/>
<path d="M916 562l55-6l12-10l-54 6z" fill="#2f62ff" stroke="#2f62ff" stroke-width="7"/>
<path d="M971 556l54-3l13-11l-55 4z" fill="#2f62ff" stroke="#2f62ff" stroke-width="7"/>
<path d="M1025 553l55 0l13-11l-55 0z" fill="#336afc" stroke="#336afc" stroke-width="7"/>
<path d="M1025 553L1038 542"/>
<path d="M1080 553l56 2l12-11l-55-2z" fill="#3672f9" stroke="#3672f9" stroke-width="7"/>
<path d="M1080 553L1093 542"/>
<path d="M1136 555l55 5l12-12l-55-4z" fill="#3a79f6" stroke="#3a79f6" stroke-width="7"/>
<path d="M1136 555L1148 544"/>
<path d="M1191 560l56 8l12-12l-56-8z" fill="#3c7ef4" stroke="#3c7ef4" stroke-width="7"/>
<path d="M1191 560L1203 548"/>
<path d="M1247 568l56 11l12-13l-56-10z" fill="#3f83f2" stroke="#3f83f2" stroke-width="7"/>
<path d="M1247 568L1259 556"/>
<path d="M1303 579l56 13l12-13l-56-13z" fill="#4188f0" stroke="#4188f0" stroke-width="7"/>
<path d="M1303 579L1315 566"/>
<path d="M1359 592l56 16l12-14l-56-15z" fill="#438bef" stroke="#438bef" stroke-width="7"/>
<path d="M1359 592L1371 579"/>
<path d="M1415 608l57 18l12-14l-57-18z" fill="#448fee" stroke="#448fee" stroke-width="7"/>
<path d="M1415 608L1427 594"/>
<path d="M1472 626l57 21l11-15l-56-20z" fill="#4692ed" stroke="#4692ed" stroke-width="7"/>
<path d="M1472 626L1484 612"/>
<path d="M1529 647l57 23l11-16l-57-22z" fill="#4794ec" stroke="#4794ec" stroke-width="7"/>
<path d="M1529 647L1540 632"/>
<path d="M1586 670l56 25l12-17l-57-24z" fill="#4896eb" stroke="#4896eb" stroke-width="7"/>
<path d="M1586 670L1597 654"/>
<path d="M1642 695l58 26l11-16l-57-27z" fill="#4999ea" stroke="#4999ea" stroke-width="7"/>
<path d="M1642 695L1654 678"/>
<path d="M1700 721l57 29l11-17l-57-28z" fill="#4a9be9" stroke="#4a9be9" stroke-width="7"/>
<path d="M1700 721L1711 705"/>
<path d="M1757 750l57 30l11-18l-57-29z" fill="#4b9ce8" stroke="#4b9ce8" stroke-width="7"/>
<path d="M1757 750L1768 733"/>
<path d="M1814 780l57 31l11-19l-57-30z" fill="#4b9ee8" stroke="#4b9ee8" stroke-width="7"/>
<path d="M1814 780L1825 762"/>
<path d="M1871 811l58 32l10-19l-57-32z" fill="#4ca0e7" stroke="#4ca0e7" stroke-width="7"/>
<path d="M1871 811L1882 792"/>
<path d="M1929 843l57 33l11-20l-58-32z" fill="#4da1e7" stroke="#4da1e7" stroke-width="7"/>
<path d="M1929 843L1939 824"/>
<path d="M1986 876l58 34l10-22l-57-32z" fill="#4ea2e6" stroke="#4ea2e6" stroke-width="7"/>
<path d="M1986 876L1997 856"/>
<path d="M2044 910l57 33l11-22l-58-33z" fill="#4ea4e5" stroke="#4ea4e5" stroke-width="7"/>
<path d="M2044 910L2054 888"/>
<path d="M2101 943l58 33l10-23l-57-32z" fill="#4fa5e5" stroke="#4fa5e5" stroke-width="7"/>
<path d="M2101 943L2112 921"/>
<path d="M2159 976l58 32l10-23l-58-32z" fill="#4fa7e4" stroke="#4fa7e4" stroke-width="7"/>
<path d="M2159 976L2169 953"/>
<path d="M2217 1008l58 32l10-25l-58-30z" fill="#50a8e4" stroke="#50a8e4" stroke-width="7"/>
<path d="M2217 1008L2227 985"/>
<path d="M2275 1040l58 30l10-25l-58-30z" fill="#51a9e3" stroke="#51a9e3" stroke-width="7"/>
<path d="M2275 1040L2285 1015"/>
<path d="M2333 1070l58 29l10-26l-58-28z" fill="#51aae3" stroke="#51aae3" stroke-width="7"/>
<path d="M2333 1070L2343 1045"/>
<path d="M2391 1099l59 27l9-27l-58-26z" fill="#52abe3" stroke="#52abe3" stroke-width="7"/>
<path d="M2391 1099L2401 1073M2450 1126L2459 1099"/>
<path d="M583 654l53-18l13-10l-52 19z" fill="#2f62ff" stroke="#2f62ff" stroke-width="7"/>
<path d="M583 654L597 645"/>
<path d="M636 636l52-17l14-10l-53 17z" fill="#2f62ff" stroke="#2f62ff" stroke-width="7"/>
<path d="M688 619l54-15l13-10l-53 15z" fill="#2f62ff" stroke="#2f62ff" stroke-width="7"/>
<path d="M742 604l53-13l13-10l-53 13z" fill="#2f62ff" stroke="#2f62ff" stroke-width="7"/>
<path d="M795 591l54-10l13-11l-54 11z" fill="#2f62ff" stroke="#2f62ff" stroke-width="7"/>
<path d="M849 581l54-8l13-11l-54 8z" fill="#2f62ff" stroke="#2f62ff" stroke-width="7"/>
<path d="M903 573l55-6l13-11l-55 6z" fill="#2f62ff" stroke="#2f62ff" stroke-width="7"/>
<path d="M958 567l55-2l12-12l-54 3z" fill="#2f62ff" stroke="#2f62ff" stroke-width="7"/>
<path d="M1013 565l55 0l12-12l-55 0z" fill="#346cfb" stroke="#346cfb" stroke-width="7"/>
<path d="M1013 565L1025 553"/>
<path d="M1068 565l55 2l13-12l-56-2z" fill="#3874f8" stroke="#3874f8" stroke-width="7"/>
<path d="M1068 565L1080 553"/>
<path d="M1123 567l56 6l12-13l-55-5z" fill="#3b7bf5" stroke="#3b7bf5" stroke-width="7"/>
<path d="M1123 567L1136 555"/>
<path d="M1179 573l56 8l12-13l-56-8z" fill="#3e81f3" stroke="#3e81f3" stroke-width="7"/>
<path d="M1179 573L1191 560"/>
<path d="M1235 581l56 11l12-13l-56-11z" fill="#4086f1" stroke="#4086f1" stroke-width="7"/>
<path d="M1235 581L1247 568"/>
<path d="M1291 592l56 14l12-14l-56-13z" fill="#428aef" stroke="#428aef" stroke-width="7"/>
<path d="M1291 592L1303 579"/>
<path d="M1347 606l57 16l11-14l-56-16z" fill="#448eee" stroke="#448eee" stroke-width="7"/>
<path d="M1347 606L1359 592"/>
<path d="M1404 622l56 19l12-15l-57-18z" fill="#4591ed" stroke="#4591ed" stroke-width="7"/>
<path d="M1404 622L1415 608"/>
<path d="M1460 641l57 21l12-15l-57-21z" fill="#4794ec" stroke="#4794ec" stroke-width="7"/>
<path d="M1460 641L1472 626"/>
<path d="M1517 662l57 24l12-16l-57-23z" fill="#4896eb" stroke="#4896eb" stroke-width="7"/>
<path d="M1517 662L1529 647"/>
<path d="M1574 686l57 25l11-16l-56-25z" fill="#4998ea" stroke="#4998ea" stroke-width="7"/>
<path d="M1574 686L1586 670"/>
<path d="M1631 711l57 28l12-18l-58-26z" fill="#4a9ae9" stroke="#4a9ae9" stroke-width="7"/>
<path d="M1631 711L1642 695"/>
<path d="M1688 739l58 29l11-18l-57-29z" fill="#4b9ce8" stroke="#4b9ce8" stroke-width="7"/>
<path d="M1688 739L1700 721"/>
<path d="M1746 768l57 31l11-19l-57-30z" fill="#4b9ee8" stroke="#4b9ee8" stroke-width="7"/>
<path d="M1746 768L1757 750"/>
<path d="M1803 799l58 32l10-20l-57-31z" fill="#4c9fe7" stroke="#4c9fe7" stroke-width="7"/>
<path d="M1803 799L1814 780"/>
<path d="M1861 831l57 33l11-21l-58-32z" fill="#4da1e7" stroke="#4da1e7" stroke-width="7"/>
<path d="M1861 831L1871 811"/>
<path d="M1918 864l58 33l10-21l-57-33z" fill="#4da2e6" stroke="#4da2e6" stroke-width="7"/>
<path d="M1918 864L1929 843"/>
<path d="M1976 897l57 34l11-21l-58-34z" fill="#4ea4e6" stroke="#4ea4e6" stroke-width="7"/>
<path d="M1976 897L1986 876"/>
<path d="M2033 931l58 35l10-23l-57-33z" fill="#4fa5e5" stroke="#4fa5e5" stroke-width="7"/>
<path d="M2033 931L2044 910"/>
<path d="M2091 966l58 34l10-24l-58-33z" fill="#4fa6e5" stroke="#4fa6e5" stroke-width="7"/>
<path d="M2091 966L2101 943"/>
<path d="M2149 1000l58 33l10-25l-58-32z" fill="#50a8e4" stroke="#50a8e4" stroke-width="7"/>
<path d="M2149 1000L2159 976"/>
<path d="M2207 1033l58 33l10-26l-58-32z" fill="#51a9e3" stroke="#51a9e3" stroke-width="7"/>
<path d="M2207 1033L2217 1008"/>
<path d="M2265 1066l58 31l10-27l-58-30z" fill="#51aae3" stroke="#51aae3" stroke-width="7"/>
<path d="M2265 1066L2275 1040"/>
<path d="M2323 1097l58 30l10-28l-58-29z" fill="#52ace2" stroke="#52ace2" stroke-width="7"/>
<path d="M2323 1097L2333 1070"/>
<path d="M2381 1127l59 28l10-29l-59-27z" fill="#53ade2" stroke="#53ade2" stroke-width="7"/>
<path d="M2381 1127L2391 1099M2440 1155L2450 1126"/>
<path d="M569 664l53-19l14-9l-53 18z" fill="#2f62ff" stroke="#2f62ff" stroke-width="7"/>
<path d="M569 664L583 654"/>
<path d="M622 645l53-16l13-10l-52 17z" fill="#2f62ff" stroke="#2f62ff" stroke-width="7"/>
<path d="M675 629l53-15l14-10l-54 15z" fill="#2f62ff" stroke="#2f62ff" stroke-width="7"/>
<path d="M728 614l54-13l13-10l-53 13z" fill="#2f62ff" stroke="#2f62ff" stroke-width="7"/>
<path d="M782 601l54-10l13-10l-54 10z" fill="#2f62ff" stroke="#2f62ff" stroke-width="7"/>
<path d="M836 591l54-7l13-11l-54 8z" fill="#2f62ff" stroke="#2f62ff" stroke-width="7"/>
<path d="M890 584l55-6l13-11l-55 6z" fill="#2f62ff" stroke="#2f62ff" stroke-width="7"/>
<path d="M945 578l55-2l13-11l-55 2z" fill="#3064fe" stroke="#3064fe" stroke-width="7"/>
<path d="M1000 576l55 0l13-11l-55 0z" fill="#356efa" stroke="#356efa" stroke-width="7"/>
<path d="M1000 576L1013 565"/>
<path d="M1055 576l56 3l12-12l-55-2z" fill="#3977f7" stroke="#3977f7" stroke-width="7"/>
<path d="M1055 576L1068 565"/>
<path d="M1111 579l55 6l13-12l-56-6z" fill="#3c7ef4" stroke="#3c7ef4" stroke-width="7"/>
<path d="M1111 579L1123 567"/>
<path d="M1166 585l56 9l13-13l-56-8z" fill="#3f84f2" stroke="#3f84f2" stroke-width="7"/>
<path d="M1166 585L1179 573"/>
<path d="M1222 594l57 12l12-14l-56-11z" fill="#4189f0" stroke="#4189f0" stroke-width="7"/>
<path d="M1222 594L1235 581"/>
<path d="M1279 606l56 14l12-14l-56-14z" fill="#438dee" stroke="#438dee" stroke-width="7"/>
<path d="M1279 606L1291 592"/>
<path d="M1335 620l57 17l12-15l-57-16z" fill="#4590ed" stroke="#4590ed" stroke-width="7"/>
<path d="M1335 620L1347 606"/>
<path d="M1392 637l57 19l11-15l-56-19z" fill="#4693ec" stroke="#4693ec" stroke-width="7"/>
<path d="M1392 637L1404 622"/>
<path d="M1449 656l57 22l11-16l-57-21z" fill="#4896eb" stroke="#4896eb" stroke-width="7"/>
<path d="M1449 656L1460 641"/>
<path d="M1506 678l57 24l11-16l-57-24z" fill="#4998ea" stroke="#4998ea" stroke-width="7"/>
<path d="M1506 678L1517 662"/>
<path d="M1563 702l57 26l11-17l-57-25z" fill="#499ae9" stroke="#499ae9" stroke-width="7"/>
<path d="M1563 702L1574 686"/>
<path d="M1620 728l57 29l11-18l-57-28z" fill="#4a9ce9" stroke="#4a9ce9" stroke-width="7"/>
<path d="M1620 728L1631 711"/>
<path d="M1677 757l58 30l11-19l-58-29z" fill="#4b9de8" stroke="#4b9de8" stroke-width="7"/>
<path d="M1677 757L1688 739"/>
<path d="M1735 787l57 31l11-19l-57-31z" fill="#4c9fe7" stroke="#4c9fe7" stroke-width="7"/>
<path d="M1735 787L1746 768"/>
<path d="M1792 818l58 33l11-20l-58-32z" fill="#4ca0e7" stroke="#4ca0e7" stroke-width="7"/>
<path d="M1792 818L1803 799"/>
<path d="M1850 851l57 33l11-20l-57-33z" fill="#4da1e6" stroke="#4da1e6" stroke-width="7"/>
<path d="M1850 851L1861 831"/>
<path d="M1907 884l58 35l11-22l-58-33z" fill="#4ea3e6" stroke="#4ea3e6" stroke-width="7"/>
<path d="M1907 884L1918 864"/>
<path d="M1965 919l58 35l10-23l-57-34z" fill="#4ea4e5" stroke="#4ea4e5" stroke-width="7"/>
<path d="M1965 919L1976 897"/>
<path d="M2023 954l58 35l10-23l-58-35z" fill="#4fa6e5" stroke="#4fa6e5" stroke-width="7"/>
<path d="M2023 954L2033 931"/>
<path d="M2081 989l58 35l10-24l-58-34z" fill="#50a7e4" stroke="#50a7e4" stroke-width="7"/>
<path d="M2081 989L2091 966"/>
<path d="M2139 1024l58 34l10-25l-58-33z" fill="#50a8e4" stroke="#50a8e4" stroke-width="7"/>
<path d="M2139 1024L2149 1000"/>
<path d="M2197 1058l58 34l10-26l-58-33z" fill="#51aae3" stroke="#51aae3" stroke-width="7"/>
<path d="M2197 1058L2207 1033"/>
<path d="M2255 1092l58 32l10-27l-58-31z" fill="#52abe3" stroke="#52abe3" stroke-width="7"/>
<path d="M2255 1092L2265 1066"/>
<path d="M2313 1124l58 31l10-28l-58-30z" fill="#53ade2" stroke="#53ade2" stroke-width="7"/>
<path d="M2313 1124L2323 1097"/>
<path d="M2371 1155l59 29l10-29l-59-28z" fill="#53afe1" stroke="#53afe1" stroke-width="7"/>
<path d="M2371 1155L2381 1127M2430 1184L2440 1155"/>
<path d="M556 673l52-18l14-10l-53 19z" fill="#2f62ff" stroke="#2f62ff" stroke-width="7"/>
<path d="M556 673L569 664"/>
<path d="M608 655l53-17l14-9l-53 16z" fill="#2f62ff" stroke="#2f62ff" stroke-width="7"/>
<path d="M661 638l54-14l13-10l-53 15z" fill="#2f62ff" stroke="#2f62ff" stroke-width="7"/>
<path d="M715 624l54-13l13-10l-54 13z" fill="#2f62ff" stroke="#2f62ff" stroke-width="7"/>
<path d="M769 611l54-9l13-11l-54 10z" fill="#2f62ff" stroke="#2f62ff" stroke-width="7"/>
<path d="M823 602l54-8l13-10l-54 7z" fill="#2f62ff" stroke="#2f62ff" stroke-width="7"/>
<path d="M877 594l55-5l13-11l-55 6z" fill="#2f62ff" stroke="#2f62ff" stroke-width="7"/>
<path d="M932 589l55-2l13-11l-55 2z" fill="#3166fe" stroke="#3166fe" stroke-width="7"/>
<path d="M987 587l55 1l13-12l-55 0z" fill="#3670fa" stroke="#3670fa" stroke-width="7"/>
<path d="M987 587L1000 576"/>
<path d="M1042 588l56 4l13-13l-56-3z" fill="#3a79f6" stroke="#3a79f6" stroke-width="7"/>
<path d="M1042 588L1055 576"/>
<path d="M1098 592l56 6l12-13l-55-6z" fill="#3d80f3" stroke="#3d80f3" stroke-width="7"/>
<path d="M1098 592L1111 579"/>
<path d="M1154 598l56 10l12-14l-56-9z" fill="#4086f1" stroke="#4086f1" stroke-width="7"/>
<path d="M1154 598L1166 585"/>
<path d="M1210 608l56 12l13-14l-57-12z" fill="#428bef" stroke="#428bef" stroke-width="7"/>
<path d="M1210 608L1222 594"/>
<path d="M1266 620l57 14l12-14l-56-14z" fill="#448fee" stroke="#448fee" stroke-width="7"/>
<path d="M1266 620L1279 606"/>
<path d="M1323 634l57 18l12-15l-57-17z" fill="#4692ec" stroke="#4692ec" stroke-width="7"/>
<path d="M1323 634L1335 620"/>
<path d="M1380 652l57 20l12-16l-57-19z" fill="#4795eb" stroke="#4795eb" stroke-width="7"/>
<path d="M1380 652L1392 637"/>
<path d="M1437 672l57 22l12-16l-57-22z" fill="#4897ea" stroke="#4897ea" stroke-width="7"/>
<path d="M1437 672L1449 656"/>
<path d="M1494 694l57 25l12-17l-57-24z" fill="#4999ea" stroke="#4999ea" stroke-width="7"/>
<path d="M1494 694L1506 678"/>
<path d="M1551 719l57 27l12-18l-57-26z" fill="#4a9be9" stroke="#4a9be9" stroke-width="7"/>
<path d="M1551 719L1563 702"/>
<path d="M1608 746l58 29l11-18l-57-29z" fill="#4b9de8" stroke="#4b9de8" stroke-width="7"/>
<path d="M1608 746L1620 728"/>
<path d="M1666 775l57 30l12-18l-58-30z" fill="#4b9ee8" stroke="#4b9ee8" stroke-width="7"/>
<path d="M1666 775L1677 757"/>
<path d="M1723 805l58 32l11-19l-57-31z" fill="#4c9fe7" stroke="#4c9fe7" stroke-width="7"/>
<path d="M1723 805L1735 787"/>
<path d="M1781 837l58 34l11-20l-58-33z" fill="#4da1e7" stroke="#4da1e7" stroke-width="7"/>
<path d="M1781 837L1792 818"/>
<path d="M1839 871l58 34l10-21l-57-33z" fill="#4da2e6" stroke="#4da2e6" stroke-width="7"/>
<path d="M1839 871L1850 851"/>
<path d="M1897 905l57 36l11-22l-58-35z" fill="#4ea3e6" stroke="#4ea3e6" stroke-width="7"/>
<path d="M1897 905L1907 884"/>
<path d="M1954 941l58 35l11-22l-58-35z" fill="#4fa4e5" stroke="#4fa4e5" stroke-width="7"/>
<path d="M1954 941L1965 919"/>
<path d="M2012 976l58 36l11-23l-58-35z" fill="#4fa6e5" stroke="#4fa6e5" stroke-width="7"/>
<path d="M2012 976L2023 954"/>
<path d="M2070 1012l58 36l11-24l-58-35z" fill="#50a7e4" stroke="#50a7e4" stroke-width="7"/>
<path d="M2070 1012L2081 989"/>
<path d="M2128 1048l58 36l11-26l-58-34z" fill="#51a9e4" stroke="#51a9e4" stroke-width="7"/>
<path d="M2128 1048L2139 1024"/>
<path d="M2186 1084l59 34l10-26l-58-34z" fill="#51aae3" stroke="#51aae3" stroke-width="7"/>
<path d="M2186 1084L2197 1058"/>
<path d="M2245 1118l58 34l10-28l-58-32z" fill="#52ace2" stroke="#52ace2" stroke-width="7"/>
<path d="M2245 1118L2255 1092"/>
<path d="M2303 1152l58 32l10-29l-58-31z" fill="#53aee2" stroke="#53aee2" stroke-width="7"/>
<path d="M2303 1152L2313 1124"/>
<path d="M2361 1184l59 31l10-31l-59-29z" fill="#54afe1" stroke="#54afe1" stroke-width="7"/>
<path d="M2361 1184L2371 1155M2420 1215L2430 1184"/>
<path d="M542 683l53-19l13-9l-52 18z" fill="#2f62ff" stroke="#2f62ff" stroke-width="7"/>
<path d="M542 683L556 673"/>
<path d="M595 664l53-16l13-10l-53 17z" fill="#2f62ff" stroke="#2f62ff" stroke-width="7"/>
<path d="M648 648l53-15l14-9l-54 14z" fill="#2f62ff" stroke="#2f62ff" stroke-width="7"/>
<path d="M701 633l54-12l14-10l-54 13z" fill="#2f62ff" stroke="#2f62ff" stroke-width="7"/>
<path d="M755 621l54-9l14-10l-54 9z" fill="#2f62ff" stroke="#2f62ff" stroke-width="7"/>
<path d="M809 612l55-7l13-11l-54 8z" fill="#2f62ff" stroke="#2f62ff" stroke-width="7"/>
<path d="M864 605l55-4l13-12l-55 5z" fill="#2f62ff" stroke="#2f62ff" stroke-width="7"/>
<path d="M919 601l55-2l13-12l-55 2z" fill="#3268fd" stroke="#3268fd" stroke-width="7"/>
<path d="M974 599l56 1l12-12l-55-1z" fill="#3772f9" stroke="#3772f9" stroke-width="7"/>
<path d="M974 599L987 587"/>
<path d="M1030 600l55 5l13-13l-56-4z" fill="#3b7bf5" stroke="#3b7bf5" stroke-width="7"/>
<path d="M1030 600L1042 588"/>
<path d="M1085 605l56 6l13-13l-56-6z" fill="#3e82f3" stroke="#3e82f3" stroke-width="7"/>
<path d="M1085 605L1098 592"/>
<path d="M1141 611l57 10l12-13l-56-10z" fill="#4187f0" stroke="#4187f0" stroke-width="7"/>
<path d="M1141 611L1154 598"/>
<path d="M1198 621l56 13l12-14l-56-12z" fill="#438cef" stroke="#438cef" stroke-width="7"/>
<path d="M1198 621L1210 608"/>
<path d="M1254 634l57 15l12-15l-57-14z" fill="#4590ed" stroke="#4590ed" stroke-width="7"/>
<path d="M1254 634L1266 620"/>
<path d="M1311 649l57 18l12-15l-57-18z" fill="#4693ec" stroke="#4693ec" stroke-width="7"/>
<path d="M1311 649L1323 634"/>
<path d="M1368 667l57 21l12-16l-57-20z" fill="#4896eb" stroke="#4896eb" stroke-width="7"/>
<path d="M1368 667L1380 652"/>
<path d="M1425 688l57 23l12-17l-57-22z" fill="#4998ea" stroke="#4998ea" stroke-width="7"/>
<path d="M1425 688L1437 672"/>
<path d="M1482 711l57 25l12-17l-57-25z" fill="#4a9ae9" stroke="#4a9ae9" stroke-width="7"/>
<path d="M1482 711L1494 694"/>
<path d="M1539 736l58 28l11-18l-57-27z" fill="#4a9ce9" stroke="#4a9ce9" stroke-width="7"/>
<path d="M1539 736L1551 719"/>
<path d="M1597 764l58 29l11-18l-58-29z" fill="#4b9de8" stroke="#4b9de8" stroke-width="7"/>
<path d="M1597 764L1608 746"/>
<path d="M1655 793l57 31l11-19l-57-30z" fill="#4c9ee8" stroke="#4c9ee8" stroke-width="7"/>
<path d="M1655 793L1666 775"/>
<path d="M1712 824l58 33l11-20l-58-32z" fill="#4ca0e7" stroke="#4ca0e7" stroke-width="7"/>
<path d="M1712 824L1723 805"/>
<path d="M1770 857l58 34l11-20l-58-34z" fill="#4da1e7" stroke="#4da1e7" stroke-width="7"/>
<path d="M1770 857L1781 837"/>
<path d="M1828 891l58 35l11-21l-58-34z" fill="#4da2e6" stroke="#4da2e6" stroke-width="7"/>
<path d="M1828 891L1839 871"/>
<path d="M1886 926l58 36l10-21l-57-36z" fill="#4ea3e6" stroke="#4ea3e6" stroke-width="7"/>
<path d="M1886 926L1897 905"/>
<path d="M1944 962l58 37l10-23l-58-35z" fill="#4ea4e5" stroke="#4ea4e5" stroke-width="7"/>
<path d="M1944 962L1954 941"/>
<path d="M2002 999l58 36l10-23l-58-36z" fill="#4fa6e5" stroke="#4fa6e5" stroke-width="7"/>
<path d="M2002 999L2012 976"/>
<path d="M2060 1035l58 37l10-24l-58-36z" fill="#50a7e4" stroke="#50a7e4" stroke-width="7"/>
<path d="M2060 1035L2070 1012"/>
<path d="M2118 1072l58 37l10-25l-58-36z" fill="#50a9e4" stroke="#50a9e4" stroke-width="7"/>
<path d="M2118 1072L2128 1048"/>
<path d="M2176 1109l58 36l11-27l-59-34z" fill="#51aae3" stroke="#51aae3" stroke-width="7"/>
<path d="M2176 1109L2186 1084"/>
<path d="M2234 1145l59 35l10-28l-58-34z" fill="#52ace2" stroke="#52ace2" stroke-width="7"/>
<path d="M2234 1145L2245 1118"/>
<path d="M2293 1180l58 34l10-30l-58-32z" fill="#53aee2" stroke="#53aee2" stroke-width="7"/>
<path d="M2293 1180L2303 1152"/>
<path d="M2351 1214l59 32l10-31l-59-31z" fill="#54b0e1" stroke="#54b0e1" stroke-width="7"/>
<path d="M2351 1214L2361 1184M2410 1246L2420 1215"/>
<path d="M528 693l53-19l14-10l-53 19z" fill="#2f62ff" stroke="#2f62ff" stroke-width="7"/>
<path d="M528 693L542 683"/>
<path d="M581 674l53-17l14-9l-53 16z" fill="#2f62ff" stroke="#2f62ff" stroke-width="7"/>
<path d="M634 657l54-14l13-10l-53 15z" fill="#2f62ff" stroke="#2f62ff" stroke-width="7"/>
<path d="M688 643l54-12l13-10l-54 12z" fill="#2f62ff" stroke="#2f62ff" stroke-width="7"/>
<path d="M742 631l54-9l13-10l-54 9z" fill="#2f62ff" stroke="#2f62ff" stroke-width="7"/>
<path d="M796 622l55-6l13-11l-55 7z" fill="#2f62ff" stroke="#2f62ff" stroke-width="7"/>
<path d="M851 616l55-4l13-11l-55 4z" fill="#2f62ff" stroke="#2f62ff" stroke-width="7"/>
<path d="M906 612l55-1l13-12l-55 2z" fill="#336afc" stroke="#336afc" stroke-width="7"/>
<path d="M906 612L919 601"/>
<path d="M961 611l56 2l13-13l-56-1z" fill="#3874f8" stroke="#3874f8" stroke-width="7"/>
<path d="M961 611L974 599"/>
<path d="M1017 613l56 4l12-12l-55-5z" fill="#3c7cf5" stroke="#3c7cf5" stroke-width="7"/>
<path d="M1017 613L1030 600"/>
<path d="M1073 617l56 8l12-14l-56-6z" fill="#3f83f2" stroke="#3f83f2" stroke-width="7"/>
<path d="M1073 617L1085 605"/>
<path d="M1129 625l56 10l13-14l-57-10z" fill="#4189f0" stroke="#4189f0" stroke-width="7"/>
<path d="M1129 625L1141 611"/>
<path d="M1185 635l57 13l12-14l-56-13z" fill="#448dee" stroke="#448dee" stroke-width="7"/>
<path d="M1185 635L1198 621"/>
<path d="M1242 648l57 16l12-15l-57-15z" fill="#4591ed" stroke="#4591ed" stroke-width="7"/>
<path d="M1242 648L1254 634"/>
<path d="M1299 664l57 19l12-16l-57-18z" fill="#4794ec" stroke="#4794ec" stroke-width="7"/>
<path d="M1299 664L1311 649"/>
<path d="M1356 683l57 21l12-16l-57-21z" fill="#4897eb" stroke="#4897eb" stroke-width="7"/>
<path d="M1356 683L1368 667"/>
<path d="M1413 704l57 24l12-17l-57-23z" fill="#4999ea" stroke="#4999ea" stroke-width="7"/>
<path d="M1413 704L1425 688"/>
<path d="M1470 728l58 25l11-17l-57-25z" fill="#4a9be9" stroke="#4a9be9" stroke-width="7"/>
<path d="M1470 728L1482 711"/>
<path d="M1528 753l57 28l12-17l-58-28z" fill="#4b9ce8" stroke="#4b9ce8" stroke-width="7"/>
<path d="M1528 753L1539 736"/>
<path d="M1585 781l58 30l12-18l-58-29z" fill="#4b9de8" stroke="#4b9de8" stroke-width="7"/>
<path d="M1585 781L1597 764"/>
<path d="M1643 811l58 32l11-19l-57-31z" fill="#4c9fe8" stroke="#4c9fe8" stroke-width="7"/>
<path d="M1643 811L1655 793"/>
<path d="M1701 843l58 33l11-19l-58-33z" fill="#4ca0e7" stroke="#4ca0e7" stroke-width="7"/>
<path d="M1701 843L1712 824"/>
<path d="M1759 876l58 35l11-20l-58-34z" fill="#4da1e7" stroke="#4da1e7" stroke-width="7"/>
<path d="M1759 876L1770 857"/>
<path d="M1817 911l58 36l11-21l-58-35z" fill="#4da2e6" stroke="#4da2e6" stroke-width="7"/>
<path d="M1817 911L1828 891"/>
<path d="M1875 947l58 36l11-21l-58-36z" fill="#4ea3e6" stroke="#4ea3e6" stroke-width="7"/>
<path d="M1875 947L1886 926"/>
<path d="M1933 983l58 38l11-22l-58-37z" fill="#4ea4e5" stroke="#4ea4e5" stroke-width="7"/>
<path d="M1933 983L1944 962"/>
<path d="M1991 1021l58 38l11-24l-58-36z" fill="#4fa5e5" stroke="#4fa5e5" stroke-width="7"/>
<path d="M1991 1021L2002 999"/>
<path d="M2049 1059l58 37l11-24l-58-37z" fill="#50a7e4" stroke="#50a7e4" stroke-width="7"/>
<path d="M2049 1059L2060 1035"/>
<path d="M2107 1096l59 38l10-25l-58-37z" fill="#50a8e4" stroke="#50a8e4" stroke-width="7"/>
<path d="M2107 1096L2118 1072"/>
<path d="M2166 1134l58 37l10-26l-58-36z" fill="#51aae3" stroke="#51aae3" stroke-width="7"/>
<path d="M2166 1134L2176 1109"/>
<path d="M2224 1171l59 37l10-28l-59-35z" fill="#52ace2" stroke="#52ace2" stroke-width="7"/>
<path d="M2224 1171L2234 1145"/>
<path d="M2283 1208l58 35l10-29l-58-34z" fill="#53ade2" stroke="#53ade2" stroke-width="7"/>
<path d="M2283 1208L2293 1180"/>
<path d="M2341 1243l59 35l10-32l-59-32z" fill="#54b0e1" stroke="#54b0e1" stroke-width="7"/>
<path d="M2341 1243L2351 1214M2400 1278L2410 1246"/>
<path d="M514 703l53-19l14-10l-53 19z" fill="#2f62ff" stroke="#2f62ff" stroke-width="7"/>
<path d="M514 703L528 693"/>
<path d="M567 684l53-17l14-10l-53 17z" fill="#2f62ff" stroke="#2f62ff" stroke-width="7"/>
<path d="M620 667l54-14l14-10l-54 14z" fill="#2f62ff" stroke="#2f62ff" stroke-width="7"/>
<path d="M674 653l54-12l14-10l-54 12z" fill="#2f62ff" stroke="#2f62ff" stroke-width="7"/>
<path d="M728 641l55-9l13-10l-54 9z" fill="#2f62ff" stroke="#2f62ff" stroke-width="7"/>
<path d="M783 632l54-6l14-10l-55 6z" fill="#2f62ff" stroke="#2f62ff" stroke-width="7"/>
<path d="M837 626l56-3l13-11l-55 4z" fill="#2f62ff" stroke="#2f62ff" stroke-width="7"/>
<path d="M893 623l55 0l13-12l-55 1z" fill="#336bfb" stroke="#336bfb" stroke-width="7"/>
<path d="M893 623L906 612"/>
<path d="M948 623l56 2l13-12l-56-2z" fill="#3876f7" stroke="#3876f7" stroke-width="7"/>
<path d="M948 623L961 611"/>
<path d="M1004 625l56 5l13-13l-56-4z" fill="#3c7ef4" stroke="#3c7ef4" stroke-width="7"/>
<path d="M1004 625L1017 613"/>
<path d="M1060 630l56 8l13-13l-56-8z" fill="#3f85f2" stroke="#3f85f2" stroke-width="7"/>
<path d="M1060 630L1073 617"/>
<path d="M1116 638l57 11l12-14l-56-10z" fill="#428af0" stroke="#428af0" stroke-width="7"/>
<path d="M1116 638L1129 625"/>
<path d="M1173 649l57 14l12-15l-57-13z" fill="#448eee" stroke="#448eee" stroke-width="7"/>
<path d="M1173 649L1185 635"/>
<path d="M1230 663l57 17l12-16l-57-16z" fill="#4692ec" stroke="#4692ec" stroke-width="7"/>
<path d="M1230 663L1242 648"/>
<path d="M1287 680l57 19l12-16l-57-19z" fill="#4795eb" stroke="#4795eb" stroke-width="7"/>
<path d="M1287 680L1299 664"/>
<path d="M1344 699l57 21l12-16l-57-21z" fill="#4897ea" stroke="#4897ea" stroke-width="7"/>
<path d="M1344 699L1356 683"/>
<path d="M1401 720l58 24l11-16l-57-24z" fill="#4999ea" stroke="#4999ea" stroke-width="7"/>
<path d="M1401 720L1413 704"/>
<path d="M1459 744l57 27l12-18l-58-25z" fill="#4a9be9" stroke="#4a9be9" stroke-width="7"/>
<path d="M1459 744L1470 728"/>
<path d="M1516 771l58 28l11-18l-57-28z" fill="#4b9ce8" stroke="#4b9ce8" stroke-width="7"/>
<path d="M1516 771L1528 753"/>
<path d="M1574 799l58 31l11-19l-58-30z" fill="#4b9de8" stroke="#4b9de8" stroke-width="7"/>
<path d="M1574 799L1585 781"/>
<path d="M1632 830l58 32l11-19l-58-32z" fill="#4c9ee8" stroke="#4c9ee8" stroke-width="7"/>
<path d="M1632 830L1643 811"/>
<path d="M1690 862l58 34l11-20l-58-33z" fill="#4c9fe7" stroke="#4c9fe7" stroke-width="7"/>
<path d="M1690 862L1701 843"/>
<path d="M1748 896l58 35l11-20l-58-35z" fill="#4ca0e7" stroke="#4ca0e7" stroke-width="7"/>
<path d="M1748 896L1759 876"/>
<path d="M1806 931l58 36l11-20l-58-36z" fill="#4da1e7" stroke="#4da1e7" stroke-width="7"/>
<path d="M1806 931L1817 911"/>
<path d="M1864 967l58 37l11-21l-58-36z" fill="#4da2e6" stroke="#4da2e6" stroke-width="7"/>
<path d="M1864 967L1875 947"/>
<path d="M1922 1004l58 38l11-21l-58-38z" fill="#4ea3e6" stroke="#4ea3e6" stroke-width="7"/>
<path d="M1922 1004L1933 983"/>
<path d="M1980 1042l59 39l10-22l-58-38z" fill="#4ea4e5" stroke="#4ea4e5" stroke-width="7"/>
<path d="M1980 1042L1991 1021"/>
<path d="M2039 1081l58 39l10-24l-58-37z" fill="#4fa6e5" stroke="#4fa6e5" stroke-width="7"/>
<path d="M2039 1081L2049 1059"/>
<path d="M2097 1120l58 39l11-25l-59-38z" fill="#50a7e4" stroke="#50a7e4" stroke-width="7"/>
<path d="M2097 1120L2107 1096"/>
<path d="M2155 1159l59 38l10-26l-58-37z" fill="#51a9e3" stroke="#51a9e3" stroke-width="7"/>
<path d="M2155 1159L2166 1134"/>
<path d="M2214 1197l58 38l11-27l-59-37z" fill="#52abe3" stroke="#52abe3" stroke-width="7"/>
<path d="M2214 1197L2224 1171"/>
<path d="M2272 1235l59 37l10-29l-58-35z" fill="#52ade2" stroke="#52ade2" stroke-width="7"/>
<path d="M2272 1235L2283 1208"/>
<path d="M2331 1272l59 37l10-31l-59-35z" fill="#53afe1" stroke="#53afe1" stroke-width="7"/>
<path d="M2331 1272L2341 1243M2390 1309L2400 1278"/>
<path d="M500 713l53-19l14-10l-53 19z" fill="#2f62ff" stroke="#2f62ff" stroke-width="7"/>
<path d="M500 713L514 703"/>
<path d="M553 694l53-17l14-10l-53 17z" fill="#2f62ff" stroke="#2f62ff" stroke-width="7"/>
<path d="M606 677l54-14l14-10l-54 14z" fill="#2f62ff" stroke="#2f62ff" stroke-width="7"/>
<path d="M660 663l55-12l13-10l-54 12z" fill="#2f62ff" stroke="#2f62ff" stroke-width="7"/>
<path d="M715 651l54-8l14-11l-55 9z" fill="#2f62ff" stroke="#2f62ff" stroke-width="7"/>
<path d="M769 643l55-6l13-11l-54 6z" fill="#2f62ff" stroke="#2f62ff" stroke-width="7"/>
<path d="M824 637l55-3l14-11l-56 3z" fill="#2f62ff" stroke="#2f62ff" stroke-width="7"/>
<path d="M879 634l56 0l13-11l-55 0z" fill="#346dfb" stroke="#346dfb" stroke-width="7"/>
<path d="M879 634L893 623"/>
<path d="M935 634l56 3l13-12l-56-2z" fill="#3977f7" stroke="#3977f7" stroke-width="7"/>
<path d="M935 634L948 623"/>
<path d="M991 637l56 6l13-13l-56-5z" fill="#3d7ff4" stroke="#3d7ff4" stroke-width="7"/>
<path d="M991 637L1004 625"/>
<path d="M1047 643l57 9l12-14l-56-8z" fill="#4085f1" stroke="#4085f1" stroke-width="7"/>
<path d="M1047 643L1060 630"/>
<path d="M1104 652l56 11l13-14l-57-11z" fill="#428bef" stroke="#428bef" stroke-width="7"/>
<path d="M1104 652L1116 638"/>
<path d="M1160 663l57 15l13-15l-57-14z" fill="#448fee" stroke="#448fee" stroke-width="7"/>
<path d="M1160 663L1173 649"/>
<path d="M1217 678l57 17l13-15l-57-17z" fill="#4692ec" stroke="#4692ec" stroke-width="7"/>
<path d="M1217 678L1230 663"/>
<path d="M1274 695l58 19l12-15l-57-19z" fill="#4795eb" stroke="#4795eb" stroke-width="7"/>
<path d="M1274 695L1287 680"/>
<path d="M1332 714l57 22l12-16l-57-21z" fill="#4897ea" stroke="#4897ea" stroke-width="7"/>
<path d="M1332 714L1344 699"/>
<path d="M1389 736l58 25l12-17l-58-24z" fill="#4999ea" stroke="#4999ea" stroke-width="7"/>
<path d="M1389 736L1401 720"/>
<path d="M1447 761l57 27l12-17l-57-27z" fill="#4a9ae9" stroke="#4a9ae9" stroke-width="7"/>
<path d="M1447 761L1459 744"/>
<path d="M1504 788l58 29l12-18l-58-28z" fill="#4a9ce9" stroke="#4a9ce9" stroke-width="7"/>
<path d="M1504 788L1516 771"/>
<path d="M1562 817l58 30l12-17l-58-31z" fill="#4b9de8" stroke="#4b9de8" stroke-width="7"/>
<path d="M1562 817L1574 799"/>
<path d="M1620 847l58 33l12-18l-58-32z" fill="#4b9ee8" stroke="#4b9ee8" stroke-width="7"/>
<path d="M1620 847L1632 830"/>
<path d="M1678 880l58 34l12-18l-58-34z" fill="#4c9ee8" stroke="#4c9ee8" stroke-width="7"/>
<path d="M1678 880L1690 862"/>
<path d="M1736 914l59 36l11-19l-58-35z" fill="#4c9fe7" stroke="#4c9fe7" stroke-width="7"/>
<path d="M1736 914L1748 896"/>
<path d="M1795 950l58 37l11-20l-58-36z" fill="#4ca0e7" stroke="#4ca0e7" stroke-width="7"/>
<path d="M1795 950L1806 931"/>
<path d="M1853 987l58 38l11-21l-58-37z" fill="#4da1e7" stroke="#4da1e7" stroke-width="7"/>
<path d="M1853 987L1864 967"/>
<path d="M1911 1025l59 38l10-21l-58-38z" fill="#4da2e6" stroke="#4da2e6" stroke-width="7"/>
<path d="M1911 1025L1922 1004"/>
<path d="M1970 1063l58 40l11-22l-59-39z" fill="#4ea3e6" stroke="#4ea3e6" stroke-width="7"/>
<path d="M1970 1063L1980 1042"/>
<path d="M2028 1103l58 39l11-22l-58-39z" fill="#4ea4e5" stroke="#4ea4e5" stroke-width="7"/>
<path d="M2028 1103L2039 1081"/>
<path d="M2086 1142l59 40l10-23l-58-39z" fill="#4fa6e5" stroke="#4fa6e5" stroke-width="7"/>
<path d="M2086 1142L2097 1120"/>
<path d="M2145 1182l59 40l10-25l-59-38z" fill="#50a8e4" stroke="#50a8e4" stroke-width="7"/>
<path d="M2145 1182L2155 1159"/>
<path d="M2204 1222l58 40l10-27l-58-38z" fill="#51aae3" stroke="#51aae3" stroke-width="7"/>
<path d="M2204 1222L2214 1197"/>
<path d="M2262 1262l59 39l10-29l-59-37z" fill="#52ace2" stroke="#52ace2" stroke-width="7"/>
<path d="M2262 1262L2272 1235"/>
<path d="M2321 1301l59 38l10-30l-59-37z" fill="#53aee2" stroke="#53aee2" stroke-width="7"/>
<path d="M2321 1301L2331 1272M2380 1339L2390 1309"/>
<path d="M486 723l53-19l14-10l-53 19z" fill="#2f62ff" stroke="#2f62ff" stroke-width="7"/>
<path d="M486 723L500 713"/>
<path d="M539 704l54-17l13-10l-53 17z" fill="#2f62ff" stroke="#2f62ff" stroke-width="7"/>
<path d="M593 687l54-14l13-10l-54 14z" fill="#2f62ff" stroke="#2f62ff" stroke-width="7"/>
<path d="M647 673l54-11l14-11l-55 12z" fill="#2f62ff" stroke="#2f62ff" stroke-width="7"/>
<path d="M701 662l55-9l13-10l-54 8z" fill="#2f62ff" stroke="#2f62ff" stroke-width="7"/>
<path d="M756 653l55-5l13-11l-55 6z" fill="#2f62ff" stroke="#2f62ff" stroke-width="7"/>
<path d="M811 648l55-2l13-12l-55 3z" fill="#2f63ff" stroke="#2f63ff" stroke-width="7"/>
<path d="M866 646l56 0l13-12l-56 0z" fill="#356ffa" stroke="#356ffa" stroke-width="7"/>
<path d="M866 646L879 634"/>
<path d="M922 646l56 4l13-13l-56-3z" fill="#3978f6" stroke="#3978f6" stroke-width="7"/>
<path d="M922 646L935 634"/>
<path d="M978 650l56 6l13-13l-56-6z" fill="#3d80f4" stroke="#3d80f4" stroke-width="7"/>
<path d="M978 650L991 637"/>
<path d="M1034 656l57 9l13-13l-57-9z" fill="#4086f1" stroke="#4086f1" stroke-width="7"/>
<path d="M1034 656L1047 643"/>
<path d="M1091 665l57 12l12-14l-56-11z" fill="#428bef" stroke="#428bef" stroke-width="7"/>
<path d="M1091 665L1104 652"/>
<path d="M1148 677l57 15l12-14l-57-15z" fill="#448fee" stroke="#448fee" stroke-width="7"/>
<path d="M1148 677L1160 663"/>
<path d="M1205 692l57 18l12-15l-57-17z" fill="#4692ec" stroke="#4692ec" stroke-width="7"/>
<path d="M1205 692L1217 678"/>
<path d="M1262 710l57 20l13-16l-58-19z" fill="#4794eb" stroke="#4794eb" stroke-width="7"/>
<path d="M1262 710L1274 695"/>
<path d="M1319 730l58 22l12-16l-57-22z" fill="#4897eb" stroke="#4897eb" stroke-width="7"/>
<path d="M1319 730L1332 714"/>
<path d="M1377 752l58 25l12-16l-58-25z" fill="#4998ea" stroke="#4998ea" stroke-width="7"/>
<path d="M1377 752L1389 736"/>
<path d="M1435 777l58 27l11-16l-57-27z" fill="#499ae9" stroke="#499ae9" stroke-width="7"/>
<path d="M1435 777L1447 761"/>
<path d="M1493 804l58 30l11-17l-58-29z" fill="#4a9be9" stroke="#4a9be9" stroke-width="7"/>
<path d="M1493 804L1504 788"/>
<path d="M1551 834l58 31l11-18l-58-30z" fill="#4a9ce9" stroke="#4a9ce9" stroke-width="7"/>
<path d="M1551 834L1562 817"/>
<path d="M1609 865l58 33l11-18l-58-33z" fill="#4b9ce8" stroke="#4b9ce8" stroke-width="7"/>
<path d="M1609 865L1620 847"/>
<path d="M1667 898l58 34l11-18l-58-34z" fill="#4b9de8" stroke="#4b9de8" stroke-width="7"/>
<path d="M1667 898L1678 880"/>
<path d="M1725 932l58 36l12-18l-59-36z" fill="#4b9ee8" stroke="#4b9ee8" stroke-width="7"/>
<path d="M1725 932L1736 914"/>
<path d="M1783 968l59 38l11-19l-58-37z" fill="#4c9ee8" stroke="#4c9ee8" stroke-width="7"/>
<path d="M1783 968L1795 950"/>
<path d="M1842 1006l58 38l11-19l-58-38z" fill="#4c9fe7" stroke="#4c9fe7" stroke-width="7"/>
<path d="M1842 1006L1853 987"/>
<path d="M1900 1044l59 39l11-20l-59-38z" fill="#4da0e7" stroke="#4da0e7" stroke-width="7"/>
<path d="M1900 1044L1911 1025"/>
<path d="M1959 1083l58 41l11-21l-58-40z" fill="#4da1e6" stroke="#4da1e6" stroke-width="7"/>
<path d="M1959 1083L1970 1063"/>
<path d="M2017 1124l59 40l10-22l-58-39z" fill="#4ea3e6" stroke="#4ea3e6" stroke-width="7"/>
<path d="M2017 1124L2028 1103"/>
<path d="M2076 1164l59 41l10-23l-59-40z" fill="#4ea4e5" stroke="#4ea4e5" stroke-width="7"/>
<path d="M2076 1164L2086 1142"/>
<path d="M2135 1205l58 41l11-24l-59-40z" fill="#4fa6e5" stroke="#4fa6e5" stroke-width="7"/>
<path d="M2135 1205L2145 1182"/>
<path d="M2193 1246l59 41l10-25l-58-40z" fill="#50a8e4" stroke="#50a8e4" stroke-width="7"/>
<path d="M2193 1246L2204 1222"/>
<path d="M2252 1287l59 41l10-27l-59-39z" fill="#51aae3" stroke="#51aae3" stroke-width="7"/>
<path d="M2252 1287L2262 1262"/>
<path d="M2311 1328l59 40l10-29l-59-38z" fill="#52ace2" stroke="#52ace2" stroke-width="7"/>
<path d="M2311 1328L2321 1301M2370 1368L2380 1339"/>
<path d="M472 735l53-20l14-11l-53 19z" fill="#2f62ff" stroke="#2f62ff" stroke-width="7"/>
<path d="M472 735L486 723"/>
<path d="M525 715l54-18l14-10l-54 17z" fill="#2f62ff" stroke="#2f62ff" stroke-width="7"/>
<path d="M579 697l54-14l14-10l-54 14z" fill="#2f62ff" stroke="#2f62ff" stroke-width="7"/>
<path d="M633 683l54-11l14-10l-54 11z" fill="#2f62ff" stroke="#2f62ff" stroke-width="7"/>
<path d="M687 672l55-8l14-11l-55 9z" fill="#2f62ff" stroke="#2f62ff" stroke-width="7"/>
<path d="M742 664l55-5l14-11l-55 5z" fill="#2f62ff" stroke="#2f62ff" stroke-width="7"/>
<path d="M797 659l56-2l13-11l-55 2z" fill="#3065fe" stroke="#3065fe" stroke-width="7"/>
<path d="M853 657l56 1l13-12l-56 0z" fill="#3670fa" stroke="#3670fa" stroke-width="7"/>
<path d="M853 657L866 646"/>
<path d="M909 658l56 4l13-12l-56-4z" fill="#3a79f6" stroke="#3a79f6" stroke-width="7"/>
<path d="M909 658L922 646"/>
<path d="M965 662l56 7l13-13l-56-6z" fill="#3d80f3" stroke="#3d80f3" stroke-width="7"/>
<path d="M965 662L978 650"/>
<path d="M1021 669l57 10l13-14l-57-9z" fill="#4086f1" stroke="#4086f1" stroke-width="7"/>
<path d="M1021 669L1034 656"/>
<path d="M1078 679l57 12l13-14l-57-12z" fill="#428aef" stroke="#428aef" stroke-width="7"/>
<path d="M1078 679L1091 665"/>
<path d="M1135 691l57 15l13-14l-57-15z" fill="#448eee" stroke="#448eee" stroke-width="7"/>
<path d="M1135 691L1148 677"/>
<path d="M1192 706l57 18l13-14l-57-18z" fill="#4591ed" stroke="#4591ed" stroke-width="7"/>
<path d="M1192 706L1205 692"/>
<path d="M1249 724l58 21l12-15l-57-20z" fill="#4694ec" stroke="#4694ec" stroke-width="7"/>
<path d="M1249 724L1262 710"/>
<path d="M1307 745l58 23l12-16l-58-22z" fill="#4795eb" stroke="#4795eb" stroke-width="7"/>
<path d="M1307 745L1319 730"/>
<path d="M1365 768l58 25l12-16l-58-25z" fill="#4897ea" stroke="#4897ea" stroke-width="7"/>
<path d="M1365 768L1377 752"/>
<path d="M1423 793l58 28l12-17l-58-27z" fill="#4998ea" stroke="#4998ea" stroke-width="7"/>
<path d="M1423 793L1435 777"/>
<path d="M1481 821l58 29l12-16l-58-30z" fill="#4999ea" stroke="#4999ea" stroke-width="7"/>
<path d="M1481 821L1493 804"/>
<path d="M1539 850l58 32l12-17l-58-31z" fill="#4a9ae9" stroke="#4a9ae9" stroke-width="7"/>
<path d="M1539 850L1551 834"/>
<path d="M1597 882l58 33l12-17l-58-33z" fill="#4a9be9" stroke="#4a9be9" stroke-width="7"/>
<path d="M1597 882L1609 865"/>
<path d="M1655 915l59 35l11-18l-58-34z" fill="#4a9be9" stroke="#4a9be9" stroke-width="7"/>
<path d="M1655 915L1667 898"/>
<path d="M1714 950l58 36l11-18l-58-36z" fill="#4a9ce9" stroke="#4a9ce9" stroke-width="7"/>
<path d="M1714 950L1725 932"/>
<path d="M1772 986l59 38l11-18l-59-38z" fill="#4b9ce8" stroke="#4b9ce8" stroke-width="7"/>
<path d="M1772 986L1783 968"/>
<path d="M1831 1024l58 39l11-19l-58-38z" fill="#4b9de8" stroke="#4b9de8" stroke-width="7"/>
<path d="M1831 1024L1842 1006"/>
<path d="M1889 1063l59 39l11-19l-59-39z" fill="#4b9ee8" stroke="#4b9ee8" stroke-width="7"/>
<path d="M1889 1063L1900 1044"/>
<path d="M1948 1102l59 41l10-19l-58-41z" fill="#4c9fe7" stroke="#4c9fe7" stroke-width="7"/>
<path d="M1948 1102L1959 1083"/>
<path d="M2007 1143l58 41l11-20l-59-40z" fill="#4da0e7" stroke="#4da0e7" stroke-width="7"/>
<path d="M2007 1143L2017 1124"/>
<path d="M2065 1184l59 42l11-21l-59-41z" fill="#4da2e6" stroke="#4da2e6" stroke-width="7"/>
<path d="M2065 1184L2076 1164"/>
<path d="M2124 1226l59 42l10-22l-58-41z" fill="#4ea3e6" stroke="#4ea3e6" stroke-width="7"/>
<path d="M2124 1226L2135 1205"/>
<path d="M2183 1268l59 43l10-24l-59-41z" fill="#4fa5e5" stroke="#4fa5e5" stroke-width="7"/>
<path d="M2183 1268L2193 1246"/>
<path d="M2242 1311l59 42l10-25l-59-41z" fill="#50a8e4" stroke="#50a8e4" stroke-width="7"/>
<path d="M2242 1311L2252 1287"/>
<path d="M2301 1353l59 42l10-27l-59-40z" fill="#51aae3" stroke="#51aae3" stroke-width="7"/>
<path d="M2301 1353L2311 1328M2360 1395L2370 1368"/>
<path d="M458 746l53-20l14-11l-53 20z" fill="#2f62ff" stroke="#2f62ff" stroke-width="7"/>
<path d="M458 746L472 735"/>
<path d="M511 726l54-18l14-11l-54 18z" fill="#2f62ff" stroke="#2f62ff" stroke-width="7"/>
<path d="M565 708l54-14l14-11l-54 14z" fill="#2f62ff" stroke="#2f62ff" stroke-width="7"/>
<path d="M619 694l54-11l14-11l-54 11z" fill="#2f62ff" stroke="#2f62ff" stroke-width="7"/>
<path d="M673 683l55-8l14-11l-55 8z" fill="#2f62ff" stroke="#2f62ff" stroke-width="7"/>
<path d="M728 675l56-5l13-11l-55 5z" fill="#2f62ff" stroke="#2f62ff" stroke-width="7"/>
<path d="M784 670l55-1l14-12l-56 2z" fill="#3167fd" stroke="#3167fd" stroke-width="7"/>
<path d="M839 669l56 1l14-12l-56-1z" fill="#3671f9" stroke="#3671f9" stroke-width="7"/>
<path d="M839 669L853 657"/>
<path d="M895 670l57 4l13-12l-56-4z" fill="#3a79f6" stroke="#3a79f6" stroke-width="7"/>
<path d="M895 670L909 658"/>
<path d="M952 674l56 7l13-12l-56-7z" fill="#3d80f3" stroke="#3d80f3" stroke-width="7"/>
<path d="M952 674L965 662"/>
<path d="M1008 681l57 11l13-13l-57-10z" fill="#4085f1" stroke="#4085f1" stroke-width="7"/>
<path d="M1008 681L1021 669"/>
<path d="M1065 692l57 13l13-14l-57-12z" fill="#4289f0" stroke="#4289f0" stroke-width="7"/>
<path d="M1065 692L1078 679"/>
<path d="M1122 705l57 15l13-14l-57-15z" fill="#438dee" stroke="#438dee" stroke-width="7"/>
<path d="M1122 705L1135 691"/>
<path d="M1179 720l58 19l12-15l-57-18z" fill="#4590ed" stroke="#4590ed" stroke-width="7"/>
<path d="M1179 720L1192 706"/>
<path d="M1237 739l58 20l12-14l-58-21z" fill="#4692ec" stroke="#4692ec" stroke-width="7"/>
<path d="M1237 739L1249 724"/>
<path d="M1295 759l58 24l12-15l-58-23z" fill="#4794ec" stroke="#4794ec" stroke-width="7"/>
<path d="M1295 759L1307 745"/>
<path d="M1353 783l58 25l12-15l-58-25z" fill="#4795eb" stroke="#4795eb" stroke-width="7"/>
<path d="M1353 783L1365 768"/>
<path d="M1411 808l58 28l12-15l-58-28z" fill="#4896eb" stroke="#4896eb" stroke-width="7"/>
<path d="M1411 808L1423 793"/>
<path d="M1469 836l58 30l12-16l-58-29z" fill="#4897ea" stroke="#4897ea" stroke-width="7"/>
<path d="M1469 836L1481 821"/>
<path d="M1527 866l58 31l12-15l-58-32z" fill="#4898ea" stroke="#4898ea" stroke-width="7"/>
<path d="M1527 866L1539 850"/>
<path d="M1585 897l59 34l11-16l-58-33z" fill="#4998ea" stroke="#4998ea" stroke-width="7"/>
<path d="M1585 897L1597 882"/>
<path d="M1644 931l58 35l12-16l-59-35z" fill="#4999ea" stroke="#4999ea" stroke-width="7"/>
<path d="M1644 931L1655 915"/>
<path d="M1702 966l59 36l11-16l-58-36z" fill="#4999ea" stroke="#4999ea" stroke-width="7"/>
<path d="M1702 966L1714 950"/>
<path d="M1761 1002l59 38l11-16l-59-38z" fill="#499ae9" stroke="#499ae9" stroke-width="7"/>
<path d="M1761 1002L1772 986"/>
<path d="M1820 1040l58 40l11-17l-58-39z" fill="#4a9ae9" stroke="#4a9ae9" stroke-width="7"/>
<path d="M1820 1040L1831 1024"/>
<path d="M1878 1080l59 40l11-18l-59-39z" fill="#4a9be9" stroke="#4a9be9" stroke-width="7"/>
<path d="M1878 1080L1889 1063"/>
<path d="M1937 1120l59 41l11-18l-59-41z" fill="#4a9ce9" stroke="#4a9ce9" stroke-width="7"/>
<path d="M1937 1120L1948 1102"/>
<path d="M1996 1161l59 42l10-19l-58-41z" fill="#4b9de8" stroke="#4b9de8" stroke-width="7"/>
<path d="M1996 1161L2007 1143"/>
<path d="M2055 1203l59 43l10-20l-59-42z" fill="#4c9fe8" stroke="#4c9fe8" stroke-width="7"/>
<path d="M2055 1203L2065 1184"/>
<path d="M2114 1246l59 43l10-21l-59-42z" fill="#4da0e7" stroke="#4da0e7" stroke-width="7"/>
<path d="M2114 1246L2124 1226"/>
<path d="M2173 1289l59 44l10-22l-59-43z" fill="#4da2e6" stroke="#4da2e6" stroke-width="7"/>
<path d="M2173 1289L2183 1268"/>
<path d="M2232 1333l59 44l10-24l-59-42z" fill="#4fa5e5" stroke="#4fa5e5" stroke-width="7"/>
<path d="M2232 1333L2242 1311"/>
<path d="M2291 1377l59 44l10-26l-59-42z" fill="#50a7e4" stroke="#50a7e4" stroke-width="7"/>
<path d="M2291 1377L2301 1353M2350 1421L2360 1395"/>
<path d="M443 758l54-21l14-11l-53 20z" fill="#2f62ff" stroke="#2f62ff" stroke-width="7"/>
<path d="M443 758L458 746"/>
<path d="M497 737l53-17l15-12l-54 18z" fill="#2f62ff" stroke="#2f62ff" stroke-width="7"/>
<path d="M550 720l55-15l14-11l-54 14z" fill="#2f62ff" stroke="#2f62ff" stroke-width="7"/>
<path d="M605 705l54-11l14-11l-54 11z" fill="#2f62ff" stroke="#2f62ff" stroke-width="7"/>
<path d="M659 694l56-8l13-11l-55 8z" fill="#2f62ff" stroke="#2f62ff" stroke-width="7"/>
<path d="M715 686l55-4l14-12l-56 5z" fill="#2f62ff" stroke="#2f62ff" stroke-width="7"/>
<path d="M770 682l56-2l13-11l-55 1z" fill="#3269fc" stroke="#3269fc" stroke-width="7"/>
<path d="M770 682L784 670"/>
<path d="M826 680l56 2l13-12l-56-1z" fill="#3672f9" stroke="#3672f9" stroke-width="7"/>
<path d="M826 680L839 669"/>
<path d="M882 682l56 4l14-12l-57-4z" fill="#3a79f6" stroke="#3a79f6" stroke-width="7"/>
<path d="M882 682L895 670"/>
<path d="M938 686l57 8l13-13l-56-7z" fill="#3d7ff4" stroke="#3d7ff4" stroke-width="7"/>
<path d="M938 686L952 674"/>
<path d="M995 694l57 10l13-12l-57-11z" fill="#3f84f2" stroke="#3f84f2" stroke-width="7"/>
<path d="M995 694L1008 681"/>
<path d="M1052 704l57 14l13-13l-57-13z" fill="#4188f0" stroke="#4188f0" stroke-width="7"/>
<path d="M1052 704L1065 692"/>
<path d="M1109 718l58 16l12-14l-57-15z" fill="#428bef" stroke="#428bef" stroke-width="7"/>
<path d="M1109 718L1122 705"/>
<path d="M1167 734l57 18l13-13l-58-19z" fill="#448eee" stroke="#448eee" stroke-width="7"/>
<path d="M1167 734L1179 720"/>
<path d="M1224 752l58 21l13-14l-58-20z" fill="#4590ed" stroke="#4590ed" stroke-width="7"/>
<path d="M1224 752L1237 739"/>
<path d="M1282 773l58 24l13-14l-58-24z" fill="#4591ed" stroke="#4591ed" stroke-width="7"/>
<path d="M1282 773L1295 759"/>
<path d="M1340 797l58 25l13-14l-58-25z" fill="#4692ec" stroke="#4692ec" stroke-width="7"/>
<path d="M1340 797L1353 783"/>
<path d="M1398 822l59 28l12-14l-58-28z" fill="#4693ec" stroke="#4693ec" stroke-width="7"/>
<path d="M1398 822L1411 808"/>
<path d="M1457 850l58 30l12-14l-58-30z" fill="#4794ec" stroke="#4794ec" stroke-width="7"/>
<path d="M1457 850L1469 836"/>
<path d="M1515 880l59 32l11-15l-58-31z" fill="#4795eb" stroke="#4795eb" stroke-width="7"/>
<path d="M1515 880L1527 866"/>
<path d="M1574 912l58 34l12-15l-59-34z" fill="#4795eb" stroke="#4795eb" stroke-width="7"/>
<path d="M1574 912L1585 897"/>
<path d="M1632 946l59 35l11-15l-58-35z" fill="#4795eb" stroke="#4795eb" stroke-width="7"/>
<path d="M1632 946L1644 931"/>
<path d="M1691 981l59 37l11-16l-59-36z" fill="#4896eb" stroke="#4896eb" stroke-width="7"/>
<path d="M1691 981L1702 966"/>
<path d="M1750 1018l58 38l12-16l-59-38z" fill="#4896eb" stroke="#4896eb" stroke-width="7"/>
<path d="M1750 1018L1761 1002"/>
<path d="M1808 1056l59 39l11-15l-58-40z" fill="#4897eb" stroke="#4897eb" stroke-width="7"/>
<path d="M1808 1056L1820 1040"/>
<path d="M1867 1095l59 41l11-16l-59-40z" fill="#4897ea" stroke="#4897ea" stroke-width="7"/>
<path d="M1867 1095L1878 1080"/>
<path d="M1926 1136l59 42l11-17l-59-41z" fill="#4998ea" stroke="#4998ea" stroke-width="7"/>
<path d="M1926 1136L1937 1120"/>
<path d="M1985 1178l59 42l11-17l-59-42z" fill="#4999ea" stroke="#4999ea" stroke-width="7"/>
<path d="M1985 1178L1996 1161"/>
<path d="M2044 1220l59 44l11-18l-59-43z" fill="#4a9ae9" stroke="#4a9ae9" stroke-width="7"/>
<path d="M2044 1220L2055 1203"/>
<path d="M2103 1264l59 44l11-19l-59-43z" fill="#4b9ce8" stroke="#4b9ce8" stroke-width="7"/>
<path d="M2103 1264L2114 1246"/>
<path d="M2162 1308l59 45l11-20l-59-44z" fill="#4b9ee8" stroke="#4b9ee8" stroke-width="7"/>
<path d="M2162 1308L2173 1289"/>
<path d="M2221 1353l59 45l11-21l-59-44z" fill="#4da0e7" stroke="#4da0e7" stroke-width="7"/>
<path d="M2221 1353L2232 1333"/>
<path d="M2280 1398l60 45l10-22l-59-44z" fill="#4ea3e6" stroke="#4ea3e6" stroke-width="7"/>
<path d="M2280 1398L2291 1377M2340 1443L2350 1421"/>
<path d="M429 771l53-21l15-13l-54 21z" fill="#2f62ff" stroke="#2f62ff" stroke-width="7"/>
<path d="M429 771L443 758"/>
<path d="M482 750l54-18l14-12l-53 17z" fill="#2f62ff" stroke="#2f62ff" stroke-width="7"/>
<path d="M536 732l55-15l14-12l-55 15z" fill="#2f62ff" stroke="#2f62ff" stroke-width="7"/>
<path d="M591 717l55-11l13-12l-54 11z" fill="#2f62ff" stroke="#2f62ff" stroke-width="7"/>
<path d="M646 706l55-8l14-12l-56 8z" fill="#2f62ff" stroke="#2f62ff" stroke-width="7"/>
<path d="M701 698l55-5l14-11l-55 4z" fill="#2f62ff" stroke="#2f62ff" stroke-width="7"/>
<path d="M756 693l56-1l14-12l-56 2z" fill="#336afc" stroke="#336afc" stroke-width="7"/>
<path d="M756 693L770 682"/>
<path d="M812 692l56 1l14-11l-56-2z" fill="#3772f9" stroke="#3772f9" stroke-width="7"/>
<path d="M812 692L826 680"/>
<path d="M868 693l57 5l13-12l-56-4z" fill="#3a78f6" stroke="#3a78f6" stroke-width="7"/>
<path d="M868 693L882 682"/>
<path d="M925 698l57 8l13-12l-57-8z" fill="#3c7df4" stroke="#3c7df4" stroke-width="7"/>
<path d="M925 698L938 686"/>
<path d="M982 706l57 11l13-13l-57-10z" fill="#3e82f3" stroke="#3e82f3" stroke-width="7"/>
<path d="M982 706L995 694"/>
<path d="M1039 717l57 13l13-12l-57-14z" fill="#4085f1" stroke="#4085f1" stroke-width="7"/>
<path d="M1039 717L1052 704"/>
<path d="M1096 730l58 16l13-12l-58-16z" fill="#4188f0" stroke="#4188f0" stroke-width="7"/>
<path d="M1096 730L1109 718"/>
<path d="M1154 746l58 19l12-13l-57-18z" fill="#428aef" stroke="#428aef" stroke-width="7"/>
<path d="M1154 746L1167 734"/>
<path d="M1212 765l58 21l12-13l-58-21z" fill="#438cef" stroke="#438cef" stroke-width="7"/>
<path d="M1212 765L1224 752"/>
<path d="M1270 786l58 24l12-13l-58-24z" fill="#448eee" stroke="#448eee" stroke-width="7"/>
<path d="M1270 786L1282 773"/>
<path d="M1328 810l58 25l12-13l-58-25z" fill="#448fee" stroke="#448fee" stroke-width="7"/>
<path d="M1328 810L1340 797"/>
<path d="M1386 835l59 28l12-13l-59-28z" fill="#458fed" stroke="#458fed" stroke-width="7"/>
<path d="M1386 835L1398 822"/>
<path d="M1445 863l58 30l12-13l-58-30z" fill="#4590ed" stroke="#4590ed" stroke-width="7"/>
<path d="M1445 863L1457 850"/>
<path d="M1503 893l59 32l12-13l-59-32z" fill="#4590ed" stroke="#4590ed" stroke-width="7"/>
<path d="M1503 893L1515 880"/>
<path d="M1562 925l59 34l11-13l-58-34z" fill="#4591ed" stroke="#4591ed" stroke-width="7"/>
<path d="M1562 925L1574 912"/>
<path d="M1621 959l58 35l12-13l-59-35z" fill="#4591ed" stroke="#4591ed" stroke-width="7"/>
<path d="M1621 959L1632 946"/>
<path d="M1679 994l59 37l12-13l-59-37z" fill="#4591ed" stroke="#4591ed" stroke-width="7"/>
<path d="M1679 994L1691 981"/>
<path d="M1738 1031l59 38l11-13l-58-38z" fill="#4591ed" stroke="#4591ed" stroke-width="7"/>
<path d="M1738 1031L1750 1018"/>
<path d="M1797 1069l59 40l11-14l-59-39z" fill="#4692ed" stroke="#4692ed" stroke-width="7"/>
<path d="M1797 1069L1808 1056"/>
<path d="M1856 1109l59 41l11-14l-59-41z" fill="#4692ec" stroke="#4692ec" stroke-width="7"/>
<path d="M1856 1109L1867 1095"/>
<path d="M1915 1150l59 42l11-14l-59-42z" fill="#4693ec" stroke="#4693ec" stroke-width="7"/>
<path d="M1915 1150L1926 1136"/>
<path d="M1974 1192l60 43l10-15l-59-42z" fill="#4794ec" stroke="#4794ec" stroke-width="7"/>
<path d="M1974 1192L1985 1178"/>
<path d="M2034 1235l59 44l10-15l-59-44z" fill="#4795eb" stroke="#4795eb" stroke-width="7"/>
<path d="M2034 1235L2044 1220"/>
<path d="M2093 1279l59 45l10-16l-59-44z" fill="#4896eb" stroke="#4896eb" stroke-width="7"/>
<path d="M2093 1279L2103 1264"/>
<path d="M2152 1324l59 46l10-17l-59-45z" fill="#4998ea" stroke="#4998ea" stroke-width="7"/>
<path d="M2152 1324L2162 1308"/>
<path d="M2211 1370l59 46l10-18l-59-45z" fill="#4a9ae9" stroke="#4a9ae9" stroke-width="7"/>
<path d="M2211 1370L2221 1353"/>
<path d="M2270 1416l60 47l10-20l-60-45z" fill="#4b9de8" stroke="#4b9de8" stroke-width="7"/>
<path d="M2270 1416L2280 1398M2330 1463L2340 1443"/>
<path d="M415 785l53-22l14-13l-53 21z" fill="#2f62ff" stroke="#2f62ff" stroke-width="7"/>
<path d="M415 785L429 771"/>
<path d="M468 763l54-19l14-12l-54 18z" fill="#2f62ff" stroke="#2f62ff" stroke-width="7"/>
<path d="M522 744l55-15l14-12l-55 15z" fill="#2f62ff" stroke="#2f62ff" stroke-width="7"/>
<path d="M577 729l55-11l14-12l-55 11z" fill="#2f62ff" stroke="#2f62ff" stroke-width="7"/>
<path d="M632 718l55-8l14-12l-55 8z" fill="#2f62ff" stroke="#2f62ff" stroke-width="7"/>
<path d="M687 710l56-5l13-12l-55 5z" fill="#3064fe" stroke="#3064fe" stroke-width="7"/>
<path d="M743 705l56-2l13-11l-56 1z" fill="#346cfb" stroke="#346cfb" stroke-width="7"/>
<path d="M743 705L756 693"/>
<path d="M799 703l56 2l13-12l-56-1z" fill="#3672f9" stroke="#3672f9" stroke-width="7"/>
<path d="M799 703L812 692"/>
<path d="M855 705l57 5l13-12l-57-5z" fill="#3977f7" stroke="#3977f7" stroke-width="7"/>
<path d="M855 705L868 693"/>
<path d="M912 710l57 8l13-12l-57-8z" fill="#3b7bf5" stroke="#3b7bf5" stroke-width="7"/>
<path d="M912 710L925 698"/>
<path d="M969 718l57 10l13-11l-57-11z" fill="#3d7ff4" stroke="#3d7ff4" stroke-width="7"/>
<path d="M969 718L982 706"/>
<path d="M1026 728l57 14l13-12l-57-13z" fill="#3e82f3" stroke="#3e82f3" stroke-width="7"/>
<path d="M1026 728L1039 717"/>
<path d="M1083 742l58 16l13-12l-58-16z" fill="#3f84f2" stroke="#3f84f2" stroke-width="7"/>
<path d="M1083 742L1096 730"/>
<path d="M1141 758l58 19l13-12l-58-19z" fill="#4086f1" stroke="#4086f1" stroke-width="7"/>
<path d="M1141 758L1154 746"/>
<path d="M1199 777l58 21l13-12l-58-21z" fill="#4187f1" stroke="#4187f1" stroke-width="7"/>
<path d="M1199 777L1212 765"/>
<path d="M1257 798l58 23l13-11l-58-24z" fill="#4188f0" stroke="#4188f0" stroke-width="7"/>
<path d="M1257 798L1270 786"/>
<path d="M1315 821l59 26l12-12l-58-25z" fill="#4289f0" stroke="#4289f0" stroke-width="7"/>
<path d="M1315 821L1328 810"/>
<path d="M1374 847l58 28l13-12l-59-28z" fill="#428af0" stroke="#428af0" stroke-width="7"/>
<path d="M1374 847L1386 835"/>
<path d="M1432 875l59 30l12-12l-58-30z" fill="#428aef" stroke="#428aef" stroke-width="7"/>
<path d="M1432 875L1445 863"/>
<path d="M1491 905l59 32l12-12l-59-32z" fill="#428aef" stroke="#428aef" stroke-width="7"/>
<path d="M1491 905L1503 893"/>
<path d="M1550 937l59 34l12-12l-59-34z" fill="#428bef" stroke="#428bef" stroke-width="7"/>
<path d="M1550 937L1562 925"/>
<path d="M1609 971l59 35l11-12l-58-35z" fill="#428bef" stroke="#428bef" stroke-width="7"/>
<path d="M1609 971L1621 959"/>
<path d="M1668 1006l59 37l11-12l-59-37z" fill="#428bef" stroke="#428bef" stroke-width="7"/>
<path d="M1668 1006L1679 994"/>
<path d="M1727 1043l59 38l11-12l-59-38z" fill="#428bef" stroke="#428bef" stroke-width="7"/>
<path d="M1727 1043L1738 1031"/>
<path d="M1786 1081l59 40l11-12l-59-40z" fill="#428bef" stroke="#428bef" stroke-width="7"/>
<path d="M1786 1081L1797 1069"/>
<path d="M1845 1121l59 41l11-12l-59-41z" fill="#438bef" stroke="#438bef" stroke-width="7"/>
<path d="M1845 1121L1856 1109"/>
<path d="M1904 1162l60 42l10-12l-59-42z" fill="#438cef" stroke="#438cef" stroke-width="7"/>
<path d="M1904 1162L1915 1150"/>
<path d="M1964 1204l59 44l11-13l-60-43z" fill="#438cef" stroke="#438cef" stroke-width="7"/>
<path d="M1964 1204L1974 1192"/>
<path d="M2023 1248l59 44l11-13l-59-44z" fill="#448dee" stroke="#448dee" stroke-width="7"/>
<path d="M2023 1248L2034 1235"/>
<path d="M2082 1292l60 46l10-14l-59-45z" fill="#448fee" stroke="#448fee" stroke-width="7"/>
<path d="M2082 1292L2093 1279"/>
<path d="M2142 1338l59 46l10-14l-59-46z" fill="#4590ed" stroke="#4590ed" stroke-width="7"/>
<path d="M2142 1338L2152 1324"/>
<path d="M2201 1384l59 47l10-15l-59-46z" fill="#4692ec" stroke="#4692ec" stroke-width="7"/>
<path d="M2201 1384L2211 1370"/>
<path d="M2260 1431l60 48l10-16l-60-47z" fill="#4794ec" stroke="#4794ec" stroke-width="7"/>
<path d="M2260 1431L2270 1416M2320 1479L2330 1463"/>
<path d="M400 800l54-23l14-14l-53 22z" fill="#2f62ff" stroke="#2f62ff" stroke-width="7"/>
<path d="M400 800L415 785"/>
<path d="M454 777l54-19l14-14l-54 19z" fill="#2f62ff" stroke="#2f62ff" stroke-width="7"/>
<path d="M508 758l55-16l14-13l-55 15z" fill="#2f62ff" stroke="#2f62ff" stroke-width="7"/>
<path d="M563 742l55-12l14-12l-55 11z" fill="#2f62ff" stroke="#2f62ff" stroke-width="7"/>
<path d="M618 730l55-8l14-12l-55 8z" fill="#2f62ff" stroke="#2f62ff" stroke-width="7"/>
<path d="M673 722l56-5l14-12l-56 5z" fill="#3167fd" stroke="#3167fd" stroke-width="7"/>
<path d="M729 717l56-2l14-12l-56 2z" fill="#346dfb" stroke="#346dfb" stroke-width="7"/>
<path d="M729 717L743 705"/>
<path d="M785 715l56 1l14-11l-56-2z" fill="#3671f9" stroke="#3671f9" stroke-width="7"/>
<path d="M785 715L799 703"/>
<path d="M841 716l57 5l14-11l-57-5z" fill="#3875f8" stroke="#3875f8" stroke-width="7"/>
<path d="M841 716L855 705"/>
<path d="M898 721l57 8l14-11l-57-8z" fill="#3978f7" stroke="#3978f7" stroke-width="7"/>
<path d="M898 721L912 710"/>
<path d="M955 729l58 10l13-11l-57-10z" fill="#3b7af6" stroke="#3b7af6" stroke-width="7"/>
<path d="M955 729L969 718"/>
<path d="M1013 739l57 13l13-10l-57-14z" fill="#3b7cf5" stroke="#3b7cf5" stroke-width="7"/>
<path d="M1013 739L1026 728"/>
<path d="M1070 752l58 16l13-10l-58-16z" fill="#3c7ef4" stroke="#3c7ef4" stroke-width="7"/>
<path d="M1070 752L1083 742"/>
<path d="M1128 768l58 19l13-10l-58-19z" fill="#3d7ff4" stroke="#3d7ff4" stroke-width="7"/>
<path d="M1128 768L1141 758"/>
<path d="M1186 787l58 21l13-10l-58-21z" fill="#3d80f3" stroke="#3d80f3" stroke-width="7"/>
<path d="M1186 787L1199 777"/>
<path d="M1244 808l59 24l12-11l-58-23z" fill="#3e81f3" stroke="#3e81f3" stroke-width="7"/>
<path d="M1244 808L1257 798"/>
<path d="M1303 832l58 25l13-10l-59-26z" fill="#3e81f3" stroke="#3e81f3" stroke-width="7"/>
<path d="M1303 832L1315 821"/>
<path d="M1361 857l59 28l12-10l-58-28z" fill="#3e82f3" stroke="#3e82f3" stroke-width="7"/>
<path d="M1361 857L1374 847"/>
<path d="M1420 885l59 30l12-10l-59-30z" fill="#3e82f3" stroke="#3e82f3" stroke-width="7"/>
<path d="M1420 885L1432 875"/>
<path d="M1479 915l59 32l12-10l-59-32z" fill="#3e82f3" stroke="#3e82f3" stroke-width="7"/>
<path d="M1479 915L1491 905"/>
<path d="M1538 947l59 33l12-9l-59-34z" fill="#3e82f3" stroke="#3e82f3" stroke-width="7"/>
<path d="M1538 947L1550 937"/>
<path d="M1597 980l59 36l12-10l-59-35z" fill="#3e82f3" stroke="#3e82f3" stroke-width="7"/>
<path d="M1597 980L1609 971"/>
<path d="M1656 1016l59 37l12-10l-59-37z" fill="#3e82f3" stroke="#3e82f3" stroke-width="7"/>
<path d="M1656 1016L1668 1006"/>
<path d="M1715 1053l60 38l11-10l-59-38z" fill="#3e82f3" stroke="#3e82f3" stroke-width="7"/>
<path d="M1715 1053L1727 1043"/>
<path d="M1775 1091l59 40l11-10l-59-40z" fill="#3e82f3" stroke="#3e82f3" stroke-width="7"/>
<path d="M1775 1091L1786 1081"/>
<path d="M1834 1131l59 41l11-10l-59-41z" fill="#3e82f3" stroke="#3e82f3" stroke-width="7"/>
<path d="M1834 1131L1845 1121"/>
<path d="M1893 1172l60 42l11-10l-60-42z" fill="#3e82f3" stroke="#3e82f3" stroke-width="7"/>
<path d="M1893 1172L1904 1162"/>
<path d="M1953 1214l59 44l11-10l-59-44z" fill="#3e82f2" stroke="#3e82f2" stroke-width="7"/>
<path d="M1953 1214L1964 1204"/>
<path d="M2012 1258l60 45l10-11l-59-44z" fill="#3f83f2" stroke="#3f83f2" stroke-width="7"/>
<path d="M2012 1258L2023 1248"/>
<path d="M2072 1303l59 45l11-10l-60-46z" fill="#3f83f2" stroke="#3f83f2" stroke-width="7"/>
<path d="M2072 1303L2082 1292"/>
<path d="M2131 1348l60 47l10-11l-59-46z" fill="#3f84f2" stroke="#3f84f2" stroke-width="7"/>
<path d="M2131 1348L2142 1338"/>
<path d="M2191 1395l59 47l10-11l-59-47z" fill="#4085f1" stroke="#4085f1" stroke-width="7"/>
<path d="M2191 1395L2201 1384"/>
<path d="M2250 1442l60 49l10-12l-60-48z" fill="#4087f1" stroke="#4087f1" stroke-width="7"/>
<path d="M2250 1442L2260 1431M2310 1491L2320 1479"/>
<path d="M386 816l54-24l14-15l-54 23z" fill="#2f62ff" stroke="#2f62ff" stroke-width="7"/>
<path d="M386 816L400 800"/>
<path d="M440 792l54-19l14-15l-54 19z" fill="#2f62ff" stroke="#2f62ff" stroke-width="7"/>
<path d="M494 773l54-16l15-15l-55 16z" fill="#2f62ff" stroke="#2f62ff" stroke-width="7"/>
<path d="M548 757l55-13l15-14l-55 12z" fill="#2f62ff" stroke="#2f62ff" stroke-width="7"/>
<path d="M603 744l56-9l14-13l-55 8z" fill="#3166fd" stroke="#3166fd" stroke-width="7"/>
<path d="M659 735l56-6l14-12l-56 5z" fill="#336afc" stroke="#336afc" stroke-width="7"/>
<path d="M659 735L673 722"/>
<path d="M715 729l56-2l14-12l-56 2z" fill="#346dfb" stroke="#346dfb" stroke-width="7"/>
<path d="M715 729L729 717"/>
<path d="M771 727l57 1l13-12l-56-1z" fill="#3670fa" stroke="#3670fa" stroke-width="7"/>
<path d="M771 727L785 715"/>
<path d="M828 728l57 4l13-11l-57-5z" fill="#3672f9" stroke="#3672f9" stroke-width="7"/>
<path d="M828 728L841 716"/>
<path d="M885 732l57 7l13-10l-57-8z" fill="#3773f8" stroke="#3773f8" stroke-width="7"/>
<path d="M885 732L898 721"/>
<path d="M942 739l57 10l14-10l-58-10z" fill="#3874f8" stroke="#3874f8" stroke-width="7"/>
<path d="M942 739L955 729"/>
<path d="M999 749l58 13l13-10l-57-13z" fill="#3875f8" stroke="#3875f8" stroke-width="7"/>
<path d="M999 749L1013 739"/>
<path d="M1057 762l58 16l13-10l-58-16z" fill="#3875f8" stroke="#3875f8" stroke-width="7"/>
<path d="M1057 762L1070 752"/>
<path d="M1115 778l58 18l13-9l-58-19z" fill="#3875f7" stroke="#3875f7" stroke-width="7"/>
<path d="M1115 778L1128 768"/>
<path d="M1173 796l59 21l12-9l-58-21z" fill="#3876f7" stroke="#3876f7" stroke-width="7"/>
<path d="M1173 796L1186 787"/>
<path d="M1232 817l58 23l13-8l-59-24z" fill="#3876f7" stroke="#3876f7" stroke-width="7"/>
<path d="M1232 817L1244 808"/>
<path d="M1290 840l59 25l12-8l-58-25z" fill="#3876f7" stroke="#3876f7" stroke-width="7"/>
<path d="M1290 840L1303 832"/>
<path d="M1349 865l59 28l12-8l-59-28z" fill="#3876f7" stroke="#3876f7" stroke-width="7"/>
<path d="M1349 865L1361 857"/>
<path d="M1408 893l59 30l12-8l-59-30z" fill="#3876f7" stroke="#3876f7" stroke-width="7"/>
<path d="M1408 893L1420 885"/>
<path d="M1467 923l59 31l12-7l-59-32z" fill="#3875f7" stroke="#3875f7" stroke-width="7"/>
<path d="M1467 923L1479 915"/>
<path d="M1526 954l59 34l12-8l-59-33z" fill="#3875f8" stroke="#3875f8" stroke-width="7"/>
<path d="M1526 954L1538 947"/>
<path d="M1585 988l60 35l11-7l-59-36z" fill="#3875f8" stroke="#3875f8" stroke-width="7"/>
<path d="M1585 988L1597 980"/>
<path d="M1645 1023l59 37l11-7l-59-37z" fill="#3875f8" stroke="#3875f8" stroke-width="7"/>
<path d="M1645 1023L1656 1016"/>
<path d="M1704 1060l59 38l12-7l-60-38z" fill="#3875f8" stroke="#3875f8" stroke-width="7"/>
<path d="M1704 1060L1715 1053"/>
<path d="M1763 1098l60 40l11-7l-59-40z" fill="#3874f8" stroke="#3874f8" stroke-width="7"/>
<path d="M1763 1098L1775 1091"/>
<path d="M1823 1138l59 41l11-7l-59-41z" fill="#3874f8" stroke="#3874f8" stroke-width="7"/>
<path d="M1823 1138L1834 1131"/>
<path d="M1882 1179l60 43l11-8l-60-42z" fill="#3774f8" stroke="#3774f8" stroke-width="7"/>
<path d="M1882 1179L1893 1172"/>
<path d="M1942 1222l60 43l10-7l-59-44z" fill="#3773f8" stroke="#3773f8" stroke-width="7"/>
<path d="M1942 1222L1953 1214"/>
<path d="M2002 1265l59 45l11-7l-60-45z" fill="#3773f9" stroke="#3773f9" stroke-width="7"/>
<path d="M2002 1265L2012 1258"/>
<path d="M2061 1310l60 46l10-8l-59-45z" fill="#3772f9" stroke="#3772f9" stroke-width="7"/>
<path d="M2061 1310L2072 1303"/>
<path d="M2121 1356l60 46l10-7l-60-47z" fill="#3671f9" stroke="#3671f9" stroke-width="7"/>
<path d="M2121 1356L2131 1348"/>
<path d="M2181 1402l59 48l10-8l-59-47z" fill="#3670fa" stroke="#3670fa" stroke-width="7"/>
<path d="M2181 1402L2191 1395"/>
<path d="M2240 1450l60 48l10-7l-60-49z" fill="#356efa" stroke="#356efa" stroke-width="7"/>
<path d="M2240 1450L2250 1442M2300 1498L2310 1491"/>
<path d="M372 833l53-24l15-17l-54 24z" fill="#2f62ff" stroke="#2f62ff" stroke-width="7"/>
<path d="M372 833L386 816"/>
<path d="M425 809l55-21l14-15l-54 19z" fill="#2f62ff" stroke="#2f62ff" stroke-width="7"/>
<path d="M480 788l54-16l14-15l-54 16z" fill="#3065fe" stroke="#3065fe" stroke-width="7"/>
<path d="M534 772l55-14l14-14l-55 13z" fill="#3269fc" stroke="#3269fc" stroke-width="7"/>
<path d="M534 772L548 757"/>
<path d="M589 758l56-10l14-13l-56 9z" fill="#336bfb" stroke="#336bfb" stroke-width="7"/>
<path d="M589 758L603 744"/>
<path d="M645 748l56-6l14-13l-56 6z" fill="#346dfb" stroke="#346dfb" stroke-width="7"/>
<path d="M645 748L659 735"/>
<path d="M701 742l56-3l14-12l-56 2z" fill="#356efa" stroke="#356efa" stroke-width="7"/>
<path d="M701 742L715 729"/>
<path d="M757 739l57 0l14-11l-57-1z" fill="#346efb" stroke="#346efb" stroke-width="7"/>
<path d="M757 739L771 727"/>
<path d="M814 739l57 3l14-10l-57-4z" fill="#346dfb" stroke="#346dfb" stroke-width="7"/>
<path d="M814 739L828 728"/>
<path d="M871 742l57 6l14-9l-57-7z" fill="#346cfb" stroke="#346cfb" stroke-width="7"/>
<path d="M871 742L885 732"/>
<path d="M928 748l58 10l13-9l-57-10z" fill="#336bfc" stroke="#336bfc" stroke-width="7"/>
<path d="M928 748L942 739"/>
<path d="M986 758l58 12l13-8l-58-13z" fill="#3269fc" stroke="#3269fc" stroke-width="7"/>
<path d="M986 758L999 749"/>
<path d="M1044 770l58 15l13-7l-58-16z" fill="#3268fd" stroke="#3268fd" stroke-width="7"/>
<path d="M1102 785l58 18l13-7l-58-18z" fill="#3166fd" stroke="#3166fd" stroke-width="7"/>
<path d="M1160 803l59 20l13-6l-59-21z" fill="#3065fe" stroke="#3065fe" stroke-width="7"/>
<path d="M1219 823l58 23l13-6l-58-23z" fill="#3064fe" stroke="#3064fe" stroke-width="7"/>
<path d="M1277 846l59 25l13-6l-59-25z" fill="#3063ff" stroke="#3063ff" stroke-width="7"/>
<path d="M1336 871l59 27l13-5l-59-28z" fill="#2f62ff" stroke="#2f62ff" stroke-width="7"/>
<path d="M1395 898l60 30l12-5l-59-30z" fill="#2f62ff" stroke="#2f62ff" stroke-width="7"/>
<path d="M1455 928l59 31l12-5l-59-31z" fill="#2f62ff" stroke="#2f62ff" stroke-width="7"/>
<path d="M1514 959l59 34l12-5l-59-34z" fill="#2f62ff" stroke="#2f62ff" stroke-width="7"/>
<path d="M1573 993l60 35l12-5l-60-35z" fill="#2f62ff" stroke="#2f62ff" stroke-width="7"/>
<path d="M1633 1028l59 37l12-5l-59-37z" fill="#2f62ff" stroke="#2f62ff" stroke-width="7"/>
<path d="M1692 1065l60 38l11-5l-59-38z" fill="#2f62ff" stroke="#2f62ff" stroke-width="7"/>
<path d="M1752 1103l60 40l11-5l-60-40z" fill="#2f62ff" stroke="#2f62ff" stroke-width="7"/>
<path d="M1812 1143l59 41l11-5l-59-41z" fill="#2f62ff" stroke="#2f62ff" stroke-width="7"/>
<path d="M1871 1184l60 42l11-4l-60-43z" fill="#2f62ff" stroke="#2f62ff" stroke-width="7"/>
<path d="M1931 1226l60 43l11-4l-60-43z" fill="#2f62ff" stroke="#2f62ff" stroke-width="7"/>
<path d="M1991 1269l60 45l10-4l-59-45z" fill="#2f62ff" stroke="#2f62ff" stroke-width="7"/>
<path d="M2051 1314l60 45l10-3l-60-46z" fill="#2f62ff" stroke="#2f62ff" stroke-width="7"/>
<path d="M2111 1359l60 46l10-3l-60-46z" fill="#2f62ff" stroke="#2f62ff" stroke-width="7"/>
<path d="M2171 1405l60 47l9-2l-59-48z" fill="#2f62ff" stroke="#2f62ff" stroke-width="7"/>
<path d="M2231 1452l60 47l9-1l-60-48z" fill="#2f62ff" stroke="#2f62ff" stroke-width="7"/>
<path d="M2231 1452L2240 1450M2291 1499L2300 1498"/>
<path d="M357 851l54-24l14-18l-53 24z" fill="#3064fe" stroke="#3064fe" stroke-width="7"/>
<path d="M357 851L372 833"/>
<path d="M411 827l54-21l15-18l-55 21z" fill="#336afc" stroke="#336afc" stroke-width="7"/>
<path d="M411 827L425 809"/>
<path d="M465 806l55-18l14-16l-54 16z" fill="#356efa" stroke="#356efa" stroke-width="7"/>
<path d="M465 806L480 788"/>
<path d="M520 788l55-15l14-15l-55 14z" fill="#3670fa" stroke="#3670fa" stroke-width="7"/>
<path d="M520 788L534 772"/>
<path d="M575 773l56-11l14-14l-56 10z" fill="#3670f9" stroke="#3670f9" stroke-width="7"/>
<path d="M575 773L589 758"/>
<path d="M631 762l56-7l14-13l-56 6z" fill="#356ffa" stroke="#356ffa" stroke-width="7"/>
<path d="M631 762L645 748"/>
<path d="M687 755l56-5l14-11l-56 3z" fill="#346dfb" stroke="#346dfb" stroke-width="7"/>
<path d="M687 755L701 742"/>
<path d="M743 750l57-1l14-10l-57 0z" fill="#336afc" stroke="#336afc" stroke-width="7"/>
<path d="M743 750L757 739"/>
<path d="M800 749l57 3l14-10l-57-3z" fill="#3166fd" stroke="#3166fd" stroke-width="7"/>
<path d="M857 752l58 5l13-9l-57-6z" fill="#2f62ff" stroke="#2f62ff" stroke-width="7"/>
<path d="M915 757l57 8l14-7l-58-10z" fill="#2f62ff" stroke="#2f62ff" stroke-width="7"/>
<path d="M972 765l58 11l14-6l-58-12z" fill="#2f62ff" stroke="#2f62ff" stroke-width="7"/>
<path d="M1030 776l59 15l13-6l-58-15z" fill="#2f62ff" stroke="#2f62ff" stroke-width="7"/>
<path d="M1089 791l58 17l13-5l-58-18z" fill="#2f62ff" stroke="#2f62ff" stroke-width="7"/>
<path d="M1147 808l59 19l13-4l-59-20z" fill="#2f62ff" stroke="#2f62ff" stroke-width="7"/>
<path d="M1206 827l59 23l12-4l-58-23z" fill="#2f62ff" stroke="#2f62ff" stroke-width="7"/>
<path d="M1265 850l59 24l12-3l-59-25z" fill="#2f62ff" stroke="#2f62ff" stroke-width="7"/>
<path d="M1324 874l59 27l12-3l-59-27z" fill="#2f62ff" stroke="#2f62ff" stroke-width="7"/>
<path d="M1383 901l59 30l13-3l-60-30z" fill="#2f62ff" stroke="#2f62ff" stroke-width="7"/>
<path d="M1442 931l60 31l12-3l-59-31z" fill="#2f62ff" stroke="#2f62ff" stroke-width="7"/>
<path d="M1502 962l59 33l12-2l-59-34z" fill="#2f62ff" stroke="#2f62ff" stroke-width="7"/>
<path d="M1561 995l60 35l12-2l-60-35z" fill="#2f62ff" stroke="#2f62ff" stroke-width="7"/>
<path d="M1621 1030l60 37l11-2l-59-37z" fill="#2f62ff" stroke="#2f62ff" stroke-width="7"/>
<path d="M1681 1067l60 38l11-2l-60-38z" fill="#2f62ff" stroke="#2f62ff" stroke-width="7"/>
<path d="M1741 1105l59 40l12-2l-60-40z" fill="#2f62ff" stroke="#2f62ff" stroke-width="7"/>
<path d="M1800 1145l60 40l11-1l-59-41z" fill="#2f62ff" stroke="#2f62ff" stroke-width="7"/>
<path d="M1860 1185l60 42l11-1l-60-42z" fill="#2f62ff" stroke="#2f62ff" stroke-width="7"/>
<path d="M1920 1227l60 43l11-1l-60-43z" fill="#2f62ff" stroke="#2f62ff" stroke-width="7"/>
<path d="M1980 1270l60 44l11 0l-60-45z" fill="#2f62ff" stroke="#2f62ff" stroke-width="7"/>
<path d="M2040 1314l61 44l10 1l-60-45z" fill="#2f62ff" stroke="#2f62ff" stroke-width="7"/>
<path d="M2101 1358l60 45l10 2l-60-46z" fill="#2f62ff" stroke="#2f62ff" stroke-width="7"/>
<path d="M2161 1403l60 46l10 3l-60-47z" fill="#2f62ff" stroke="#2f62ff" stroke-width="7"/>
<path d="M2221 1449l60 46l10 4l-60-47z" fill="#2f62ff" stroke="#2f62ff" stroke-width="7"/>
<path d="M2221 1449L2231 1452M2281 1495L2291 1499"/>
<path d="M343 871l54-25l14-19l-54 24z" fill="#356ffa" stroke="#356ffa" stroke-width="7"/>
<path d="M343 871L357 851"/>
<path d="M397 846l54-22l14-18l-54 21z" fill="#3874f8" stroke="#3874f8" stroke-width="7"/>
<path d="M397 846L411 827"/>
<path d="M451 824l55-19l14-17l-55 18z" fill="#3977f7" stroke="#3977f7" stroke-width="7"/>
<path d="M451 824L465 806"/>
<path d="M506 805l55-15l14-17l-55 15z" fill="#3977f7" stroke="#3977f7" stroke-width="7"/>
<path d="M506 805L520 788"/>
<path d="M561 790l56-13l14-15l-56 11z" fill="#3875f8" stroke="#3875f8" stroke-width="7"/>
<path d="M561 790L575 773"/>
<path d="M617 777l56-9l14-13l-56 7z" fill="#3672f9" stroke="#3672f9" stroke-width="7"/>
<path d="M617 777L631 762"/>
<path d="M673 768l56-6l14-12l-56 5z" fill="#346cfb" stroke="#346cfb" stroke-width="7"/>
<path d="M673 768L687 755"/>
<path d="M729 762l57-2l14-11l-57 1z" fill="#3165fe" stroke="#3165fe" stroke-width="7"/>
<path d="M786 760l57 0l14-8l-57-3z" fill="#2f62ff" stroke="#2f62ff" stroke-width="7"/>
<path d="M843 760l58 4l14-7l-58-5z" fill="#2f62ff" stroke="#2f62ff" stroke-width="7"/>
<path d="M901 764l58 7l13-6l-57-8z" fill="#2f62ff" stroke="#2f62ff" stroke-width="7"/>
<path d="M959 771l58 10l13-5l-58-11z" fill="#2f62ff" stroke="#2f62ff" stroke-width="7"/>
<path d="M1017 781l58 13l14-3l-59-15z" fill="#2f62ff" stroke="#2f62ff" stroke-width="7"/>
<path d="M1075 794l59 16l13-2l-58-17z" fill="#2f62ff" stroke="#2f62ff" stroke-width="7"/>
<path d="M1134 810l59 19l13-2l-59-19z" fill="#2f62ff" stroke="#2f62ff" stroke-width="7"/>
<path d="M1193 829l59 21l13 0l-59-23z" fill="#2f62ff" stroke="#2f62ff" stroke-width="7"/>
<path d="M1252 850l59 25l13-1l-59-24z" fill="#2f62ff" stroke="#2f62ff" stroke-width="7"/>
<path d="M1311 875l59 26l13 0l-59-27z" fill="#2f62ff" stroke="#2f62ff" stroke-width="7"/>
<path d="M1370 901l60 29l12 1l-59-30z" fill="#2f62ff" stroke="#2f62ff" stroke-width="7"/>
<path d="M1430 930l59 31l13 1l-60-31z" fill="#2f62ff" stroke="#2f62ff" stroke-width="7"/>
<path d="M1489 961l60 33l12 1l-59-33z" fill="#2f62ff" stroke="#2f62ff" stroke-width="7"/>
<path d="M1549 994l60 35l12 1l-60-35z" fill="#2f62ff" stroke="#2f62ff" stroke-width="7"/>
<path d="M1609 1029l60 37l12 1l-60-37z" fill="#2f62ff" stroke="#2f62ff" stroke-width="7"/>
<path d="M1669 1066l60 38l12 1l-60-38z" fill="#2f62ff" stroke="#2f62ff" stroke-width="7"/>
<path d="M1729 1104l60 39l11 2l-59-40z" fill="#2f62ff" stroke="#2f62ff" stroke-width="7"/>
<path d="M1789 1143l60 41l11 1l-60-40z" fill="#2f62ff" stroke="#2f62ff" stroke-width="7"/>
<path d="M1849 1184l60 41l11 2l-60-42z" fill="#2f62ff" stroke="#2f62ff" stroke-width="7"/>
<path d="M1909 1225l61 42l10 3l-60-43z" fill="#2f62ff" stroke="#2f62ff" stroke-width="7"/>
<path d="M1970 1267l60 43l10 4l-60-44z" fill="#2f62ff" stroke="#2f62ff" stroke-width="7"/>
<path d="M2030 1310l60 43l11 5l-61-44z" fill="#2f62ff" stroke="#2f62ff" stroke-width="7"/>
<path d="M2090 1353l61 44l10 6l-60-45z" fill="#2f62ff" stroke="#2f62ff" stroke-width="7"/>
<path d="M2151 1397l60 43l10 9l-60-46z" fill="#2f62ff" stroke="#2f62ff" stroke-width="7"/>
<path d="M2211 1440l61 43l9 12l-60-46z" fill="#2f62ff" stroke="#2f62ff" stroke-width="7"/>
<path d="M2211 1440L2221 1449M2272 1483L2281 1495"/>
<path d="M328 892l54-25l15-21l-54 25z" fill="#3a7af6" stroke="#3a7af6" stroke-width="7"/>
<path d="M328 892L343 871"/>
<path d="M382 867l55-23l14-20l-54 22z" fill="#3c7ef4" stroke="#3c7ef4" stroke-width="7"/>
<path d="M382 867L397 846"/>
<path d="M437 844l55-19l14-20l-55 19z" fill="#3d7ff4" stroke="#3d7ff4" stroke-width="7"/>
<path d="M437 844L451 824"/>
<path d="M492 825l55-17l14-18l-55 15z" fill="#3c7df4" stroke="#3c7df4" stroke-width="7"/>
<path d="M492 825L506 805"/>
<path d="M547 808l55-15l15-16l-56 13z" fill="#3a7af6" stroke="#3a7af6" stroke-width="7"/>
<path d="M547 808L561 790"/>
<path d="M602 793l57-11l14-14l-56 9z" fill="#3773f8" stroke="#3773f8" stroke-width="7"/>
<path d="M602 793L617 777"/>
<path d="M659 782l56-8l14-12l-56 6z" fill="#336bfc" stroke="#336bfc" stroke-width="7"/>
<path d="M659 782L673 768"/>
<path d="M715 774l57-4l14-10l-57 2z" fill="#2f62ff" stroke="#2f62ff" stroke-width="7"/>
<path d="M772 770l57-2l14-8l-57 0z" fill="#2f62ff" stroke="#2f62ff" stroke-width="7"/>
<path d="M829 768l58 2l14-6l-58-4z" fill="#2f62ff" stroke="#2f62ff" stroke-width="7"/>
<path d="M887 770l58 5l14-4l-58-7z" fill="#2f62ff" stroke="#2f62ff" stroke-width="7"/>
<path d="M945 775l58 9l14-3l-58-10z" fill="#2f62ff" stroke="#2f62ff" stroke-width="7"/>
<path d="M1003 784l59 11l13-1l-58-13z" fill="#2f62ff" stroke="#2f62ff" stroke-width="7"/>
<path d="M1062 795l58 15l14 0l-59-16z" fill="#2f62ff" stroke="#2f62ff" stroke-width="7"/>
<path d="M1120 810l59 17l14 2l-59-19z" fill="#2f62ff" stroke="#2f62ff" stroke-width="7"/>
<path d="M1179 827l60 21l13 2l-59-21z" fill="#2f62ff" stroke="#2f62ff" stroke-width="7"/>
<path d="M1239 848l59 23l13 4l-59-25z" fill="#2f62ff" stroke="#2f62ff" stroke-width="7"/>
<path d="M1298 871l60 26l12 4l-59-26z" fill="#2f62ff" stroke="#2f62ff" stroke-width="7"/>
<path d="M1358 897l59 29l13 4l-60-29z" fill="#2f62ff" stroke="#2f62ff" stroke-width="7"/>
<path d="M1417 926l60 31l12 4l-59-31z" fill="#2f62ff" stroke="#2f62ff" stroke-width="7"/>
<path d="M1477 957l60 33l12 4l-60-33z" fill="#2f62ff" stroke="#2f62ff" stroke-width="7"/>
<path d="M1537 990l60 35l12 4l-60-35z" fill="#2f62ff" stroke="#2f62ff" stroke-width="7"/>
<path d="M1597 1025l60 36l12 5l-60-37z" fill="#2f62ff" stroke="#2f62ff" stroke-width="7"/>
<path d="M1657 1061l60 38l12 5l-60-38z" fill="#2f62ff" stroke="#2f62ff" stroke-width="7"/>
<path d="M1717 1099l61 39l11 5l-60-39z" fill="#2f62ff" stroke="#2f62ff" stroke-width="7"/>
<path d="M1778 1138l60 40l11 6l-60-41z" fill="#2f62ff" stroke="#2f62ff" stroke-width="7"/>
<path d="M1838 1178l61 41l10 6l-60-41z" fill="#2f62ff" stroke="#2f62ff" stroke-width="7"/>
<path d="M1899 1219l60 42l11 6l-61-42z" fill="#2f62ff" stroke="#2f62ff" stroke-width="7"/>
<path d="M1959 1261l61 41l10 8l-60-43z" fill="#2f62ff" stroke="#2f62ff" stroke-width="7"/>
<path d="M2020 1302l60 41l10 10l-60-43z" fill="#2f62ff" stroke="#2f62ff" stroke-width="7"/>
<path d="M2080 1343l61 41l10 13l-61-44z" fill="#2f62ff" stroke="#2f62ff" stroke-width="7"/>
<path d="M2141 1384l60 40l10 16l-60-43z" fill="#2f62ff" stroke="#2f62ff" stroke-width="7"/>
<path d="M2201 1424l61 40l10 19l-61-43z" fill="#2f62ff" stroke="#2f62ff" stroke-width="7"/>
<path d="M2201 1424L2211 1440M2262 1464L2272 1483"/>
<path d="M314 915l54-25l14-23l-54 25z" fill="#3f84f2" stroke="#3f84f2" stroke-width="7"/>
<path d="M314 915L328 892"/>
<path d="M368 890l54-23l15-23l-55 23z" fill="#4086f1" stroke="#4086f1" stroke-width="7"/>
<path d="M368 890L382 867"/>
<path d="M422 867l55-22l15-20l-55 19z" fill="#4086f1" stroke="#4086f1" stroke-width="7"/>
<path d="M422 867L437 844"/>
<path d="M477 845l56-18l14-19l-55 17z" fill="#3f83f2" stroke="#3f83f2" stroke-width="7"/>
<path d="M477 845L492 825"/>
<path d="M533 827l55-17l14-17l-55 15z" fill="#3c7df4" stroke="#3c7df4" stroke-width="7"/>
<path d="M533 827L547 808"/>
<path d="M588 810l56-13l15-15l-57 11z" fill="#3875f8" stroke="#3875f8" stroke-width="7"/>
<path d="M588 810L602 793"/>
<path d="M644 797l57-10l14-13l-56 8z" fill="#3267fd" stroke="#3267fd" stroke-width="7"/>
<path d="M701 787l57-8l14-9l-57 4z" fill="#2f62ff" stroke="#2f62ff" stroke-width="7"/>
<path d="M758 779l57-4l14-7l-57 2z" fill="#2f62ff" stroke="#2f62ff" stroke-width="7"/>
<path d="M815 775l58 0l14-5l-58-2z" fill="#2f62ff" stroke="#2f62ff" stroke-width="7"/>
<path d="M873 775l58 2l14-2l-58-5z" fill="#2f62ff" stroke="#2f62ff" stroke-width="7"/>
<path d="M931 777l58 7l14 0l-58-9z" fill="#2f62ff" stroke="#2f62ff" stroke-width="7"/>
<path d="M989 784l59 9l14 2l-59-11z" fill="#2f62ff" stroke="#2f62ff" stroke-width="7"/>
<path d="M1048 793l59 13l13 4l-58-15z" fill="#2f62ff" stroke="#2f62ff" stroke-width="7"/>
<path d="M1107 806l59 16l13 5l-59-17z" fill="#2f62ff" stroke="#2f62ff" stroke-width="7"/>
<path d="M1166 822l59 20l14 6l-60-21z" fill="#2f62ff" stroke="#2f62ff" stroke-width="7"/>
<path d="M1225 842l60 22l13 7l-59-23z" fill="#2f62ff" stroke="#2f62ff" stroke-width="7"/>
<path d="M1285 864l60 26l13 7l-60-26z" fill="#2f62ff" stroke="#2f62ff" stroke-width="7"/>
<path d="M1345 890l60 28l12 8l-59-29z" fill="#2f62ff" stroke="#2f62ff" stroke-width="7"/>
<path d="M1405 918l60 30l12 9l-60-31z" fill="#2f62ff" stroke="#2f62ff" stroke-width="7"/>
<path d="M1465 948l60 33l12 9l-60-33z" fill="#2f62ff" stroke="#2f62ff" stroke-width="7"/>
<path d="M1525 981l60 35l12 9l-60-35z" fill="#2f62ff" stroke="#2f62ff" stroke-width="7"/>
<path d="M1585 1016l60 37l12 8l-60-36z" fill="#2f62ff" stroke="#2f62ff" stroke-width="7"/>
<path d="M1645 1053l61 38l11 8l-60-38z" fill="#2f62ff" stroke="#2f62ff" stroke-width="7"/>
<path d="M1706 1091l60 39l12 8l-61-39z" fill="#2f62ff" stroke="#2f62ff" stroke-width="7"/>
<path d="M1766 1130l61 39l11 9l-60-40z" fill="#2f62ff" stroke="#2f62ff" stroke-width="7"/>
<path d="M1827 1169l61 40l11 10l-61-41z" fill="#2f62ff" stroke="#2f62ff" stroke-width="7"/>
<path d="M1888 1209l60 40l11 12l-60-42z" fill="#2f62ff" stroke="#2f62ff" stroke-width="7"/>
<path d="M1948 1249l61 40l11 13l-61-41z" fill="#2f62ff" stroke="#2f62ff" stroke-width="7"/>
<path d="M2009 1289l61 39l10 15l-60-41z" fill="#2f62ff" stroke="#2f62ff" stroke-width="7"/>
<path d="M2070 1328l61 38l10 18l-61-41z" fill="#2f62ff" stroke="#2f62ff" stroke-width="7"/>
<path d="M2131 1366l61 36l9 22l-60-40z" fill="#3875f8" stroke="#3875f8" stroke-width="7"/>
<path d="M2131 1366L2141 1384"/>
<path d="M2192 1402l61 33l9 29l-61-40z" fill="#458fed" stroke="#458fed" stroke-width="7"/>
<path d="M2192 1402L2201 1424M2253 1435L2262 1464"/>
<path d="M300 940l54-25l14-25l-54 25z" fill="#438dee" stroke="#438dee" stroke-width="7"/>
<path d="M300 940L314 915"/>
<path d="M354 915l54-24l14-24l-54 23z" fill="#448eee" stroke="#448eee" stroke-width="7"/>
<path d="M354 915L368 890"/>
<path d="M408 891l55-23l14-23l-55 22z" fill="#438dee" stroke="#438dee" stroke-width="7"/>
<path d="M408 891L422 867"/>
<path d="M463 868l55-21l15-20l-56 18z" fill="#4188f0" stroke="#4188f0" stroke-width="7"/>
<path d="M463 868L477 845"/>
<path d="M518 847l56-19l14-18l-55 17z" fill="#3e81f3" stroke="#3e81f3" stroke-width="7"/>
<path d="M518 847L533 827"/>
<path d="M574 828l56-16l14-15l-56 13z" fill="#3875f8" stroke="#3875f8" stroke-width="7"/>
<path d="M574 828L588 810"/>
<path d="M630 812l57-13l14-12l-57 10z" fill="#2f63ff" stroke="#2f63ff" stroke-width="7"/>
<path d="M687 799l57-11l14-9l-57 8z" fill="#2f62ff" stroke="#2f62ff" stroke-width="7"/>
<path d="M744 788l57-7l14-6l-57 4z" fill="#2f62ff" stroke="#2f62ff" stroke-width="7"/>
<path d="M801 781l58-4l14-2l-58 0z" fill="#2f62ff" stroke="#2f62ff" stroke-width="7"/>
<path d="M859 777l58 0l14 0l-58-2z" fill="#2f62ff" stroke="#2f62ff" stroke-width="7"/>
<path d="M917 777l58 4l14 3l-58-7z" fill="#2f62ff" stroke="#2f62ff" stroke-width="7"/>
<path d="M975 781l59 8l14 4l-59-9z" fill="#2f62ff" stroke="#2f62ff" stroke-width="7"/>
<path d="M1034 789l59 10l14 7l-59-13z" fill="#2f62ff" stroke="#2f62ff" stroke-width="7"/>
<path d="M1093 799l59 14l14 9l-59-16z" fill="#2f62ff" stroke="#2f62ff" stroke-width="7"/>
<path d="M1152 813l60 18l13 11l-59-20z" fill="#2f62ff" stroke="#2f62ff" stroke-width="7"/>
<path d="M1212 831l60 22l13 11l-60-22z" fill="#2f62ff" stroke="#2f62ff" stroke-width="7"/>
<path d="M1272 853l60 25l13 12l-60-26z" fill="#2f62ff" stroke="#2f62ff" stroke-width="7"/>
<path d="M1332 878l60 27l13 13l-60-28z" fill="#2f62ff" stroke="#2f62ff" stroke-width="7"/>
<path d="M1392 905l60 31l13 12l-60-30z" fill="#2f62ff" stroke="#2f62ff" stroke-width="7"/>
<path d="M1452 936l60 33l13 12l-60-33z" fill="#2f62ff" stroke="#2f62ff" stroke-width="7"/>
<path d="M1512 969l61 35l12 12l-60-35z" fill="#2f62ff" stroke="#2f62ff" stroke-width="7"/>
<path d="M1573 1004l61 36l11 13l-60-37z" fill="#2f62ff" stroke="#2f62ff" stroke-width="7"/>
<path d="M1634 1040l60 38l12 13l-61-38z" fill="#2f62ff" stroke="#2f62ff" stroke-width="7"/>
<path d="M1694 1078l61 39l11 13l-60-39z" fill="#2f62ff" stroke="#2f62ff" stroke-width="7"/>
<path d="M1755 1117l61 39l11 13l-61-39z" fill="#2f62ff" stroke="#2f62ff" stroke-width="7"/>
<path d="M1816 1156l61 39l11 14l-61-40z" fill="#2f62ff" stroke="#2f62ff" stroke-width="7"/>
<path d="M1877 1195l61 39l10 15l-60-40z" fill="#2f62ff" stroke="#2f62ff" stroke-width="7"/>
<path d="M1938 1234l61 37l10 18l-61-40z" fill="#2f62ff" stroke="#2f62ff" stroke-width="7"/>
<path d="M1999 1271l61 36l10 21l-61-39z" fill="#336bfb" stroke="#336bfb" stroke-width="7"/>
<path d="M1999 1271L2009 1289"/>
<path d="M2060 1307l61 33l10 26l-61-38z" fill="#4086f1" stroke="#4086f1" stroke-width="7"/>
<path d="M2060 1307L2070 1328"/>
<path d="M2121 1340l62 31l9 31l-61-36z" fill="#4a9ae9" stroke="#4a9ae9" stroke-width="7"/>
<path d="M2121 1340L2131 1366"/>
<path d="M2183 1371l61 26l9 38l-61-33z" fill="#51a9e3" stroke="#51a9e3" stroke-width="7"/>
<path d="M2183 1371L2192 1402M2244 1397L2253 1435"/>
</g>
<g stroke="#111" stroke-width="0.5" fill="none" stroke-dasharray="0.55 1.15" stroke-linecap="butt">
<path d="M28.6 68.6L225.6 95.8"/>
<path d="M225.6 95.8L279.6 27.8"/>
<path d="M225.6 95.8L220.6 282.2"/>
</g>
<g stroke="#222" stroke-width="0.6" fill="none">
<path d="M75.2 254L73 261.8"/>
<path d="M129.6 264.5L127.5 272.5"/>
<path d="M185.9 275.4L183.9 283.6"/>
<path d="M220.6 282.2L226.3 288.5"/>
<path d="M230.2 265.4L235.7 271.6"/>
<path d="M239.3 249.5L244.7 255.5"/>
<path d="M248 234.4L253.2 240.2"/>
<path d="M256.3 220L261.4 225.7"/>
<path d="M264.2 206.3L269.1 211.9"/>
<path d="M271.7 193.2L276.5 198.6"/>
<path d="M36.7 219.6L28.9 221.3"/>
<path d="M35.2 191.9L27.3 193.6"/>
<path d="M33.7 163.6L25.7 165.2"/>
<path d="M32.1 134.6L24 136.1"/>
<path d="M30.6 104.8L22.4 106.3"/>
<path d="M28.9 74.3L20.6 75.7"/>
</g>
<g font-size="9.2" fill="#111" text-anchor="middle">
<text x="71.6" y="273">5</text>
<text x="126" y="283.5">10</text>
<text x="182.3" y="294.4">15</text>
<text x="231.9" y="298">0</text>
<text x="241.3" y="280.9">5</text>
<text x="250.2" y="264.6">10</text>
<text x="258.7" y="249.1">15</text>
<text x="266.8" y="234.3">20</text>
<text x="274.5" y="220.2">25</text>
<text x="281.8" y="206.8">30</text>
<text x="20.1" y="226.3">0.75</text>
<text x="18.6" y="198.6">0.80</text>
<text x="17.1" y="170.3">0.85</text>
<text x="15.5" y="141.3">0.90</text>
<text x="14" y="111.5">0.95</text>
<text x="12.3" y="81">1.00</text>
</g>
<g font-size="9.8" fill="#111" text-anchor="middle">
<text transform="translate(121.7 296.5) rotate(10.6)">maximum wind speed</text>
<text transform="translate(270.3 257.4) rotate(-59.3)">Lag (days)</text>
<text font-size="9.5" transform="translate(1.0 154.7) rotate(86.8)">RR</text>
</g>
<text x="35.2" y="36.2" font-size="23.8" fill="#111">(a)</text>
<g stroke="none">
<rect x="327.3" y="18.3" width="294.9" height="251.9" fill="#fff"/>
<path d="M327.3 270.2L329.5 270.2L331.8 270.2L334 270.2L336.2 270.2L338.5 270.2L340.7 270.2L342.9 270.2L345.2 270.2L347.4 270.2L348.9 270.2L347.4 268.2L347.3 268.1L345.8 266L345.2 265L344.5 263.9L343.2 261.8L342.9 261.4L342 259.7L340.9 257.6L340.7 257.2L339.9 255.5L339 253.4L338.5 252.2L338.1 251.3L337.4 249.2L336.7 247.1L336.2 245.7L336 245L335.5 242.9L334.9 240.8L334.5 238.7L334.1 236.6L334 236.3L333.7 234.5L333.4 232.4L333.1 230.3L332.9 228.2L332.7 226.1L332.6 224L332.5 221.9L332.4 219.8L332.4 217.7L332.4 215.6L332.4 213.5L332.5 211.4L332.6 209.3L332.7 207.2L332.9 205.1L333.1 203L333.3 200.9L333.5 198.8L333.7 196.7L333.9 194.6L334 194L334.2 192.5L334.4 190.4L334.7 188.3L334.9 186.2L335.2 184.1L335.4 182L335.6 179.9L335.8 177.8L335.9 175.7L336.1 173.6L336.2 171.5L336.2 170.4L336.3 169.4L336.4 167.3L336.4 165.2L336.4 163.1L336.4 161L336.4 158.9L336.4 156.8L336.3 154.7L336.2 153.5L336.2 152.6L336.1 150.5L335.9 148.4L335.8 146.3L335.6 144.2L335.4 142.2L335.2 140.1L335 138L334.7 135.9L334.4 133.8L334.1 131.7L334 131.1L333.8 129.6L333.4 127.5L333 125.4L332.6 123.3L332.2 121.2L331.8 119.1L331.8 119L331.3 117L330.9 114.9L330.4 112.8L329.9 110.7L329.5 109.2L329.4 108.6L328.9 106.5L328.3 104.4L327.8 102.3L327.3 100.4L327.3 102.3L327.3 104.4L327.3 106.5L327.3 108.6L327.3 110.7L327.3 112.8L327.3 114.9L327.3 117L327.3 119.1L327.3 121.2L327.3 123.3L327.3 125.4L327.3 127.5L327.3 129.6L327.3 131.7L327.3 133.8L327.3 135.9L327.3 138L327.3 140.1L327.3 142.2L327.3 144.2L327.3 146.3L327.3 148.4L327.3 150.5L327.3 152.6L327.3 154.7L327.3 156.8L327.3 158.9L327.3 161L327.3 163.1L327.3 165.2L327.3 167.3L327.3 169.4L327.3 171.5L327.3 173.6L327.3 175.7L327.3 177.8L327.3 179.9L327.3 182L327.3 184.1L327.3 186.2L327.3 188.3L327.3 190.4L327.3 192.5L327.3 194.6L327.3 196.7L327.3 198.8L327.3 200.9L327.3 203L327.3 205.1L327.3 207.2L327.3 209.3L327.3 211.4L327.3 213.5L327.3 215.6L327.3 217.7L327.3 219.8L327.3 221.9L327.3 224L327.3 226.1L327.3 228.2L327.3 230.3L327.3 232.4L327.3 234.5L327.3 236.6L327.3 238.7L327.3 240.8L327.3 242.9L327.3 245L327.3 247.1L327.3 249.2L327.3 251.3L327.3 253.4L327.3 255.5L327.3 257.6L327.3 259.7L327.3 261.8L327.3 263.9L327.3 266L327.3 268.1L327.3 270.2zM532.5 268.1L532.8 268.2L535.1 269.3L537 270.2L537.3 270.2L539.5 270.2L541.8 270.2L544 270.2L546.2 270.2L548.5 270.2L550.7 270.2L552.9 270.2L555.2 270.2L557.4 270.2L559.6 270.2L561.9 270.2L564.1 270.2L566.3 270.2L568.6 270.2L570.8 270.2L573.1 270.2L575.3 270.2L577.5 270.2L579.8 270.2L582 270.2L584.2 270.2L586.5 270.2L588.7 270.2L590.9 270.2L593.2 270.2L595.4 270.2L597.6 270.2L599.9 270.2L602.1 270.2L604.3 270.2L606.6 270.2L608.8 270.2L611 270.2L613.3 270.2L615.5 270.2L617.7 270.2L620 270.2L622.2 270.2L622.2 268.1L622.2 266L622.2 263.9L622.2 261.8L622.2 259.7L622.2 257.6L622.2 255.5L622.2 253.4L622.2 251.3L622.2 249.2L622.2 247.1L622.2 245L622.2 242.9L622.2 240.8L622.2 238.7L622.2 236.6L622.2 234.5L622.2 232.4L622.2 230.3L622.2 228.2L622.2 226.1L622.2 224L622.2 221.9L622.2 219.8L622.2 217.7L622.2 215.6L622.2 213.5L622.2 211.4L622.2 209.3L622.2 207.2L622.2 205.1L622.2 203L622.2 200.9L622.2 198.8L622.2 196.7L622.2 194.6L622.2 192.5L622.2 190.4L622.2 188.3L622.2 186.2L622.2 184.1L622.2 182L622.2 179.9L622.2 177.8L622.2 175.7L622.2 173.6L622.2 171.5L622.2 169.4L622.2 167.3L622.2 165.2L622.2 163.1L622.2 161L622.2 158.9L622.2 156.8L622.2 154.7L622.2 152.6L622.2 150.5L622.2 148.4L622.2 146.3L622.2 144.2L622.2 142.2L622.2 140.1L622.2 138L622.2 135.9L622.2 133.8L622.2 131.7L622.2 129.6L622.2 127.5L622.2 125.4L622.2 123.3L622.2 121.2L622.2 119.1L622.2 117L622.2 114.9L622.2 112.8L622.2 110.7L622.2 108.6L622.2 106.5L622.2 104.4L622.2 102.3L622.2 100.2L622.2 98.1L622.2 96L622.2 93.9L622.2 91.8L622.2 89.7L622.2 87.6L622.2 85.5L622.2 83.4L622.2 81.3L622.2 79.2L622.2 77.1L622.2 75L622.2 72.9L622.2 70.8L622.2 68.7L622.2 66.6L622.2 64.5L622.2 62.4L622.2 60.3L622.2 58.2L622.2 56.1L622.2 54L622.2 51.9L622.2 49.8L622.2 47.7L622.2 45.6L622.2 43.5L622.2 41.4L622.2 39.3L622.2 37.2L622.2 35.1L622.2 33L622.2 30.9L622.2 28.8L622.2 26.7L622.2 24.6L622.2 22.5L622.2 20.4L622.2 18.3L620 18.3L617.7 18.3L615.5 18.3L613.3 18.3L611 18.3L608.8 18.3L606.6 18.3L604.3 18.3L602.1 18.3L599.9 18.3L597.6 18.3L595.4 18.3L593.2 18.3L590.9 18.3L588.7 18.3L586.5 18.3L584.2 18.3L582 18.3L579.8 18.3L577.5 18.3L575.3 18.3L573.1 18.3L570.8 18.3L568.6 18.3L566.3 18.3L564.1 18.3L561.9 18.3L559.6 18.3L557.4 18.3L555.2 18.3L552.9 18.3L550.7 18.3L548.5 18.3L546.2 18.3L544 18.3L541.8 18.3L539.5 18.3L537.3 18.3L535.1 18.3L532.8 18.3L530.6 18.3L528.4 18.3L526.1 18.3L523.9 18.3L521.7 18.3L519.4 18.3L517.2 18.3L515 18.3L512.7 18.3L510.5 18.3L508.3 18.3L506 18.3L503.8 18.3L501.6 18.3L499.3 18.3L497.1 18.3L494.9 18.3L492.6 18.3L490.4 18.3L488.2 18.3L485.9 18.3L483.7 18.3L481.5 18.3L479.2 18.3L477 18.3L474.8 18.3L472.5 18.3L470.3 18.3L468 18.3L465.8 18.3L463.6 18.3L461.3 18.3L459.1 18.3L456.9 18.3L454.6 18.3L452.4 18.3L450.2 18.3L447.9 18.3L445.7 18.3L443.5 18.3L441.2 18.3L439 18.3L436.8 18.3L434.5 18.3L432.6 18.3L433.2 20.4L433.9 22.5L434.5 24.4L434.6 24.6L435.3 26.7L436 28.8L436.8 30.9L436.8 30.9L437.5 33L438.4 35.1L439 36.6L439.2 37.2L440.1 39.3L441.1 41.4L441.2 41.7L442.1 43.5L443.1 45.6L443.5 46.3L444.2 47.7L445.4 49.8L445.7 50.4L446.6 51.9L447.8 54L447.9 54.2L449.1 56.1L450.2 57.7L450.5 58.2L451.9 60.3L452.4 60.9L453.5 62.4L454.6 64L455 64.5L456.7 66.6L456.9 66.8L458.5 68.7L459.1 69.4L460.3 70.8L461.3 71.9L462.2 72.9L463.6 74.3L464.3 75L465.8 76.5L466.5 77.1L468 78.5L468.7 79.2L470.3 80.5L471.1 81.3L472.5 82.5L473.6 83.4L474.8 84.3L476.2 85.5L477 86.1L478.9 87.6L479.2 87.8L481.5 89.5L481.7 89.7L483.7 91.1L484.6 91.8L485.9 92.7L487.5 93.9L488.2 94.3L490.4 95.9L490.5 96L492.6 97.5L493.5 98.1L494.9 99L496.5 100.2L497.1 100.6L499.3 102.1L499.6 102.3L501.6 103.7L502.6 104.4L503.8 105.2L505.6 106.5L506 106.8L508.3 108.4L508.5 108.6L510.5 110L511.4 110.7L512.7 111.7L514.1 112.8L515 113.4L516.8 114.9L517.2 115.2L519.3 117L519.4 117L521.7 119L521.8 119.1L523.9 121L524.1 121.2L526.1 123.2L526.2 123.3L528.2 125.4L528.4 125.6L530 127.5L530.6 128.2L531.6 129.6L532.8 131.2L533.1 131.7L534.5 133.8L535.1 134.8L535.6 135.9L536.6 138L537.3 139.6L537.5 140.1L538.2 142.2L538.8 144.2L539.2 146.3L539.4 148.4L539.5 150.5L539.5 152.6L539.3 154.7L539 156.8L538.6 158.9L538.1 161L537.4 163.1L537.3 163.4L536.6 165.2L535.7 167.3L535.1 168.8L534.8 169.4L533.7 171.5L532.8 173.2L532.6 173.6L531.4 175.7L530.6 177.1L530.2 177.8L528.9 179.9L528.4 180.7L527.5 182L526.2 184.1L526.1 184.2L524.7 186.2L523.9 187.5L523.3 188.3L521.9 190.4L521.7 190.7L520.4 192.5L519.4 194L519 194.6L517.6 196.7L517.2 197.4L516.3 198.8L515 200.9L514.9 200.9L513.7 203L512.7 204.6L512.4 205.1L511.3 207.2L510.5 208.8L510.2 209.3L509.2 211.4L508.3 213.5L508.2 213.5L507.4 215.6L506.6 217.7L506 219.4L505.9 219.8L505.3 221.9L504.8 224L504.3 226.1L504.1 228.2L503.9 230.3L503.8 232.4L503.9 234.5L504.1 236.6L504.4 238.7L505 240.8L505.6 242.9L506 243.8L506.5 245L507.5 247.1L508.3 248.3L508.8 249.2L510.3 251.3L510.5 251.6L512 253.4L512.7 254.2L513.9 255.5L515 256.5L516.2 257.6L517.2 258.5L518.7 259.7L519.4 260.3L521.5 261.8L521.7 261.9L523.9 263.3L524.8 263.9L526.1 264.7L528.4 266L528.4 266L530.6 267.1L532.5 268.1z" fill="#ededff" fill-rule="evenodd" stroke="#ededff" stroke-width="0.3"/>
<path d="M572.9 268.1L573.1 268.1L575.3 269.2L577.5 270.2L577.6 270.2L579.8 270.2L582 270.2L584.2 270.2L586.5 270.2L588.7 270.2L590.9 270.2L593.2 270.2L595.4 270.2L597.6 270.2L599.9 270.2L602.1 270.2L604.3 270.2L606.6 270.2L608.8 270.2L611 270.2L613.3 270.2L615.5 270.2L617.7 270.2L620 270.2L622.2 270.2L622.2 268.1L622.2 266L622.2 263.9L622.2 261.8L622.2 259.7L622.2 257.6L622.2 255.5L622.2 253.4L622.2 251.3L622.2 249.2L622.2 247.1L622.2 245L622.2 242.9L622.2 240.8L622.2 238.7L622.2 236.6L622.2 234.5L622.2 232.4L622.2 230.3L622.2 228.2L622.2 226.1L622.2 224L622.2 221.9L622.2 219.8L622.2 217.7L622.2 215.6L622.2 213.5L622.2 211.4L622.2 209.3L622.2 207.2L622.2 205.1L622.2 203L622.2 200.9L622.2 198.8L622.2 196.7L622.2 194.6L622.2 192.5L622.2 190.4L622.2 188.3L622.2 186.2L622.2 184.1L622.2 182L622.2 179.9L622.2 177.8L622.2 175.7L622.2 173.6L622.2 171.5L622.2 169.4L622.2 167.3L622.2 165.2L622.2 163.1L622.2 161L622.2 158.9L622.2 156.8L622.2 154.7L622.2 152.6L622.2 150.5L622.2 148.4L622.2 146.3L622.2 144.2L622.2 142.2L622.2 140.1L622.2 138L622.2 135.9L622.2 133.8L622.2 131.7L622.2 129.6L622.2 127.5L622.2 125.4L622.2 123.3L622.2 121.2L622.2 119.1L622.2 117L622.2 114.9L622.2 112.8L622.2 110.7L622.2 108.6L622.2 106.5L622.2 104.4L622.2 102.3L622.2 100.2L622.2 98.1L622.2 96L622.2 93.9L622.2 91.8L622.2 89.7L622.2 87.6L622.2 85.5L622.2 83.4L622.2 81.3L622.2 79.2L622.2 77.1L622.2 75L622.2 72.9L622.2 70.8L622.2 68.7L622.2 66.6L622.2 64.5L622.2 62.4L622.2 60.3L622.2 58.2L622.2 56.1L622.2 54L622.2 51.9L622.2 49.8L622.2 47.7L622.2 45.6L622.2 43.5L622.2 41.4L622.2 39.3L622.2 37.2L622.2 35.1L622.2 33L622.2 30.9L622.2 28.8L622.2 26.7L622.2 24.6L622.2 22.5L622.2 20.4L622.2 18.3L620 18.3L617.7 18.3L615.5 18.3L613.3 18.3L611 18.3L608.8 18.3L606.6 18.3L604.3 18.3L602.1 18.3L599.9 18.3L597.6 18.3L595.4 18.3L593.2 18.3L590.9 18.3L588.7 18.3L586.5 18.3L584.2 18.3L582 18.3L579.8 18.3L577.5 18.3L575.3 18.3L573.1 18.3L570.8 18.3L568.6 18.3L566.3 18.3L564.1 18.3L561.9 18.3L559.6 18.3L557.4 18.3L555.2 18.3L552.9 18.3L550.7 18.3L548.5 18.3L546.2 18.3L544 18.3L541.8 18.3L539.5 18.3L537.3 18.3L535.1 18.3L532.8 18.3L530.6 18.3L528.4 18.3L526.1 18.3L523.9 18.3L521.7 18.3L519.4 18.3L517.2 18.3L515 18.3L512.7 18.3L510.5 18.3L508.3 18.3L506 18.3L503.8 18.3L501.6 18.3L499.3 18.3L497.1 18.3L494.9 18.3L492.6 18.3L490.4 18.3L488.2 18.3L485.9 18.3L483.7 18.3L481.5 18.3L479.2 18.3L477 18.3L474.8 18.3L472.5 18.3L470.3 18.3L468 18.3L465.8 18.3L463.6 18.3L461.3 18.3L459.1 18.3L456.9 18.3L454.6 18.3L454.5 18.3L454.6 18.7L455.4 20.4L456.4 22.5L456.9 23.4L457.5 24.6L458.6 26.7L459.1 27.7L459.7 28.8L460.9 30.9L461.3 31.7L462.1 33L463.4 35.1L463.6 35.3L464.8 37.2L465.8 38.8L466.2 39.3L467.6 41.4L468 42L469.1 43.5L470.3 45.1L470.7 45.6L472.3 47.7L472.5 48L473.9 49.8L474.8 50.8L475.7 51.9L477 53.4L477.5 54L479.2 56L479.3 56.1L481.2 58.2L481.5 58.4L483.2 60.3L483.7 60.8L485.3 62.4L485.9 63L487.5 64.5L488.2 65.1L489.7 66.6L490.4 67.2L492.1 68.7L492.6 69.2L494.5 70.8L494.9 71.1L497.1 72.9L497.1 72.9L499.3 74.7L499.7 75L501.6 76.4L502.4 77.1L503.8 78.1L505.3 79.2L506 79.7L508.2 81.3L508.3 81.3L510.5 82.9L511.2 83.4L512.7 84.4L514.3 85.5L515 85.9L517.2 87.4L517.5 87.6L519.4 88.8L520.7 89.7L521.7 90.3L523.9 91.7L524 91.8L526.1 93.2L527.3 93.9L528.4 94.6L530.5 96L530.6 96L532.8 97.5L533.8 98.1L535.1 98.9L537.1 100.2L537.3 100.3L539.5 101.7L540.4 102.3L541.8 103.2L543.7 104.4L544 104.6L546.2 106L547 106.5L548.5 107.5L550.2 108.6L550.7 108.9L552.9 110.3L553.5 110.7L555.2 111.8L556.7 112.8L557.4 113.3L559.6 114.7L559.8 114.9L561.9 116.3L562.8 117L564.1 117.9L565.6 119.1L566.3 119.6L568.3 121.2L568.6 121.4L570.8 123.2L570.9 123.3L573.1 125.2L573.2 125.4L575.3 127.4L575.4 127.5L577.3 129.6L577.5 129.8L579.1 131.7L579.8 132.6L580.6 133.8L581.9 135.9L582 136.1L583 138L583.9 140.1L584.2 140.9L584.7 142.2L585.3 144.2L585.8 146.3L586.1 148.4L586.2 150.5L586.2 152.6L586.1 154.7L585.8 156.8L585.4 158.9L584.8 161L584.2 162.5L584 163.1L583.1 165.2L582.1 167.3L582 167.5L580.9 169.4L579.8 171.4L579.7 171.5L578.3 173.6L577.5 174.8L576.8 175.7L575.3 177.8L575.3 177.8L573.7 179.9L573 180.7L572 182L570.8 183.4L570.2 184.1L568.6 186.1L568.4 186.2L566.7 188.3L566.3 188.7L564.9 190.4L564.1 191.3L563.1 192.5L561.9 194L561.4 194.6L559.7 196.7L559.6 196.7L558 198.8L557.4 199.6L556.4 200.9L555.2 202.6L554.9 203L553.4 205.1L552.9 205.8L552 207.2L550.7 209.3L550.7 209.3L549.4 211.4L548.5 213.2L548.3 213.5L547.2 215.6L546.3 217.7L546.2 217.7L545.4 219.8L544.6 221.9L544 224L544 224L543.5 226.1L543.1 228.2L542.8 230.3L542.7 232.4L542.7 234.5L542.9 236.6L543.2 238.7L543.7 240.8L544 241.6L544.4 242.9L545.3 245L546.2 246.8L546.4 247.1L547.8 249.2L548.5 250.1L549.4 251.3L550.7 252.9L551.2 253.4L552.9 255.1L553.3 255.5L555.2 257.1L555.7 257.6L557.4 258.9L558.4 259.7L559.6 260.5L561.5 261.8L561.9 262L564.1 263.4L564.9 263.9L566.3 264.7L568.6 265.9L568.7 266L570.8 267.1L572.9 268.1z" fill="#dbdbff" fill-rule="evenodd" stroke="#dbdbff" stroke-width="0.3"/>
<path d="M611.7 268.1L613.3 268.5L615.5 269L617.7 269.4L620 269.8L622.2 270.1L622.2 268.1L622.2 266L622.2 263.9L622.2 261.8L622.2 259.7L622.2 257.6L622.2 255.5L622.2 253.4L622.2 251.3L622.2 249.2L622.2 247.1L622.2 245L622.2 242.9L622.2 240.8L622.2 238.7L622.2 236.6L622.2 234.5L622.2 232.4L622.2 230.3L622.2 228.2L622.2 226.1L622.2 224L622.2 221.9L622.2 219.8L622.2 217.7L622.2 215.6L622.2 213.5L622.2 211.4L622.2 209.3L622.2 207.2L622.2 205.1L622.2 203L622.2 200.9L622.2 198.8L622.2 196.7L622.2 194.6L622.2 192.5L622.2 190.4L622.2 188.3L622.2 186.2L622.2 184.1L622.2 182L622.2 179.9L622.2 178.1L620 179.8L619.8 179.9L617.7 181.5L617 182L615.5 183.2L614.3 184.1L613.3 185L611.7 186.2L611 186.8L609.2 188.3L608.8 188.7L606.7 190.4L606.6 190.5L604.3 192.5L604.3 192.5L602.1 194.5L602 194.6L599.9 196.6L599.7 196.7L597.6 198.8L597.6 198.8L595.4 200.9L595.4 201L593.4 203L593.2 203.3L591.4 205.1L590.9 205.7L589.5 207.2L588.7 208.2L587.8 209.3L586.5 211L586.1 211.4L584.6 213.5L584.2 214L583.1 215.6L582 217.4L581.8 217.7L580.6 219.8L579.8 221.4L579.5 221.9L578.6 224L577.8 226.1L577.5 227.1L577.2 228.2L576.7 230.3L576.5 232.4L576.4 234.5L576.5 236.6L576.8 238.7L577.4 240.8L577.5 241.3L578.1 242.9L579 245L579.8 246.3L580.2 247.1L581.6 249.2L582 249.7L583.3 251.3L584.2 252.3L585.2 253.4L586.5 254.6L587.4 255.5L588.7 256.6L589.9 257.6L590.9 258.4L592.8 259.7L593.2 260L595.4 261.4L596.1 261.8L597.6 262.6L599.9 263.8L600.1 263.9L602.1 264.8L604.3 265.7L605.1 266L606.6 266.5L608.8 267.2L611 267.9L611.7 268.1zM620.7 133.8L622.2 135.4L622.2 133.8L622.2 131.7L622.2 129.6L622.2 127.5L622.2 125.4L622.2 123.3L622.2 121.2L622.2 119.1L622.2 117L622.2 114.9L622.2 112.8L622.2 110.7L622.2 108.6L622.2 106.5L622.2 104.4L622.2 102.3L622.2 100.2L622.2 98.1L622.2 96L622.2 93.9L622.2 91.8L622.2 89.7L622.2 87.6L622.2 85.5L622.2 83.4L622.2 81.3L622.2 79.2L622.2 77.1L622.2 75L622.2 72.9L622.2 70.8L622.2 68.7L622.2 66.6L622.2 64.5L622.2 62.4L622.2 60.3L622.2 58.2L622.2 56.1L622.2 54L622.2 51.9L622.2 49.8L622.2 47.7L622.2 45.6L622.2 43.5L622.2 41.4L622.2 39.3L622.2 37.2L622.2 35.1L622.2 33L622.2 30.9L622.2 28.8L622.2 26.7L622.2 24.6L622.2 22.5L622.2 20.4L622.2 18.3L620 18.3L617.7 18.3L615.5 18.3L613.3 18.3L611 18.3L608.8 18.3L606.6 18.3L604.3 18.3L602.1 18.3L599.9 18.3L597.6 18.3L595.4 18.3L593.2 18.3L590.9 18.3L588.7 18.3L586.5 18.3L584.2 18.3L582 18.3L579.8 18.3L577.5 18.3L575.3 18.3L573.1 18.3L570.8 18.3L568.6 18.3L566.3 18.3L564.1 18.3L561.9 18.3L559.6 18.3L557.4 18.3L555.2 18.3L552.9 18.3L550.7 18.3L548.5 18.3L546.2 18.3L544 18.3L541.8 18.3L539.5 18.3L537.3 18.3L535.1 18.3L532.8 18.3L530.6 18.3L528.4 18.3L526.1 18.3L523.9 18.3L521.7 18.3L519.4 18.3L517.2 18.3L515 18.3L512.7 18.3L510.5 18.3L508.3 18.3L506 18.3L503.8 18.3L501.6 18.3L499.3 18.3L497.1 18.3L494.9 18.3L492.6 18.3L490.4 18.3L488.2 18.3L485.9 18.3L483.7 18.3L481.5 18.3L479.2 18.3L477 18.3L474.8 18.3L472.5 18.3L472 18.3L472.5 19.2L473.3 20.4L474.6 22.5L474.8 22.8L476 24.6L477 26.1L477.4 26.7L478.9 28.8L479.2 29.3L480.4 30.9L481.5 32.3L482 33L483.7 35.1L483.7 35.1L485.4 37.2L485.9 37.8L487.1 39.3L488.2 40.5L488.9 41.4L490.4 43.1L490.8 43.5L492.6 45.6L492.6 45.6L494.5 47.7L494.9 48.1L496.4 49.8L497.1 50.6L498.3 51.9L499.3 52.9L500.4 54L501.6 55.2L502.5 56.1L503.8 57.3L504.8 58.2L506 59.3L507.2 60.3L508.3 61.2L509.7 62.4L510.5 63L512.4 64.5L512.7 64.7L515 66.5L515.1 66.6L517.2 68.1L517.9 68.7L519.4 69.8L520.8 70.8L521.7 71.4L523.8 72.9L523.9 73L526.1 74.5L526.8 75L528.4 76L530.1 77.1L530.6 77.4L532.8 78.8L533.4 79.2L535.1 80.2L536.8 81.3L537.3 81.6L539.5 83L540.2 83.4L541.8 84.3L543.8 85.5L544 85.6L546.2 86.9L547.4 87.6L548.5 88.2L550.7 89.4L551.2 89.7L552.9 90.6L555.1 91.8L555.2 91.8L557.4 93L559.2 93.9L559.6 94.1L561.9 95.2L563.4 96L564.1 96.3L566.3 97.4L567.6 98.1L568.6 98.5L570.8 99.6L572 100.2L573.1 100.7L575.3 101.7L576.5 102.3L577.5 102.8L579.8 103.8L580.9 104.4L582 104.9L584.2 106L585.2 106.5L586.5 107.1L588.7 108.3L589.2 108.6L590.9 109.5L592.9 110.7L593.2 110.8L595.4 112.2L596.3 112.8L597.6 113.6L599.5 114.9L599.9 115.1L602.1 116.7L602.5 117L604.3 118.4L605.2 119.1L606.6 120.2L607.8 121.2L608.8 122.1L610.2 123.3L611 124.1L612.4 125.4L613.3 126.2L614.6 127.5L615.5 128.4L616.7 129.6L617.7 130.7L618.7 131.7L620 133L620.7 133.8z" fill="#c8c8ff" fill-rule="evenodd" stroke="#c8c8ff" stroke-width="0.3"/>
<path d="M622 257.6L622.2 257.7L622.2 257.6L622.2 255.5L622.2 253.4L622.2 251.3L622.2 249.2L622.2 247.1L622.2 245L622.2 242.9L622.2 240.8L622.2 238.7L622.2 236.6L622.2 234.5L622.2 232.4L622.2 230.3L622.2 228.2L622.2 226.1L622.2 224L622.2 221.9L622.2 219.8L622.2 217.7L622.2 215.6L622.2 213.5L622.2 211.4L622.2 209.3L622.2 208.3L621 209.3L620 210.2L618.7 211.4L617.7 212.4L616.6 213.5L615.5 214.8L614.8 215.6L613.3 217.5L613.1 217.7L611.7 219.8L611 220.9L610.4 221.9L609.4 224L608.8 225.4L608.5 226.1L607.8 228.2L607.3 230.3L607 232.4L606.9 234.5L606.9 236.6L607.2 238.7L607.7 240.8L608.4 242.9L608.8 243.8L609.3 245L610.5 247.1L611 247.9L612 249.2L613.3 250.7L613.8 251.3L615.5 252.9L616 253.4L617.7 254.8L618.7 255.5L620 256.4L622 257.6zM619.5 112.8L620 113.1L622.2 114.6L622.2 112.8L622.2 110.7L622.2 108.6L622.2 106.5L622.2 104.4L622.2 102.3L622.2 100.2L622.2 98.1L622.2 96L622.2 93.9L622.2 91.8L622.2 89.7L622.2 87.6L622.2 85.5L622.2 83.4L622.2 81.3L622.2 79.2L622.2 77.1L622.2 75L622.2 72.9L622.2 70.8L622.2 68.7L622.2 66.6L622.2 64.5L622.2 62.4L622.2 60.3L622.2 58.2L622.2 56.1L622.2 54L622.2 51.9L622.2 49.8L622.2 47.7L622.2 45.6L622.2 43.5L622.2 41.4L622.2 39.3L622.2 37.2L622.2 35.1L622.2 33L622.2 30.9L622.2 28.8L622.2 26.7L622.2 24.6L622.2 22.5L622.2 20.4L622.2 18.3L620 18.3L617.7 18.3L615.5 18.3L613.3 18.3L611 18.3L608.8 18.3L606.6 18.3L604.3 18.3L602.1 18.3L599.9 18.3L597.6 18.3L595.4 18.3L593.2 18.3L590.9 18.3L588.7 18.3L586.5 18.3L584.2 18.3L582 18.3L579.8 18.3L577.5 18.3L575.3 18.3L573.1 18.3L570.8 18.3L568.6 18.3L566.3 18.3L564.1 18.3L561.9 18.3L559.6 18.3L557.4 18.3L555.2 18.3L552.9 18.3L550.7 18.3L548.5 18.3L546.2 18.3L544 18.3L541.8 18.3L539.5 18.3L537.3 18.3L535.1 18.3L532.8 18.3L530.6 18.3L528.4 18.3L526.1 18.3L523.9 18.3L521.7 18.3L519.4 18.3L517.2 18.3L515 18.3L512.7 18.3L510.5 18.3L508.3 18.3L506 18.3L503.8 18.3L501.6 18.3L499.3 18.3L497.1 18.3L494.9 18.3L492.6 18.3L490.4 18.3L488.2 18.3L487.3 18.3L488.2 19.5L488.8 20.4L490.4 22.4L490.4 22.5L492.1 24.6L492.6 25.2L493.8 26.7L494.9 27.9L495.6 28.8L497.1 30.5L497.4 30.9L499.3 33L499.3 33L501.2 35.1L501.6 35.5L503.1 37.2L503.8 38L505 39.3L506 40.5L506.9 41.4L508.3 42.9L508.8 43.5L510.5 45.4L510.7 45.6L512.6 47.7L512.7 47.8L514.7 49.8L515 50L516.9 51.9L517.2 52.1L519.3 54L519.4 54.1L521.7 56L521.8 56.1L523.9 57.8L524.4 58.2L526.1 59.5L527.2 60.3L528.4 61.2L530.1 62.4L530.6 62.7L532.8 64.3L533.2 64.5L535.1 65.7L536.4 66.6L537.3 67.2L539.5 68.5L539.8 68.7L541.8 69.9L543.2 70.8L544 71.2L546.2 72.6L546.8 72.9L548.5 73.9L550.5 75L550.7 75.1L552.9 76.4L554.2 77.1L555.2 77.6L557.4 78.9L558 79.2L559.6 80.1L561.8 81.3L561.9 81.3L564.1 82.5L565.7 83.4L566.3 83.7L568.6 84.9L569.6 85.5L570.8 86.1L573.1 87.3L573.5 87.6L575.3 88.5L577.5 89.7L577.5 89.7L579.8 90.8L581.6 91.8L582 92L584.2 93.1L585.8 93.9L586.5 94.2L588.7 95.3L590 96L590.9 96.4L593.2 97.6L594.1 98.1L595.4 98.7L597.6 99.9L598.1 100.2L599.9 101.1L602.1 102.3L602.1 102.3L604.3 103.5L605.9 104.4L606.6 104.8L608.8 106.1L609.5 106.5L611 107.4L613 108.6L613.3 108.8L615.5 110.2L616.3 110.7L617.7 111.6L619.5 112.8z" fill="#b6b6ff" fill-rule="evenodd" stroke="#b6b6ff" stroke-width="0.3"/>
<path d="M621.8 102.3L622.2 102.5L622.2 102.3L622.2 100.2L622.2 98.1L622.2 96L622.2 93.9L622.2 91.8L622.2 89.7L622.2 87.6L622.2 85.5L622.2 83.4L622.2 81.3L622.2 79.2L622.2 77.1L622.2 75L622.2 72.9L622.2 70.8L622.2 68.7L622.2 66.6L622.2 64.5L622.2 62.4L622.2 60.3L622.2 58.2L622.2 56.1L622.2 54L622.2 51.9L622.2 49.8L622.2 47.7L622.2 45.6L622.2 43.5L622.2 41.4L622.2 39.3L622.2 37.2L622.2 35.1L622.2 33L622.2 30.9L622.2 28.8L622.2 26.7L622.2 24.6L622.2 22.5L622.2 20.4L622.2 18.3L620 18.3L617.7 18.3L615.5 18.3L613.3 18.3L611 18.3L608.8 18.3L606.6 18.3L604.3 18.3L602.1 18.3L599.9 18.3L597.6 18.3L595.4 18.3L593.2 18.3L590.9 18.3L588.7 18.3L586.5 18.3L584.2 18.3L582 18.3L579.8 18.3L577.5 18.3L575.3 18.3L573.1 18.3L570.8 18.3L568.6 18.3L566.3 18.3L564.1 18.3L561.9 18.3L559.6 18.3L557.4 18.3L555.2 18.3L552.9 18.3L550.7 18.3L548.5 18.3L546.2 18.3L544 18.3L541.8 18.3L539.5 18.3L537.3 18.3L535.1 18.3L532.8 18.3L530.6 18.3L528.4 18.3L526.1 18.3L523.9 18.3L521.7 18.3L519.4 18.3L517.2 18.3L515 18.3L512.7 18.3L510.5 18.3L508.3 18.3L506 18.3L503.8 18.3L501.6 18.3L501.2 18.3L501.6 18.8L502.9 20.4L503.8 21.5L504.7 22.5L506 24L506.5 24.6L508.3 26.5L508.5 26.7L510.4 28.8L510.5 28.9L512.4 30.9L512.7 31.3L514.3 33L515 33.7L516.3 35.1L517.2 36L518.3 37.2L519.4 38.4L520.3 39.3L521.7 40.8L522.3 41.4L523.9 43.1L524.3 43.5L526.1 45.3L526.5 45.6L528.4 47.3L528.8 47.7L530.6 49.2L531.3 49.8L532.8 51L534 51.9L535.1 52.7L536.8 54L537.3 54.3L539.5 55.9L539.9 56.1L541.8 57.3L543.1 58.2L544 58.7L546.2 60.1L546.5 60.3L548.5 61.4L550.1 62.4L550.7 62.7L552.9 64L553.8 64.5L555.2 65.3L557.4 66.5L557.6 66.6L559.6 67.7L561.4 68.7L561.9 69L564.1 70.2L565.2 70.8L566.3 71.4L568.6 72.7L568.9 72.9L570.8 74L572.5 75L573.1 75.3L575.3 76.6L576.1 77.1L577.5 77.9L579.6 79.2L579.8 79.3L582 80.6L583.2 81.3L584.2 81.8L586.5 83.1L586.9 83.4L588.7 84.4L590.6 85.5L590.9 85.7L593.2 86.9L594.3 87.6L595.4 88.1L597.6 89.4L598.2 89.7L599.9 90.5L602.1 91.7L602.2 91.8L604.3 92.9L606.2 93.9L606.6 94L608.8 95.2L610.3 96L611 96.4L613.3 97.6L614.2 98.1L615.5 98.8L617.7 100L618.1 100.2L620 101.2L621.8 102.3z" fill="#a4a4ff" fill-rule="evenodd" stroke="#a4a4ff" stroke-width="0.3"/>
<path d="M620.4 91.8L622.2 92.8L622.2 91.8L622.2 89.7L622.2 87.6L622.2 85.5L622.2 83.4L622.2 81.3L622.2 79.2L622.2 77.1L622.2 75L622.2 72.9L622.2 70.8L622.2 68.7L622.2 66.6L622.2 64.5L622.2 62.4L622.2 60.3L622.2 58.2L622.2 56.1L622.2 54L622.2 51.9L622.2 49.8L622.2 47.7L622.2 45.6L622.2 43.5L622.2 41.4L622.2 39.3L622.2 37.2L622.2 35.1L622.2 33L622.2 30.9L622.2 28.8L622.2 26.7L622.2 24.6L622.2 22.5L622.2 20.4L622.2 18.3L620 18.3L617.7 18.3L615.5 18.3L613.3 18.3L611 18.3L608.8 18.3L606.6 18.3L604.3 18.3L602.1 18.3L599.9 18.3L597.6 18.3L595.4 18.3L593.2 18.3L590.9 18.3L588.7 18.3L586.5 18.3L584.2 18.3L582 18.3L579.8 18.3L577.5 18.3L575.3 18.3L573.1 18.3L570.8 18.3L568.6 18.3L566.3 18.3L564.1 18.3L561.9 18.3L559.6 18.3L557.4 18.3L555.2 18.3L552.9 18.3L550.7 18.3L548.5 18.3L546.2 18.3L544 18.3L541.8 18.3L539.5 18.3L537.3 18.3L535.1 18.3L532.8 18.3L530.6 18.3L528.4 18.3L526.1 18.3L523.9 18.3L521.7 18.3L519.4 18.3L517.2 18.3L515 18.3L514 18.3L515 19.4L515.9 20.4L517.2 21.9L517.8 22.5L519.4 24.3L519.8 24.6L521.7 26.6L521.8 26.7L523.8 28.8L523.9 28.9L525.9 30.9L526.1 31.2L527.9 33L528.4 33.4L530.1 35.1L530.6 35.6L532.3 37.2L532.8 37.7L534.6 39.3L535.1 39.7L537 41.4L537.3 41.7L539.5 43.5L539.5 43.5L541.8 45.3L542.2 45.6L544 46.9L545.1 47.7L546.2 48.5L548.2 49.8L548.5 50L550.7 51.4L551.4 51.9L552.9 52.8L554.9 54L555.2 54.1L557.4 55.4L558.6 56.1L559.6 56.7L561.9 57.9L562.3 58.2L564.1 59.2L566.2 60.3L566.3 60.4L568.6 61.6L570 62.4L570.8 62.9L573 64.1L573.7 64.5L575.3 65.4L577.3 66.6L577.5 66.7L579.8 68.1L580.7 68.7L582 69.5L584.1 70.8L584.2 70.9L586.5 72.3L587.4 72.9L588.7 73.7L590.7 75L590.9 75.1L593.2 76.5L594.1 77.1L595.4 77.8L597.6 79.2L597.6 79.2L599.9 80.5L601.2 81.3L602.1 81.8L604.3 83L604.9 83.4L606.6 84.3L608.7 85.5L608.8 85.5L611 86.7L612.6 87.6L613.3 87.9L615.5 89.1L616.5 89.7L617.7 90.3L620 91.5L620.4 91.8z" fill="#9292ff" fill-rule="evenodd" stroke="#9292ff" stroke-width="0.3"/>
<path d="M621.3 83.4L622.2 83.9L622.2 83.4L622.2 81.3L622.2 79.2L622.2 77.1L622.2 75L622.2 72.9L622.2 70.8L622.2 68.7L622.2 66.6L622.2 64.5L622.2 62.4L622.2 60.3L622.2 58.2L622.2 56.1L622.2 54L622.2 51.9L622.2 49.8L622.2 47.7L622.2 45.6L622.2 43.5L622.2 41.4L622.2 39.3L622.2 37.2L622.2 35.1L622.2 33L622.2 30.9L622.2 28.8L622.2 26.7L622.2 24.6L622.2 22.5L622.2 20.4L622.2 18.3L620 18.3L617.7 18.3L615.5 18.3L613.3 18.3L611 18.3L608.8 18.3L606.6 18.3L604.3 18.3L602.1 18.3L599.9 18.3L597.6 18.3L595.4 18.3L593.2 18.3L590.9 18.3L588.7 18.3L586.5 18.3L584.2 18.3L582 18.3L579.8 18.3L577.5 18.3L575.3 18.3L573.1 18.3L570.8 18.3L568.6 18.3L566.3 18.3L564.1 18.3L561.9 18.3L559.6 18.3L557.4 18.3L555.2 18.3L552.9 18.3L550.7 18.3L548.5 18.3L546.2 18.3L544 18.3L541.8 18.3L539.5 18.3L537.3 18.3L535.1 18.3L532.8 18.3L530.6 18.3L528.4 18.3L526.3 18.3L528.3 20.4L528.4 20.4L530.4 22.5L530.6 22.7L532.4 24.6L532.8 25L534.6 26.7L535.1 27.2L536.8 28.8L537.3 29.3L539.1 30.9L539.5 31.3L541.5 33L541.8 33.3L543.9 35.1L544 35.2L546.2 37L546.5 37.2L548.5 38.7L549.2 39.3L550.7 40.4L552.1 41.4L552.9 42L555.1 43.5L555.2 43.5L557.4 45L558.4 45.6L559.6 46.4L561.7 47.7L561.9 47.8L564.1 49.1L565.2 49.8L566.3 50.4L568.6 51.7L568.9 51.9L570.8 53L572.6 54L573.1 54.2L575.3 55.5L576.3 56.1L577.5 56.8L579.8 58.1L579.9 58.2L582 59.5L583.3 60.3L584.2 60.8L586.5 62.2L586.7 62.4L588.7 63.7L590 64.5L590.9 65.1L593.2 66.5L593.3 66.6L595.4 67.9L596.5 68.7L597.6 69.4L599.9 70.8L599.9 70.8L602.1 72.2L603.3 72.9L604.3 73.5L606.6 74.9L606.7 75L608.8 76.2L610.3 77.1L611 77.5L613.3 78.8L613.9 79.2L615.5 80.1L617.6 81.3L617.7 81.4L620 82.6L621.3 83.4z" fill="#8080ff" fill-rule="evenodd" stroke="#8080ff" stroke-width="0.3"/>
<path d="M621.6 75L622.2 75.3L622.2 75L622.2 72.9L622.2 70.8L622.2 68.7L622.2 66.6L622.2 64.5L622.2 62.4L622.2 60.3L622.2 58.2L622.2 56.1L622.2 54L622.2 51.9L622.2 49.8L622.2 47.7L622.2 45.6L622.2 43.5L622.2 41.4L622.2 39.3L622.2 37.2L622.2 35.1L622.2 33L622.2 30.9L622.2 28.8L622.2 26.7L622.2 24.6L622.2 22.5L622.2 20.4L622.2 18.3L620 18.3L617.7 18.3L615.5 18.3L613.3 18.3L611 18.3L608.8 18.3L606.6 18.3L604.3 18.3L602.1 18.3L599.9 18.3L597.6 18.3L595.4 18.3L593.2 18.3L590.9 18.3L588.7 18.3L586.5 18.3L584.2 18.3L582 18.3L579.8 18.3L577.5 18.3L575.3 18.3L573.1 18.3L570.8 18.3L568.6 18.3L566.3 18.3L564.1 18.3L561.9 18.3L559.6 18.3L557.4 18.3L555.2 18.3L552.9 18.3L550.7 18.3L548.5 18.3L546.2 18.3L544 18.3L541.8 18.3L539.5 18.3L538.5 18.3L539.5 19.3L540.6 20.4L541.8 21.5L542.8 22.5L544 23.6L545.1 24.6L546.2 25.6L547.5 26.7L548.5 27.5L550 28.8L550.7 29.4L552.5 30.9L552.9 31.2L555.2 33L555.2 33L557.4 34.6L558 35.1L559.6 36.3L561 37.2L561.9 37.8L564.1 39.3L564.1 39.3L566.3 40.8L567.3 41.4L568.6 42.2L570.6 43.5L570.8 43.6L573.1 45L574 45.6L575.3 46.4L577.5 47.7L577.5 47.7L579.8 49L581 49.8L582 50.4L584.2 51.7L584.5 51.9L586.5 53.1L587.9 54L588.7 54.5L590.9 55.9L591.2 56.1L593.2 57.3L594.5 58.2L595.4 58.7L597.6 60.2L597.8 60.3L599.9 61.6L601.1 62.4L602.1 63L604.3 64.4L604.4 64.5L606.6 65.8L607.8 66.6L608.8 67.2L611 68.6L611.1 68.7L613.3 70L614.6 70.8L615.5 71.4L617.7 72.7L618 72.9L620 74L621.6 75z" fill="#6d6dff" fill-rule="evenodd" stroke="#6d6dff" stroke-width="0.3"/>
<path d="M621.6 66.6L622.2 67L622.2 66.6L622.2 64.5L622.2 62.4L622.2 60.3L622.2 58.2L622.2 56.1L622.2 54L622.2 51.9L622.2 49.8L622.2 47.7L622.2 45.6L622.2 43.5L622.2 41.4L622.2 39.3L622.2 37.2L622.2 35.1L622.2 33L622.2 30.9L622.2 28.8L622.2 26.7L622.2 24.6L622.2 22.5L622.2 20.4L622.2 18.3L620 18.3L617.7 18.3L615.5 18.3L613.3 18.3L611 18.3L608.8 18.3L606.6 18.3L604.3 18.3L602.1 18.3L599.9 18.3L597.6 18.3L595.4 18.3L593.2 18.3L590.9 18.3L588.7 18.3L586.5 18.3L584.2 18.3L582 18.3L579.8 18.3L577.5 18.3L575.3 18.3L573.1 18.3L570.8 18.3L568.6 18.3L566.3 18.3L564.1 18.3L561.9 18.3L559.6 18.3L557.4 18.3L555.2 18.3L552.9 18.3L550.7 18.3L550.7 18.3L550.7 18.3L552.9 20.4L553 20.4L555.2 22.3L555.4 22.5L557.4 24.2L557.9 24.6L559.6 26L560.5 26.7L561.9 27.8L563.2 28.8L564.1 29.5L566 30.9L566.3 31.1L568.6 32.7L568.9 33L570.8 34.3L572 35.1L573.1 35.8L575.1 37.2L575.3 37.3L577.5 38.8L578.3 39.3L579.8 40.2L581.6 41.4L582 41.6L584.2 43.1L584.9 43.5L586.5 44.5L588.3 45.6L588.7 45.9L590.9 47.3L591.6 47.7L593.2 48.7L594.9 49.8L595.4 50.1L597.6 51.5L598.2 51.9L599.9 52.9L601.5 54L602.1 54.3L604.3 55.8L604.8 56.1L606.6 57.2L608.1 58.2L608.8 58.6L611 60L611.5 60.3L613.3 61.4L614.8 62.4L615.5 62.8L617.7 64.2L618.2 64.5L620 65.6L621.6 66.6z" fill="#5b5bff" fill-rule="evenodd" stroke="#5b5bff" stroke-width="0.3"/>
<path d="M621.3 58.2L622.2 58.7L622.2 58.2L622.2 56.1L622.2 54L622.2 51.9L622.2 49.8L622.2 47.7L622.2 45.6L622.2 43.5L622.2 41.4L622.2 39.3L622.2 37.2L622.2 35.1L622.2 33L622.2 30.9L622.2 28.8L622.2 26.7L622.2 24.6L622.2 22.5L622.2 20.4L622.2 18.3L620 18.3L617.7 18.3L615.5 18.3L613.3 18.3L611 18.3L608.8 18.3L606.6 18.3L604.3 18.3L602.1 18.3L599.9 18.3L597.6 18.3L595.4 18.3L593.2 18.3L590.9 18.3L588.7 18.3L586.5 18.3L584.2 18.3L582 18.3L579.8 18.3L577.5 18.3L575.3 18.3L573.1 18.3L570.8 18.3L568.6 18.3L566.3 18.3L564.1 18.3L562.9 18.3L564.1 19.4L565.4 20.4L566.3 21.2L567.9 22.5L568.6 23L570.6 24.6L570.8 24.8L573.1 26.5L573.4 26.7L575.3 28.1L576.2 28.8L577.5 29.7L579.2 30.9L579.8 31.3L582 32.8L582.2 33L584.2 34.4L585.3 35.1L586.5 35.9L588.5 37.2L588.7 37.3L590.9 38.8L591.7 39.3L593.2 40.3L594.9 41.4L595.4 41.7L597.6 43.1L598.2 43.5L599.9 44.6L601.5 45.6L602.1 46L604.3 47.4L604.7 47.7L606.6 48.8L608 49.8L608.8 50.3L611 51.7L611.3 51.9L613.3 53.1L614.7 54L615.5 54.5L617.7 55.9L618 56.1L620 57.3L621.3 58.2z" fill="#4949ff" fill-rule="evenodd" stroke="#4949ff" stroke-width="0.3"/>
<path d="M620.9 49.8L622.2 50.6L622.2 49.8L622.2 47.7L622.2 45.6L622.2 43.5L622.2 41.4L622.2 39.3L622.2 37.2L622.2 35.1L622.2 33L622.2 30.9L622.2 28.8L622.2 26.7L622.2 24.6L622.2 22.5L622.2 20.4L622.2 18.3L620 18.3L617.7 18.3L615.5 18.3L613.3 18.3L611 18.3L608.8 18.3L606.6 18.3L604.3 18.3L602.1 18.3L599.9 18.3L597.6 18.3L595.4 18.3L593.2 18.3L590.9 18.3L588.7 18.3L586.5 18.3L584.2 18.3L582 18.3L579.8 18.3L577.5 18.3L575.3 18.3L575.1 18.3L575.3 18.5L577.5 20.3L577.7 20.4L579.8 22L580.4 22.5L582 23.7L583.1 24.6L584.2 25.4L586 26.7L586.5 27L588.7 28.6L588.9 28.8L590.9 30.2L591.9 30.9L593.2 31.8L595 33L595.4 33.3L597.6 34.8L598.1 35.1L599.9 36.3L601.3 37.2L602.1 37.7L604.3 39.2L604.5 39.3L606.6 40.6L607.8 41.4L608.8 42.1L611 43.5L611 43.5L613.3 44.9L614.3 45.6L615.5 46.4L617.6 47.7L617.7 47.8L620 49.2L620.9 49.8z" fill="#3737ff" fill-rule="evenodd" stroke="#3737ff" stroke-width="0.3"/>
<path d="M620.5 41.4L622.2 42.5L622.2 41.4L622.2 39.3L622.2 37.2L622.2 35.1L622.2 33L622.2 30.9L622.2 28.8L622.2 26.7L622.2 24.6L622.2 22.5L622.2 20.4L622.2 18.3L620 18.3L617.7 18.3L615.5 18.3L613.3 18.3L611 18.3L608.8 18.3L606.6 18.3L604.3 18.3L602.1 18.3L599.9 18.3L597.6 18.3L595.4 18.3L593.2 18.3L590.9 18.3L588.7 18.3L587.2 18.3L588.7 19.5L589.9 20.4L590.9 21.2L592.6 22.5L593.2 22.9L595.4 24.5L595.5 24.6L597.6 26.2L598.4 26.7L599.9 27.7L601.4 28.8L602.1 29.3L604.3 30.8L604.5 30.9L606.6 32.3L607.6 33L608.8 33.8L610.8 35.1L611 35.2L613.3 36.7L614 37.2L615.5 38.2L617.2 39.3L617.7 39.6L620 41L620.5 41.4z" fill="#2424ff" fill-rule="evenodd" stroke="#2424ff" stroke-width="0.3"/>
<path d="M620.4 33L622.2 34.1L622.2 33L622.2 30.9L622.2 28.8L622.2 26.7L622.2 24.6L622.2 22.5L622.2 20.4L622.2 18.3L620 18.3L617.7 18.3L615.5 18.3L613.3 18.3L611 18.3L608.8 18.3L606.6 18.3L604.3 18.3L602.1 18.3L599.9 18.3L599.4 18.3L599.9 18.6L602.1 20.3L602.2 20.4L604.3 22L605 22.5L606.6 23.6L608 24.6L608.8 25.2L611 26.7L611 26.7L613.3 28.2L614.1 28.8L615.5 29.7L617.3 30.9L617.7 31.2L620 32.7L620.4 33z" fill="#1212ff" fill-rule="evenodd" stroke="#1212ff" stroke-width="0.3"/>
<path d="M621.1 24.6L622.2 25.3L622.2 24.6L622.2 22.5L622.2 20.4L622.2 18.3L620 18.3L617.7 18.3L615.5 18.3L613.3 18.3L612.2 18.3L613.3 19.1L615.1 20.4L615.5 20.7L617.7 22.3L618.1 22.5L620 23.8L621.1 24.6z" fill="#0000ff" fill-rule="evenodd" stroke="#0000ff" stroke-width="0.3"/>
</g>
<path d="M327.3 18.3H622.2V270.2" stroke="#808080" stroke-width="0.7" fill="none"/>
<g stroke="#555" stroke-width="0.7" fill="none">
<path d="M327.3 18.3V270.2H622.2"/>
<path d="M327.3 270.2h-3.6"/>
<path d="M327.3 228.2h-3.6"/>
<path d="M327.3 186.2h-3.6"/>
<path d="M327.3 144.2h-3.6"/>
<path d="M327.3 102.3h-3.6"/>
<path d="M327.3 60.3h-3.6"/>
<path d="M327.3 18.3h-3.6"/>
<path d="M389.9 270.2v4.3"/>
<path d="M479.2 270.2v4.3"/>
<path d="M568.6 270.2v4.3"/>
</g>
<g font-size="12" fill="#111">
<text x="320" y="275.4" text-anchor="end">0</text>
<text x="320" y="233.4" text-anchor="end">5</text>
<text x="320" y="191.4" text-anchor="end">10</text>
<text x="320" y="149.4" text-anchor="end">15</text>
<text x="320" y="107.5" text-anchor="end">20</text>
<text x="320" y="65.5" text-anchor="end">25</text>
<text x="320" y="23.5" text-anchor="end">30</text>
<text x="389.9" y="284.9" text-anchor="middle">5</text>
<text x="479.2" y="284.9" text-anchor="middle">10</text>
<text x="568.6" y="284.9" text-anchor="middle">15</text>
</g>
<g font-size="9.7" fill="#111" text-anchor="middle">
<text x="474.8" y="300.4">maximum wind speed</text>
<text transform="translate(303.4 144.2) rotate(-90)">Lag (days)</text>
</g>
<text x="331.6" y="40.2" font-size="20" fill="#111">(b)</text>
<g stroke="#222" stroke-width="0.6">
<rect x="637.6" y="254.81" width="15.6" height="15.79" fill="#0000ff"/>
<rect x="637.6" y="239.01" width="15.6" height="15.79" fill="#1212ff"/>
<rect x="637.6" y="223.22" width="15.6" height="15.79" fill="#2424ff"/>
<rect x="637.6" y="207.43" width="15.6" height="15.79" fill="#3737ff"/>
<rect x="637.6" y="191.63" width="15.6" height="15.79" fill="#4949ff"/>
<rect x="637.6" y="175.84" width="15.6" height="15.79" fill="#5b5bff"/>
<rect x="637.6" y="160.04" width="15.6" height="15.79" fill="#6d6dff"/>
<rect x="637.6" y="144.25" width="15.6" height="15.79" fill="#8080ff"/>
<rect x="637.6" y="128.46" width="15.6" height="15.79" fill="#9292ff"/>
<rect x="637.6" y="112.66" width="15.6" height="15.79" fill="#a4a4ff"/>
<rect x="637.6" y="96.87" width="15.6" height="15.79" fill="#b6b6ff"/>
<rect x="637.6" y="81.08" width="15.6" height="15.79" fill="#c8c8ff"/>
<rect x="637.6" y="65.28" width="15.6" height="15.79" fill="#dbdbff"/>
<rect x="637.6" y="49.49" width="15.6" height="15.79" fill="#ededff"/>
<rect x="637.6" y="33.69" width="15.6" height="15.79" fill="#ffffff"/>
<rect x="637.6" y="17.90" width="15.6" height="15.79" fill="#ffffff"/>
<path d="M653.2 270.60h3.8"/>
<path d="M653.2 231.12h3.8"/>
<path d="M653.2 191.63h3.8"/>
<path d="M653.2 152.15h3.8"/>
<path d="M653.2 112.66h3.8"/>
<path d="M653.2 73.18h3.8"/>
<path d="M653.2 33.69h3.8"/>
</g>
<g font-size="12" fill="#111">
<text x="661" y="275.7">0.70</text>
<text x="661" y="236.2">0.75</text>
<text x="661" y="196.7">0.80</text>
<text x="661" y="157.2">0.85</text>
<text x="661" y="117.8">0.90</text>
<text x="661" y="78.3">0.95</text>
<text x="661" y="38.8">1.00</text>
</g>
<text x="644.7" y="5.9" font-size="6.5" font-weight="bold" fill="#111" text-anchor="middle">RR</text>
</svg>
</div>
</body></html>
